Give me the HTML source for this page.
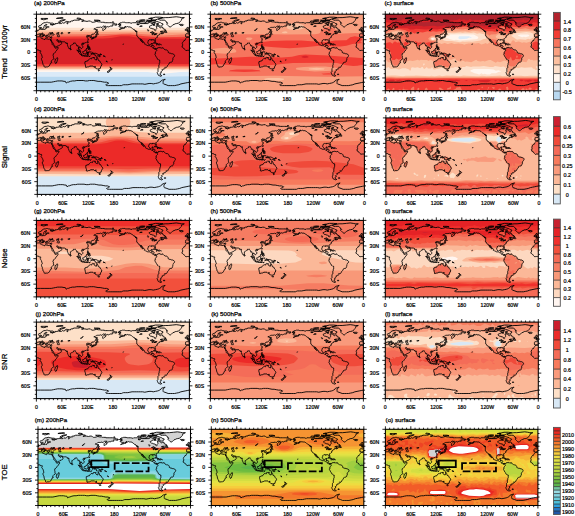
<!DOCTYPE html><html><head><meta charset="utf-8"><style>html,body{margin:0;padding:0;background:#fff;}body{width:575px;height:516px;overflow:hidden;position:relative;}</style></head><body><svg width="575" height="516" viewBox="0 0 575 516" style="position:absolute;left:0;top:0" font-family='"Liberation Sans", sans-serif'><defs><path id="cst" d="M192 24l2 1 1 1 4-1 0 1-1 0-3 1-1 1 1 2 3 0 0 1 2 0 2 0 1 0-1 1-1 2-1 0-2 1-3 1 2-1 3-1 2 0 2-1 2-1 0-1 2-1 2-1-2 1 0 1 2-1 2 0 2-1 2 1 2 0 2 0 2 1 2 1 2 2 1 1 2 1 1 0 0 1 2 1 0 1 2 1 1 2 1 1 0 1 0 1 0 2 0 1 0 2 0 1 2 1 0 1 1 1 0 1 2 1 1 0 1 1 0 1 1 2 1 0 1 2-1 0 2 2 1 1 1 1 1 1 1 0-1-1-1-1-1-2 0-1-1-1-1-1-1-2 1 1 2 1 1 2 1 2 2 1 0 1 2 1 0 1 1 1-1 1 2 1 1 1 1 0 2 1 2 1 2 0 1 0 1 0 2 1 1 1 1 0 2 1 1 1 1 1 0 1 1 0 1 1 1 1 1 0 2 1 0-1 0-1 2 1 0 1 1 1 0 2-2 2-1 1 0 1-1 2 1 0 0 1-1 1 0 1 0 1 1 1 1 2 1 2 1 1 1 2 0 1 2 1 2 2 2 0 0 3 0 3-1 2 0 2-1 2 0 2 0 2 0 2-1 1-1 1 0 2 0 2 0 2 0 1-2 2 1 1 0 2 1 2 1 2 1 0 2 1 3 1 1-1 1 0-2-1-1-1 0-1-1 0 0-2 1-1 2-1-2-2 2-1 1-1 1-1 0-1-1-1 1 0 2-1 0-1 1 0 2 0 1-1 1-2-1-1 1-1 1 1 2 0 1-1 1-2 1-2 1-1 1-1 1-2 0-1 2-1 1-1 2 0 1 0 1-1 1-2 0-1 1-1 0-2 0-2 1-1 0-1 1-1 1-1 1-2 0-1 0-1-1-1-2-1-2-1-2 0-2-1-2 0-2-1-2-1 0-2-1-2-1-1-2-1-1 0-2 0-1-1-2-1-1-1-1-1 0-1-2 0-2 1-1-1-1 1-1-2-1 0-1 1-1 0 0-1-1 1-1 0-2 1 0 1-1 1 0-1-1 0-2-1 0 1-2 0-1-1-1-1 0-1 1-2 0-1-1-1-2 0-2 0-1 0 1 0 0-2 0-2 1-1-1-1 0 1-2 0 0 1-1 1-1 0-1 1-1 0-1-1-1 0 0-1-1-1-1-1 0-2 0-1 1-1 0-1 0-1 2-1 1-1 2 0 1 1 2 0-1-1 2 0 2 0 1 0 1 0 1 1 0 1 1 1 0 1 1 1 1 0 0-1 0-2-1 0 0-2 0-2 1 0 1-1 1-1 1-1 1 0 0-2 0-1 1 0 0-1 1 0 0-1 1-1 1 0 1-1 1 0-1-1 1-1 1 0 1 0 1-1 1 0 1 0 1-1-2 1 0 1 1 0 1 0 2-1 1 0 1-1 0-1-2 1-2 0-1-1-1-1 2 0 0-1-2 0-1 0-2 1 1-1 1 0 1-1 2 0 3 0 2-1 2-1 1 0 0-1-1-1-3-1-2-1 0-2-1 0-1-2-1 0-1 1-2 1-2-1 0-1-2-1-2-1-2 0-2 0 0 2 1 2 0 1 0 1-2 2 0 1 0 1-1 1-2-1 0-1 0-1-2-1-4-1-2-1-2 0-2-2 0-1-1-1 2-1 2-1 1-1 2 0 1-1 1-1 1 0 2 0 1-1 0-1 1-2-2 0-3 0 0 1-2 2 0-1-2-1-2-1-2-1 1-1-2 0-1 2 0 1-2 1-4 0-2 0-4 0-2 0-3 0-2 0-2-1-3 0-4 0-1-1-3 0-2 0-2 0-2 0-1 1-3 0-2-1-2 0-4 0-2 0-2 0-2-1-3 0-2 0-1 0-2 1-2 0-2 1-1 1-1 0 2 0 0 1 2 0 0 1-2 0-2 0-1 0zM287 12l5-2 4-1 7-1 7 0 10-1 9-1 7 1 5 1 7 0-4 2-3 1 1 2-2 2-1 1-1 2-2 2-2 1-4 1-2 0-4 2-3 1-1 1-2 2-1 1-1 1-2 0-2-1-1-1-1-1-1-1-2-2-1-1 1-1 2-1-1-1-2 0 1-1-2-1-1-2-2-2-4 0-4 0-4 0-1-1zM295 28l-1 0-2 0-3-1-2-1-3 0-2-1 1 0 3-1 2-1-2-1-3 0-1-1-3-1-3 0-3 0-2-1-1-1 2-2 3 0 4 0 4 1 3 1 3 1 3 1 1 1 2 1 3 1 0 1-2 1 0 1-1 1zM270 14l1-2 1 0-4-2 4-1 8-2 10 0 8 1-2 0-5 2-5 1-2 1-3 1-3 1-6 0zM270 11l-6-1 1 0 5-1 3 1zM280 16l-5-1-7 0 0-1 4 0 6 0 2 0zM242 19l0-1 4-1 6 0 3 1 3 2 0 1-3 0-5 0-4 0-4-1zM235 18l1-2 4 0 4 0-2 2-3 1zM245 15l10-1 1 0-6-1-7 1zM258 18l4 0 2-1-3-1-3 1zM264 18l3 0 3-2-4 0-1 0zM259 14l4 1 4 0-1-1-5 0zM274 26l5 0-1-2-4 0-1 1zM301 42l1 0 0-2 2-1 0-1 0 2 2 0 0 1 1 1 0 1-1 0-2 0 0-1zM275 68l1-1 2 0 2 0 2 1 2 1 2 1-2 0-2 0 0-1-2-1-2 0-1 0zM286 72l1-2 3 0 2 1-2 1-2 0-1 0zM282 72l2 0-1 0zM293 72l1 0zM232 39l2 2 3 1-1-2-3-1zM206 32l2 0-2 1-1 0zM204 70l1 0-1 1zM299 141l3 0 0 1-1 0-2 0zM338 26l-2-2 2 0 6 0 2 1-1 1-3 1zM-6 40l3-1 4 0 1-2-2-1-2-2 0-1 0-1-2 0 1-1-2 0-1 1 0 2 1 1 2 0 0 1 0 1-2 0 1 1-1 0 2 1-1 0zM354 40l3-1 4 0 1-2-2-1-2-2 0-1 0-1-2 0 1-1-2 0-1 1 0 2 1 1 2 0 0 1 0 1-2 0 1 1-1 0 2 1-1 0zM354 38l0-1 0-2-1 0-3 1 0 1 0 1zM-6 54l2-1 2 0 1-1 1 0 0-1 0-1 1-1 1 0 1-1 0-1 1 0 1 0 2 0 0-1 1 0 1 0 1 0 0 1 1 1 1 0 1 1 1 0 1 1 1 0 0 1 0 1 1-1 0-1-1 0 1 0 1 0 0-1-1 0-1-1-1 0-1 0 0-2-2 0 0-1 1-1 1 0 0 1 1 1 1 0 1 1 1 0 1 1 1 1-1 1 1 0 1 1 0 1 1 0 0 1 0 1 1 0 0-1 1-1-1-1 0-1 0-1 1 1 0-1 1 0 1 0 1 1-1 0 1 1 0 1 0 1 1 0 1 0 1 1 1-1 1 0 1 1 1 0 1-1 1 0 0 1 0 1 0 1-1 1 0 1-1 1-1 0-1 0 1 1 0 1 1 1 1-2 0 2 1 1 0 1 2 2 0 1 1 1 1 2 1 2 1 1 1 1 0 2 1 1 1 0 1 0 2-1 2-1 1 0 1-1 2-1 1 0 1-1 1-1 1 0 1-1 0-1 1-1-1-1 0-1-1 0-1 0-1-1 0-1-1 1-1 1-1 0-1 0 0-1 0-1-1 0 0 1-1-1 0-1-1-1-1 0 0-1 0-1 2 0 1 1 1 1 1 1 1 0 2 0 1 0 0 1 2 0 1 1 2 0 1 0 2 0 1 0 1 0 1 1 0 1 1 0 1 0-1 1 1 1 1 0 1 0 0-1 1 0 0 1 0 1 0 1 0 1 0 1 1 2 0 1 1 1 0 1 1 1 0 1 1 1 1 1 0-1 1 0 0-1 1-1 0-1 0-1 0-1 0-2 1 0 1-1 1-1 1 0 1-1 1-1 1 0 0-2 1 0 1 0 1 0 1-1 1 1 0 1 1 1 1 1 0 1 1 1-1 1 1 0 1 0 1 0 1 0 0 1 0 1 1 2 0 2-1 2 1 1 1 1 0 1 1 1 0 1 1 1 1 1 1 0 0-1-1-2 0-1 0-1-1 0-1-1-1-1 0-1-1-1 1-2 0-1 1 0 1 0 0 1 1 0 0 1 1 0 1 1 0 1 1 0 1-1 1-1 1-1 0-2 0-1-1-1-1-1 0-1-1-1 0-1 1-1 1 0 0-1 1 0 1 0 0 1 0 1 0-1 1-1 1 0 2 0 1-1 1 0 1 0 1-1 1-1 1-1 0-1 1-1 1-1 0-1-1 0 1-1 0-1-1 0 0-1-1-1-1-1 1-1 1-1 1 0 1 0-1-1-1 0-1 0-1 1 0-1-1 0 0-1 2-1 1-1 1 1-1 1 1 0 1-1 1 0 1 0 0 1 0 1 1 0 1 0-1 1 0 1 0 1 2 0 1 0 0-1 1 0-1-2-1-1 0-1 1 0 1-1 0-1 1 0 0-1 1 0 1 0 1 0 2-1 1-1 1-1 0-1 2-1 0-1 0-1 1-2 0-1 0-1-1 0-2 0-1-1-2 0 1-1 2 0 1-1 2-1 1-1 2 0 2 0 2 0 3-1 1 1 2 0 1-1 2-2 3 0 0 1 2-1 1 0-2 2-3 2-1 1-1 1 0 2 0 2 1 1 1-1 1-1 1-1 2-1 0-1 1 0-1-2 1 0 1-2 2 0 2-1 2 1 2-1 2-1 2 0 3 0 0-1-1-1 0-1 2 0 2 0 2 0 2 1 2 0-1-2 2 0 1 0-2-1-2 0-2-1-2 0-2-1-4-1-4 0-2 0-2 0-5 0-3 0 0-1-5 0-3 0-2-1-4 0-5-1-3 1-4 1-3 0-2-1-1-1-1-1-4 0-4 1-5-1-4 0-3 1-1-1 4 0 2-2-5-1-3-1-4 2-3 0-4 0-4 0-3 1 0 1-4 0-2 1 1 1-3 0-2 1-1-2-1 2 0 3-2 1 0-1 0-2 1-3-3 0-2 1 0 1-1 1-3 1-3-1-2 2-3 0-2 0-2-1-4 1-2 0-2 0 0 2-2 0-2 0 0 1-2 1-2-1-1 1 0-2-2 0-1-1 2 0 2 1 3 0 2 0 0-2-1 0-2-1-3 0-2 0-3-1-2 0-2-1-2 0-3 1-3 0-2 1-2 1-1 2-1 0-1 2-1 0-2 1-2 0-1 1 0 1 0 1 1 1 0 1 1 0 1 0 2-1 0-1 1 1 1 1 0 1 1 1 1 1 2-1 0-1 1-1 0-1 1 0 1-1-1-1-1-1 1-1 2-1 1 0 1-2 2 0 1 1-1 0-1 1-1 1-1 1 1 1 0 1 2 0 1 0 1 0 2 0 1 0 1 0-1 0-1 0-2 0-2 1-1 0 1 1 0 1-2-1 0 1-1 1 0 1-1 0 0 1-1 0-1-1-2 1-2 0-2 0-1 0-1-1 0-1 0-1 1-1-1 1-1 0-1 0 0 1 1 1 0 1-1 0-1 0-1 1-1 0 0 1-1 0-2 1 0 1-2 0 0 1-1-1-1 0 0 1-2 0-1 1 1 0 1 0 1 1 0 1 1 0 0 1-1 1 0 1-2-1-2 0-1 0-1 0-1 1 0 1 0 1 0 1-1 1 1 0 0 1 0 1 1 0 1 0zM354 54l2-1 2 0 1-1 1 0 0-1 0-1 1-1 1 0 1-1 0-1 1 0 1 0 2 0 0-1 1 0 1 0 1 0 0 1 1 1 1 0 1 1 1 0 1 1 1 0 0 1 0 1 1-1 0-1-1 0 1 0 1 0 0-1-1 0-1-1-1 0-1 0 0-2-2 0 0-1 1-1 1 0 0 1 1 1 1 0 1 1 1 0 1 1 1 1-1 1 1 0 1 1 0 1 1 0 0 1 0 1 1 0 0-1 1-1-1-1 0-1 0-1 1 1 0-1 1 0 1 0 1 1-1 0 1 1 0 1 0 1 1 0 1 0 1 1 1-1 1 0 1 1 1 0 1-1 1 0 0 1 0 1 0 1-1 1 0 1-1 1-1 0-1 0 1 1 0 1 1 1 1-2 0 2 1 1 0 1 2 2 0 1 1 1 1 2 1 2 1 1 1 1 0 2 1 1 1 0 1 0 2-1 2-1 1 0 1-1 2-1 1 0 1-1 1-1 1 0 1-1 0-1 1-1-1-1 0-1-1 0-1 0-1-1 0-1-1 1-1 1-1 0-1 0 0-1 0-1-1 0 0 1-1-1 0-1-1-1-1 0 0-1 0-1 2 0 1 1 1 1 1 1 1 0 2 0 1 0 0 1 2 0 1 1 2 0 1 0 2 0 1 0 1 0 1 1 0 1 1 0 1 0-1 1 1 1 1 0 1 0 0-1 1 0 0 1 0 1 0 1 0 1 0 1 1 2 0 1 1 1 0 1 1 1 0 1 1 1 1 1 0-1 1 0 0-1 1-1 0-1 0-1 0-1 0-2 1 0 1-1 1-1 1 0 1-1 1-1 1 0 0-2 1 0 1 0 1 0 1-1 1 1 0 1 1 1 1 1 0 1 1 1-1 1 1 0 1 0 1 0 1 0 0 1 0 1 1 2 0 2-1 2 1 1 1 1 0 1 1 1 0 1 1 1 1 1 1 0 0-1-1-2 0-1 0-1-1 0-1-1-1-1 0-1-1-1 1-2 0-1 1 0 1 0 0 1 1 0 0 1 1 0 1 1 0 1 1 0 1-1 1-1 1-1 0-2 0-1-1-1-1-1 0-1-1-1 0-1 1-1 1 0 0-1 1 0 1 0 0 1 0 1 0-1 1-1 1 0 2 0 1-1 1 0 1 0 1-1 1-1 1-1 0-1 1-1 1-1 0-1-1 0 1-1 0-1-1 0 0-1-1-1-1-1 1-1 1-1 1 0 1 0-1-1-1 0-1 0-1 1 0-1-1 0 0-1 2-1 1-1 1 1-1 1 1 0 1-1 1 0 1 0 0 1 0 1 1 0 1 0-1 1 0 1 0 1 2 0 1 0 0-1 1 0-1-2-1-1 0-1 1 0 1-1 0-1 1 0 0-1 1 0 1 0 1 0 2-1 1-1 1-1 0-1 2-1 0-1 0-1 1-2 0-1 0-1-1 0-2 0-1-1-2 0 1-1 2 0 1-1 2-1 1-1 2 0 2 0 2 0 3-1 1 1 2 0 1-1 2-2 3 0 0 1 2-1 1 0-2 2-3 2-1 1-1 1 0 2 0 2 1 1 1-1 1-1 1-1 2-1 0-1 1 0-1-2 1 0 1-2 2 0 2-1 2 1 2-1 2-1 2 0 3 0 0-1-1-1 0-1 2 0 2 0 2 0 2 1 2 0-1-2 2 0 1 0-2-1-2 0-2-1-2 0-2-1-4-1-4 0-2 0-2 0-5 0-3 0 0-1-5 0-3 0-2-1-4 0-5-1-3 1-4 1-3 0-2-1-1-1-1-1-4 0-4 1-5-1-4 0-3 1-1-1 4 0 2-2-5-1-3-1-4 2-3 0-4 0-4 0-3 1 0 1-4 0-2 1 1 1-3 0-2 1-1-2-1 2 0 3-2 1 0-1 0-2 1-3-3 0-2 1 0 1-1 1-3 1-3-1-2 2-3 0-2 0-2-1-4 1-2 0-2 0 0 2-2 0-2 0 0 1-2 1-2-1-1 1 0-2-2 0-1-1 2 0 2 1 3 0 2 0 0-2-1 0-2-1-3 0-2 0-3-1-2 0-2-1-2 0-3 1-3 0-2 1-2 1-1 2-1 0-1 2-1 0-2 1-2 0-1 1 0 1 0 1 1 1 0 1 1 0 1 0 2-1 0-1 1 1 1 1 0 1 1 1 1 1 2-1 0-1 1-1 0-1 1 0 1-1-1-1-1-1 1-1 2-1 1 0 1-2 2 0 1 1-1 0-1 1-1 1-1 1 1 1 0 1 2 0 1 0 1 0 2 0 1 0 1 0-1 0-1 0-2 0-2 1-1 0 1 1 0 1-2-1 0 1-1 1 0 1-1 0 0 1-1 0-1-1-2 1-2 0-2 0-1 0-1-1 0-1 0-1 1-1-1 1-1 0-1 0 0 1 1 1 0 1-1 0-1 0-1 1-1 0 0 1-1 0-2 1 0 1-2 0 0 1-1-1-1 0 0 1-2 0-1 1 1 0 1 0 1 1 0 1 1 0 0 1-1 1 0 1-2-1-2 0-1 0-1 0-1 1 0 1 0 1 0 1-1 1 1 0 0 1 0 1 1 0 1 0zM-6 54l-1 2-1 1-2 2 0 1-1 2-2 0-1 2-2 2 0 2-1 1 1 1 0 2 0 2-2 1 1 1 0 2 1 0 2 2 1 0 1 2 1 1 1 1 2 2 2-1 2 0 2 0 1 0 2-1 1 0 2 0 1 0 1 2 1 0 1 0 1 0 1 0 0 2 0 1-1 1 0 1 1 1 1 2 1 1 0 1 1 2 0 1 1 2-1 2-1 1 0 2 0 1 1 2 1 2 0 2 1 2 0 2 1 2 1 1 1 2 0 2 1 0 1 1 2-1 2 0 2 0 1 0 1-1 2-1 1-2 1-2 1-2 0-1 3-1-1-2 0-2 1-1 1-1 1-1 2-1 1-1-1-3 0-2 0-2-1-1 0-1 1-2 0-1 2-1 2-2 1-2 2-2 1-2 2-2 1-2 0-2-1 0-2 1-3 1-1 0-1-2 0-1-1-1-1-1-1-1-1-1-2-2 0-1 0-1-1-1 0-2-1-2-1-1 0-1-1-2-1-1-1-1-1 1-2 0-3-1-2 0-2-1-1 1 0 1 0 1-2-1-1 0-1-1-1 0-2-1-1 0-1-1-1 0 1-1-1-1 0-1-2 0-2 0-1 0-2 0-2 1-2 0-1 1-2 0-1-1zM354 54l-1 2-1 1-2 2 0 1-1 2-2 0-1 2-2 2 0 2-1 1 1 1 0 2 0 2-2 1 1 1 0 2 1 0 2 2 1 0 1 2 1 1 1 1 2 2 2-1 2 0 2 0 1 0 2-1 1 0 2 0 1 0 1 2 1 0 1 0 1 0 1 0 0 2 0 1-1 1 0 1 1 1 1 2 1 1 0 1 1 2 0 1 1 2-1 2-1 1 0 2 0 1 1 2 1 2 0 2 1 2 0 2 1 2 1 1 1 2 0 2 1 0 1 1 2-1 2 0 2 0 1 0 1-1 2-1 1-2 1-2 1-2 0-1 3-1-1-2 0-2 1-1 1-1 1-1 2-1 1-1-1-3 0-2 0-2-1-1 0-1 1-2 0-1 2-1 2-2 1-2 2-2 1-2 2-2 1-2 0-2-1 0-2 1-3 1-1 0-1-2 0-1-1-1-1-1-1-1-1-1-2-2 0-1 0-1-1-1 0-2-1-2-1-1 0-1-1-2-1-1-1-1-1 1-2 0-3-1-2 0-2-1-1 1 0 1 0 1-2-1-1 0-1-1-1 0-2-1-1 0-1-1-1 0 1-1-1-1 0-1-2 0-2 0-1 0-2 0-2 1-2 0-1 1-2 0-1-1zM49 102l1 2 0 2-1 2 0 2-1 2-1 3-2 1-1-1 0-1-1-2 1-2 0-2 0-1 0-1 2 0 2-2zM80 84l0-2 0-2 1 2 1 1-1 1zM12 52l1 0 3 0-1 1-1 0-1-1zM8 51l0-2 2 0 0 1-1 1zM9 49l0-2 1 1zM24 55l2 0zM32 55l1 0 1-1 0 1-1 0zM11 12l2 0 3 1 2 0 4-1-1-1 6 0-1-1-6 0-4 0-5 0zM52 18l1 2 4-1-1-1 4-2 6-2 2-1-3 0-6 1-4 2zM47 10l8 0 8-1-3-1-10 1zM95 10l5 2 5-1-1-1-7-1zM136 14l4 2 6-1 4 0-5-1-5 0zM179 19l1 0 2 0-1-1-2 0zM140 49l0-2 1 0 1-1 0-2 1 1 1 1 1 0 1 1-2 0-1 1-1-1-1 1zM131 56l1-1 2-1 1 0 1 0 1-1 1 0 2-1 0-2 0-1 1 0 1 1 0 2-1 0 0 1 0 1-1 1-1 0-1 0-1 0 0 1-1 0-1 0 0-1-1 0-1 1-1 0zM130 57l0-1 1 0 1 1 0 1-1 1-1 0 0-1zM132 57l1-1 1 0 1 0-1 1-1 0zM142 44l2-1-1-1 2-1-2-2 0-1 0-2-1 0 0 1 0 1 0 2 0 2 0 1zM120 67l1-1 1-1 0 1-1 2zM109 71l1-1 1 0-1 1-1 1zM121 72l0-1 1 1 0 1 0 1 0 1 1 1 1 0 0 1-1 0-1-1-1 0 0-1-1 0 0-1zM122 83l0-1 2-1 0 1 2-2 0 1 1 2-1 1-1 0-1 0 0-1zM124 78l2 0 0 1-1 1-1-1zM122 78l1 0 0 2 0 1-1-1zM120 76l2 1-1 1-1 0zM117 82l3-3 0 1-2 2zM109 88l1 0 1 0 2-1 1-2 2 0 0-1 1-1 1 1 1 1-1 1 0 1 0 1 1 1-1 0 0 1-1 1 0 1-1 1 0 1-2 0-1-1-1 0-2 0 0-1-1-1 0-1zM95 84l1 1 2 0 0 1 2 1 0 1 1 0 1 1 1 1 1 0 0 2 1 0 1 1 0 1 0 2-1 0-1-1-2-1-1-2-1-1-1-1 0-2-1 0-1-2-1 0zM105 97l1-1 2 0 2 1 3 0 2 1-1 1-3-1-3 0-2-1zM115 98l2 0 2 0 3 0 1 0-2 1-3 0-2 0zM124 100l1-1 2-1-1 1zM119 96l1-2-1-1 0-1 1-2 0-1 2 0 1 0 1 0 1-1-1 2-1 0-1 0-2 0 0 1 2 0 1 0-1 1-1 0 1 1 1 1-1 1-1-1 0-1-1 0 0 1 0 2zM128 88l0 1 0 1-1-1zM128 93l3 0-1 1-2 0zM131 91l1-1 2 1 0 2 2 0 0-1 2 0 1 0 1 0 2 1 2 1 2 1 0 1 2 0 0 2 1 1 1 1-1 0-2 0-1-2-2 0-2 1-1 0-1-1-2 0 0-2 0-1-2-1-2 0-2 0 0-1 1-1-1 0zM148 96l2-1 2-1 0 2-2 0zM151 93l1 1 1 1-1-1zM157 98l3 1 2 1-2-1zM164 110l3 2-1 0-2-1zM177 108l1-1 0 1zM114 112l0 2 0 2 1 3 0 1 1 2 0 2-1 0 1 1 2 0 2-1 2 0 2-1 2-1 3 0 2 0 2 0 1 1 2 2 0-1 2-1 0-1 0 2 0 2 2 1 1 1 3 1 1-1 1 1 2-1 2 0 1-4 1-2 2-3-1-3-2-2-1-2-1-2-3-1-1-3 0-1-1-1-1-2-1-1 0 2 0 2-1 3-2-1-2-1-1-2 1-2-1 0-3 0-1-1-1 1-1 3-2 0-1-1-2 1-1 1-2 2-1 2-2 0-2 1zM145 131l3 0 0 2-1 1-2-2zM173 124l1 2 2 1 2 1 0 1-1 1-1 1-1 0 0-1-1-1 1-2zM173 130l1 2-1 1 0 1-2 0 0 2-2 1-3-1 1-1 1-1 2-1 2-1zM28 48l1-1 0-1 1-1 0-1 1 0 1-1 1 1 1 0-1 1-1 0 2 1 0-1 2 0 2 0 0 1 2 0 1 1 1 1-2 1-1 0-1 0-2 0-1-1-1 0-3 1-2 0zM35 44l1 1 1 0 1-2 1 0-1 0zM50 50l-1 1 0 1 1 1 2 0 2 0 0-1-1-1 1-1-1-1 0-1-1 0 0-1-1-1-1-1 1 0 2 0 0-2-1 0-2 1-2 0 0 2 0 1 0 1 2 1zM58 44l3-1 1 2-1 1-1 0-2 0zM104 38l2 0 1-1 1-1 2-2-1 0-1 2-2 1-1 1zM74 44l2 0 3-1 0 1-3 0zM268 43l3-1 3-1 1 2 1 1-4 0zM272 48l0-2 2-2 1 0-1 2 0 2zM276 44l2 0 2 2-2 1-2-1zM276 48l3 0 2-1-1 1-2 0zM280 47l4-1-3 1zM263 40l1-2-2-2-1 1 1 1zM243 29l3-1 3 0-3 0-2 0zM236 24l3 0 3 0-3 1zM0 160l10 0 10 0 10 0 5 0 5-1 5-1 5-1 5 0 5 0 5 1 3 0 2 4 3-2 2 0 5-2 5-1 5 0 5-1 5 0 5 0 5 0 5 1 5 0 5-1 5 0 5 0 5 1 5 1 5 0 5 1 5 1 5 0 5 2-2 2-3 1-2 1 2 2 2 0 3 0 5 0 5 0 5 0 5 0 5 0 5 0 2-1 3-1 5 0 5 0 5-1 5-1 5 0 5 0 5 0 5 0 5 0 5 1 5-1 5-1 5 0 5 1 5-1 5-1 3-1 2-1 3-2 1-2 2-1 3-1 4-1-1 1-2 2-2 1 0 2 0 2 0 2 1 1 6 2 5 2 5 0 5 0 5 0 5-1 5-1 5-2 5-1 5-1 5-1 5-1"/></defs><rect width="575" height="516" fill="#fff"/><svg x="36.45" y="14.20" width="153.00" height="76.50" viewBox="0 0 360 180" preserveAspectRatio="none"><rect x="-10" y="-10" width="380" height="200" fill="#b8d8f0"/><path fill="#dbeaf8" fill-rule="evenodd" d="M-8 -8l376 0 0 154-68 1-308 0z"/><path fill="#fff5ee" fill-rule="evenodd" d="M-8 -8l376 0 0 143-29 1-39 4-39-4-19 0-250 0z"/><path fill="#fde0cc" fill-rule="evenodd" d="M-8 32l376 0 0 100-376 0z"/><path fill="#fcc0a0" fill-rule="evenodd" d="M-8 38l376 0 0 91-376 0z"/><path fill="#f9a080" fill-rule="evenodd" d="M-8 43l224-2 84 2 68 0 0 84-376 0z"/><path fill="#f6755e" fill-rule="evenodd" d="M148 47l72-2 78 5 42-2 28 0 0 76-376 0 0-76z"/><path fill="#f23c34" fill-rule="evenodd" d="M200 48l20 0 36 4 34 2 78-1 0 68-376 0 0-68 162-1z"/><path fill="#d92228" fill-rule="evenodd" d="M198 52l20 0 26 4 18 1 106 1 0 59-376 0 0-59 166-1 18-1z"/><use href="#cst" fill="none" stroke="#000" stroke-width="2.1" stroke-linejoin="round"/></svg><rect x="36.45" y="14.20" width="153.00" height="76.50" fill="none" stroke="#000" stroke-width="1.05"/><path d="M36.45 14.20v-3.0M36.45 90.70v3.0M40.70 14.20v-1.6M40.70 90.70v1.6M44.95 14.20v-1.6M44.95 90.70v1.6M49.20 14.20v-1.6M49.20 90.70v1.6M53.45 14.20v-1.6M53.45 90.70v1.6M57.70 14.20v-1.6M57.70 90.70v1.6M61.95 14.20v-3.0M61.95 90.70v3.0M66.20 14.20v-1.6M66.20 90.70v1.6M70.45 14.20v-1.6M70.45 90.70v1.6M74.70 14.20v-1.6M74.70 90.70v1.6M78.95 14.20v-1.6M78.95 90.70v1.6M83.20 14.20v-1.6M83.20 90.70v1.6M87.45 14.20v-3.0M87.45 90.70v3.0M91.70 14.20v-1.6M91.70 90.70v1.6M95.95 14.20v-1.6M95.95 90.70v1.6M100.20 14.20v-1.6M100.20 90.70v1.6M104.45 14.20v-1.6M104.45 90.70v1.6M108.70 14.20v-1.6M108.70 90.70v1.6M112.95 14.20v-3.0M112.95 90.70v3.0M117.20 14.20v-1.6M117.20 90.70v1.6M121.45 14.20v-1.6M121.45 90.70v1.6M125.70 14.20v-1.6M125.70 90.70v1.6M129.95 14.20v-1.6M129.95 90.70v1.6M134.20 14.20v-1.6M134.20 90.70v1.6M138.45 14.20v-3.0M138.45 90.70v3.0M142.70 14.20v-1.6M142.70 90.70v1.6M146.95 14.20v-1.6M146.95 90.70v1.6M151.20 14.20v-1.6M151.20 90.70v1.6M155.45 14.20v-1.6M155.45 90.70v1.6M159.70 14.20v-1.6M159.70 90.70v1.6M163.95 14.20v-3.0M163.95 90.70v3.0M168.20 14.20v-1.6M168.20 90.70v1.6M172.45 14.20v-1.6M172.45 90.70v1.6M176.70 14.20v-1.6M176.70 90.70v1.6M180.95 14.20v-1.6M180.95 90.70v1.6M185.20 14.20v-1.6M185.20 90.70v1.6M189.45 14.20v-3.0M189.45 90.70v3.0M36.45 90.70h-3.0M189.45 90.70h3.0M36.45 86.45h-1.6M189.45 86.45h1.6M36.45 82.20h-1.6M189.45 82.20h1.6M36.45 77.95h-3.0M189.45 77.95h3.0M36.45 73.70h-1.6M189.45 73.70h1.6M36.45 69.45h-1.6M189.45 69.45h1.6M36.45 65.20h-3.0M189.45 65.20h3.0M36.45 60.95h-1.6M189.45 60.95h1.6M36.45 56.70h-1.6M189.45 56.70h1.6M36.45 52.45h-3.0M189.45 52.45h3.0M36.45 48.20h-1.6M189.45 48.20h1.6M36.45 43.95h-1.6M189.45 43.95h1.6M36.45 39.70h-3.0M189.45 39.70h3.0M36.45 35.45h-1.6M189.45 35.45h1.6M36.45 31.20h-1.6M189.45 31.20h1.6M36.45 26.95h-3.0M189.45 26.95h3.0M36.45 22.70h-1.6M189.45 22.70h1.6M36.45 18.45h-1.6M189.45 18.45h1.6M36.45 14.20h-3.0M189.45 14.20h3.0" stroke="#000" stroke-width="0.85" fill="none"/><g font-size="5.2" fill="#000" stroke="#000" stroke-width="0.22"><text x="30.25" y="28.85" text-anchor="end">60N</text><text x="30.25" y="41.60" text-anchor="end">30N</text><text x="30.25" y="54.35" text-anchor="end">0</text><text x="30.25" y="67.10" text-anchor="end">30S</text><text x="30.25" y="79.85" text-anchor="end">60S</text><text x="36.45" y="101.10" text-anchor="middle">0</text><text x="61.95" y="101.10" text-anchor="middle">60E</text><text x="87.45" y="101.10" text-anchor="middle">120E</text><text x="112.95" y="101.10" text-anchor="middle">180</text><text x="138.45" y="101.10" text-anchor="middle">120W</text><text x="163.95" y="101.10" text-anchor="middle">60W</text><text x="189.45" y="101.10" text-anchor="middle">0</text></g><text x="34.10" y="5.30" font-size="6.2" fill="#000" stroke="#000" stroke-width="0.25">(a) 200hPa</text><svg x="210.40" y="14.20" width="153.00" height="76.50" viewBox="0 0 360 180" preserveAspectRatio="none"><rect x="-10" y="-10" width="380" height="200" fill="#b8d8f0"/><path fill="#dbeaf8" fill-rule="evenodd" d="M-8 -8l376 0 0 196-376 0z"/><path fill="#fff5ee" fill-rule="evenodd" d="M-8 -8l376 0 0 196-376 0z"/><path fill="#fde0cc" fill-rule="evenodd" d="M-8 -8l376 0 0 196-376 0z"/><path fill="#fcc0a0" fill-rule="evenodd" d="M-8 -8l376 0 0 196-376 0z"/><path fill="#f9a080" fill-rule="evenodd" d="M-8 -8l376 0 0 196-376 0zM136 150l-9 2 0 2 9 2 14 0 14 0 9-2 0-2-11-2zM176 40l-7 2 0 2 5 1 6-1 2-2zM202 21l-16 2-5 3-2 2 1 4 2 2 5 2 17 1 14-3 3-4-2-4-7-3zM250 126l-19 2 2 2 17 1 17-1 2-2z"/><path fill="#f6755e" fill-rule="evenodd" d="M268 32l10-2 10 2 8 6 2 6 4 2 40-2 26 2 0 35-5 1-5 4 1 2 1 2 8 1 0 55-92 1-124-2-160 1 0-101 30 2 132 0 22 1 70-1 8-1 4-2 2-6zM18 80l-15 2-3 2-2 2 1 2 1 2 10 1 24 2 25-3 2-2 0-2-4-4-7-1-16-2zM86 55l-3 3 5 3 6 0 5-3-1-2-4-1zM220 124l-17 2-2 2 1 2 10 2 34 3 40-2 12-3 1-2-3-2-26-3-26 0z"/><path fill="#f23c34" fill-rule="evenodd" d="M329 54l11-2 11 2 4 2 2 4-4 4 0 2 6 2-25 2-14 4-14 2-14 0-24-3-46 5-36 2-36-2-40-4-5-2-2-4 39-5 38-1 34 0 54 4 26-4 24-1 2 0zM-8 69l0-15 3 2 2 4-4 4 0 2 6 2zM209 96l15-1 52 2 92 7 0 13-22 4-10 1-16-2-22-5-14-1-90 1-56 5-34 2-36-1-52-4-24 3 0-17 26 1 76-4 74 2 24-2zM62 130l36 0 17 2 3 2-38 2-37-2 4-2zM261 140l17-1 14 1-7 2-9 0-10 0z"/><path fill="#d92228" fill-rule="evenodd" d="M220 98l6 0 5 2-1 2-8 1-6-1-2-2z"/><use href="#cst" fill="none" stroke="#000" stroke-width="2.1" stroke-linejoin="round"/></svg><rect x="210.40" y="14.20" width="153.00" height="76.50" fill="none" stroke="#000" stroke-width="1.05"/><path d="M210.40 14.20v-3.0M210.40 90.70v3.0M214.65 14.20v-1.6M214.65 90.70v1.6M218.90 14.20v-1.6M218.90 90.70v1.6M223.15 14.20v-1.6M223.15 90.70v1.6M227.40 14.20v-1.6M227.40 90.70v1.6M231.65 14.20v-1.6M231.65 90.70v1.6M235.90 14.20v-3.0M235.90 90.70v3.0M240.15 14.20v-1.6M240.15 90.70v1.6M244.40 14.20v-1.6M244.40 90.70v1.6M248.65 14.20v-1.6M248.65 90.70v1.6M252.90 14.20v-1.6M252.90 90.70v1.6M257.15 14.20v-1.6M257.15 90.70v1.6M261.40 14.20v-3.0M261.40 90.70v3.0M265.65 14.20v-1.6M265.65 90.70v1.6M269.90 14.20v-1.6M269.90 90.70v1.6M274.15 14.20v-1.6M274.15 90.70v1.6M278.40 14.20v-1.6M278.40 90.70v1.6M282.65 14.20v-1.6M282.65 90.70v1.6M286.90 14.20v-3.0M286.90 90.70v3.0M291.15 14.20v-1.6M291.15 90.70v1.6M295.40 14.20v-1.6M295.40 90.70v1.6M299.65 14.20v-1.6M299.65 90.70v1.6M303.90 14.20v-1.6M303.90 90.70v1.6M308.15 14.20v-1.6M308.15 90.70v1.6M312.40 14.20v-3.0M312.40 90.70v3.0M316.65 14.20v-1.6M316.65 90.70v1.6M320.90 14.20v-1.6M320.90 90.70v1.6M325.15 14.20v-1.6M325.15 90.70v1.6M329.40 14.20v-1.6M329.40 90.70v1.6M333.65 14.20v-1.6M333.65 90.70v1.6M337.90 14.20v-3.0M337.90 90.70v3.0M342.15 14.20v-1.6M342.15 90.70v1.6M346.40 14.20v-1.6M346.40 90.70v1.6M350.65 14.20v-1.6M350.65 90.70v1.6M354.90 14.20v-1.6M354.90 90.70v1.6M359.15 14.20v-1.6M359.15 90.70v1.6M363.40 14.20v-3.0M363.40 90.70v3.0M210.40 90.70h-3.0M363.40 90.70h3.0M210.40 86.45h-1.6M363.40 86.45h1.6M210.40 82.20h-1.6M363.40 82.20h1.6M210.40 77.95h-3.0M363.40 77.95h3.0M210.40 73.70h-1.6M363.40 73.70h1.6M210.40 69.45h-1.6M363.40 69.45h1.6M210.40 65.20h-3.0M363.40 65.20h3.0M210.40 60.95h-1.6M363.40 60.95h1.6M210.40 56.70h-1.6M363.40 56.70h1.6M210.40 52.45h-3.0M363.40 52.45h3.0M210.40 48.20h-1.6M363.40 48.20h1.6M210.40 43.95h-1.6M363.40 43.95h1.6M210.40 39.70h-3.0M363.40 39.70h3.0M210.40 35.45h-1.6M363.40 35.45h1.6M210.40 31.20h-1.6M363.40 31.20h1.6M210.40 26.95h-3.0M363.40 26.95h3.0M210.40 22.70h-1.6M363.40 22.70h1.6M210.40 18.45h-1.6M363.40 18.45h1.6M210.40 14.20h-3.0M363.40 14.20h3.0" stroke="#000" stroke-width="0.85" fill="none"/><g font-size="5.2" fill="#000" stroke="#000" stroke-width="0.22"><text x="204.20" y="28.85" text-anchor="end">60N</text><text x="204.20" y="41.60" text-anchor="end">30N</text><text x="204.20" y="54.35" text-anchor="end">0</text><text x="204.20" y="67.10" text-anchor="end">30S</text><text x="204.20" y="79.85" text-anchor="end">60S</text><text x="210.40" y="101.10" text-anchor="middle">0</text><text x="235.90" y="101.10" text-anchor="middle">60E</text><text x="261.40" y="101.10" text-anchor="middle">120E</text><text x="286.90" y="101.10" text-anchor="middle">180</text><text x="312.40" y="101.10" text-anchor="middle">120W</text><text x="337.90" y="101.10" text-anchor="middle">60W</text><text x="363.40" y="101.10" text-anchor="middle">0</text></g><text x="210.60" y="5.30" font-size="6.2" fill="#000" stroke="#000" stroke-width="0.25">(b) 500hPa</text><svg x="385.30" y="14.20" width="153.00" height="76.50" viewBox="0 0 360 180" preserveAspectRatio="none"><rect x="-10" y="-10" width="380" height="200" fill="#b8d8f0"/><path fill="#dbeaf8" fill-rule="evenodd" d="M-8 -8l376 0 0 196-376 0z"/><path fill="#fff5ee" fill-rule="evenodd" d="M-8 -8l376 0 0 196-376 0zM174 52l-2 2 0 2 1 2 3 1 16-1 6-3 4 1 1-2-7-2z"/><path fill="#fde0cc" fill-rule="evenodd" d="M-8 -8l376 0 0 196-376 0zM112 56l-2 0-2 2 2 2 3 0 3-2zM188 47l-36 1-2 3-6 1-1 4 5 1 4 2 10 2 4-1 10 2 38-3 3-1 2-2-1-3-10-5zM318 48l-4 1-2 1 2 1 8 3 4-1 4 1 8-2 1-2-3-2-6 0zM208 129l-7 3-1 2 10 5 6 1 4 2 2 0 4-3 4 2 4-1 5 2 7 0 4-3 10 0 6-3 6-1 1-1-7-2-6 1-5-3-11-1z"/><path fill="#fcc0a0" fill-rule="evenodd" d="M-8 -8l376 0 0 132-8 1-4-3-2 2 3 4 0 2-3 2-4-4-2 1-2-3-2-1-16 1-8-1-8 2-4-1-6 5-5 1-6 10 5 3 4-1 4 1 8 0 8 0 8 1 12-1 6 0 20 0 2-1 0 44-376 0 0-44 8 0 6 1 8-1 10 0 18 2 6-1 20 0 4-1 32 2 4-1 8 1 12-2 6 2 10-2 10 1 4-1 18 2 8-2 6 1 30 1 8-1 10 1 26-1 6-1 6 2 8-1 2-1-1-4 1-10-4-5-4-2-6 1-14-2-4 2-8 0-14-2-10 1-16 0-4 1-12-2-2 2-6 0-2 1 0 3-4 3-6-6-6-1-4 2-6 0-4 4 0 2-2 2-2-1-12-7-18 4-2 0-4-6-2 3-2 1-6 0-2-4-6 5-2-1-2-4-2 0-4 3-6-2-6 1-6-1-3 1-1 6-2 1-2-3-8-3-8 0-8 3-8-2-10 1-3-1-3-4-4 2 0 3-1-3-3-2-4 3-4 0 0-6 1-1-1-1 0-64 1-1-1 0zM32 44l-1 2 5 0-2 0zM90 116l-1 2 1 3 3-3-1-2zM108 56l-1 2 3 3 6-1 2-2-1-2-3-1zM124 54l-2 4 9 2-1-3-4 0zM148 44l-8 6 0 4-1-6-1-1-7 3-1 4 6-1 4 1-2 1-3 5 3 2 6 1 12 0 20 3 6-2 4 1 12-1 6 1 20-3 6-3 6-1 2-2-6-9-10-2-6 1-8-3-6 1-14-1-6 1-6-1-14 2zM310 44l-7 2-5 4-3 0 15 10 6-1 14 1 6-2 4 1 9-5-1-8-6-3-10-1zM366 130l2-1 0 2zM169 132l3-1 1 1 0 2-3 3-3-1z"/><path fill="#f9a080" fill-rule="evenodd" d="M-8 -8l376 0 0 55-4 1-3 4 7 1 0 38-1 1 1 1 0 19-2 0-4-4-14 1-2-2-4 1-4-3-2 1-4 7-10-2-4 3-4 1-12 13-6 2-8 10-1-2 2-6-2-6 2-4-1-8-2-3-6-2-10 4-6-2-4 3-12-6-4 0-10 3-4-1-6 1-7-1-3-3-12 6-6-1-4-1-4 1-6-3-4 2-4 0-8-3-1-4-3 0-6 3-6 0 4 9 0 4-4 6-4 3-4-1-6-5-6-2-14 4-2-3-1-10-1-2-6-3-4 3-4-2-10 0-4-1-4 2-4-2-6 2-6 1-6-1-6 1-3 4-3 2-2-1-1-1-1-6-4 2-4 8-4 4-6 3-4 0-7-9-1-3-4 0-2 0-2-4-6 0-2 2-4-1 0-7 1-1-1-1 0-4 2-1-2-1 0-38 3-3-3-1 0-6 5-1-1-2-4-2 1-2-1 0zM24 40l-10 2-1 2 0 4-1 1-4-2-4 1-2 2 0 2 10 0 4-2 2 2-3 2 0 2 3 1 4-1 0-2 2 2 2-1-2-3 1-2-1 0 0 2-2 2-3-2 1-6 6 0 4 3 9-1-1-6-6-2zM146 40l-2 0-1 6-3-2-2 0-8 5-2 4-4-3-4 0-1 4-9-1-4 3-1 2 1 2 4 2 10-1 1 1-1 6 6-1 6 3 8-2 6 2 2 0 8-2 6 2 10-1 10 1 4 2 4-2 6-1 4 0 4-1 8 1 8-1 6 3 8-2 2-1 4 2 6-4-2-6-8-10-1-6-3-2-4-1-22-2-10 2-8-1-30 1zM310 40l-6 3-6-1-1 2-2 2-10 4-3 5-1-1 0-2-3-6-2 2-2 1-6-2-3 1-5 4 0 2 4 3 6 1-1 2-5 2 2 3 2 2 4-1 5-2-2-6 3-2 2 0-1 2 0 6 7 0 6 4 4 0 1-4 3-3 3 1 3 4 8-2 8 3 4-1 6 1 8-2 9-5 6-6-3-2 0-4 5-2 0-2-3-4-24-1zM-8 148l22-1 12 1 46-1 42 1 30-1 68 1 58-1 18 1 34-1 44 1 2 1 0 39-376 0z"/><path fill="#f6755e" fill-rule="evenodd" d="M-8 -8l376 0 0 43-2 1 2 0 0 4-3 2 0 2-3 2 0-4 4-6-2-1-2 0-2 3-2 1-8-1-2-2-6 0-12-3-10 2-6-1-8 1-4 4-7 1-1 4-6 3-4 0-6-3-4 1-2-1 2-2-2 0-1 2-7 1-4 2-12 1-2 2-2 0-2-2-4-1 0-3-2-2-10-6-4-1-16 1-8-1-4 1-6-1-4 1-18-1-8 3-6-3-8 1-3 4-7 5-6 2-4-1-4 1-4 3-8 1-6 5-1 2 3 4 6 1 8 1-2 3-8 5 1 6-3 3-16-11-6 2-2 2-2 6 1 2-1 1-5-5-4-8-5-4-6-1-2 1 1 4-1 1-9 5-1 2 4 2-4 6-8 8 0 4 1 4 0 4-6 4-5 9-2 1-6 1-6-6-4-9 0-8-3-6-1-6-4-2-4 2-8-1 0-26 4-3 6-2 8 1 2 2 4 2 6-1 12 1 1-1 0-4-1-1-5-1 11-2 2-2 2-6-3-2-9-3-18 1-9 4-3 4-3-4 5-3 3-3-1-2-4 0-2 5-8 0zM48 44l-1 2 2 6 3 1 2-1-1-8-3-1zM38 69l0 3 2 2 0-4zM356 56l12-2 0 31-20 0-3-5-3-2 2-6-1-4 3-4 4-2zM246 58l14 2 2 2 3 8 7 0 0 4 4 1 2 5 2 2 8-5 2 1 8 1 6 5 4 1 2 4 6 3 4 1 5 3 0 2-7 14-6 2-3 4-3 3-10 2-4-1-3-14-6-4-5-8 0-6 3-4-1-4-4 0-4-4-6-3-2 0-8-3-6-11zM280 68l2-1 2 4-2 1zM97 86l3-5 2 1 2 2-1 4 2 4-1 3-6-5zM123 82l1-1 3 1-1 1-2 1zM108 90l8-7 3 1 0 2 4 8-1 1-2 1-2-3-6 0-2-1zM131 92l7-2 12 6 0 2-2 1-4 1-1 2 2 6 3 2 4 8 0 2-4 4-2 0-6-1-8-4-4 0-4 3-8 0 0-10 6-4 2-3 6-1 2-4 2 0 4 6 2 0 2-6zM367 96l1-1 0 7-2-4zM110 98l2-1 2 1-2 1zM47 104l3-1 1 1 0 2-3 6-2 1-1-1 0-6zM-8 150l22-1 12 1 338 0 4 1 0 37-376 0z"/><path fill="#f23c34" fill-rule="evenodd" d="M-8 -8l376 0 0 39-2 1-8-3-1 1 2 4-1 1-2 0-1-1 0-4-1-1-14 1-6-3-8 2-4 0-6 2-18-2-2 1 5 6-3 2-10 3-6-1 1-6-2-4-7-1-5 1 8 6 1 4-6-1-14 2-6-1-14 0-17-8-7-1-10 2-16-4-6 1-16 1-8 5-1-4-1-1-14 1-3 2 1 2 0 2-8 3-4-1-8 1-8-1-6 2-6-2-12 3-12-2-3 1-3 4-10-5-6 0-6-3-16-3-8 0-1-1 1-3-4-1-4 3-4 1-10-5-4 0-1 1 1 4-2 0-2-3-2 0zM367 62l1-3 0 4zM61 62l1-1 2 1-2 0zM69 64l1-1 8 4 6-1 2 2-6 4-2 3-2 0-2-3-1-4-1-2-2 0zM354 64l2 0 6 5 2 3 1-2 3-2 0 13-2 1-4-1-4 2-8 0-1-1-4-6 2-4-1-4zM18 69l2-4 4-1 4 3 4-1 3 2 0 4 1 2 6 5 4 1 2 2-10 12-1 4 1 2 0 4-6 3-6-3-4 4-6-1-1-1-2-16-5-8-4-2-4 2-6-1-2 2 0-16 4 0 4 3 4-3 6-1 2 0 4 3zM43 68l5-3 6 3 0 2-8 5-2-2zM101 66l5 0 1 2-2 2 0 2 2 4-1 2-13-10 1-1 4 0zM257 68l3-2 2 2 0 4-5-2zM288 80l10 2 12 10 2 0 4 3 4 1 1 2-4 8-11-1-2 3-4 1-2-1-2-7-2 0-2 5-7-2-3-8-1-6 3-4 0-4zM310 97l-2 1 0 2 0 2 2 1 2-3-1-2zM114 88l1 2-3 0zM139 94l5 1 1 1-1 2-4-2zM-8 175l0-24 8 1 12-1 12 1 70-1 18 1 26-1 226 1 4 0 0 21-4 1-1 2 5 1 0 5-4-2-2 1-6-6-3 1 2 8 0 4-5 0-2-2-2 2-2-3-2 1 0 2-2-2-1 2-4 0 2-2-1-1-9-1-1-2 2-6-2-2-2 0-2 1-4 4-2 0-4-2 0 1-4 1-10 0-2 1 1 8-8 0-2-6 3-6-2-6-4 2 2 8-8 3-2 0-1-3-5-5-4 1 1 6-3 4 1 2-3-2-1 2-5-1-1 1-4 0 1-3 2-1 0-2-6-3-2 3-2-1-2-3-2-1-4 5-4 1-4 0-2 5-3 0 0-4 0-4-1-4-6 2-2 2-2 2 1 2-3 3-2-3-2 0 4-2-4-3-2 1 1 4-5 0-2 2 1 2-8 0 1-8-4-2-4 2-4-2-4-8-4 2-4 0-3 4-5 2-1 6-2 4-5 0 0-5-6 2-2-4-2-1-2 0-1 4-3 1-1 3-6 0-5-2-2 2-2-1-1 1-2 0-3-5-2 1 1 4-2 0-1-3-1 3-7 0-2-2-6-3-2 3 0 2-5 0-1-2-1 2-4 0 0-4-2-4 1-6-2-1-2 1-1 6-1 1-4-2-2 1 2 4-2 1-4-1 3-2 1-2 0-8-2-2-5 4-2 6 1 4-2 4-4 0 0-3 3-3 0-2-3-2-8-1-4-2-2 3-2 0 2 0 10 10-5 0-1-1-2 0-1 1-4 0 1-2-2-3-8 2-2 0-1 1 0 2-7 0-2-3 0 3-5 0 3-4 0-2-1-2-5-5-3 1-1 2 0 6-6 0-4 2-1 2-1 0 0-5 2-1-2-1 0-2 4-1 3-2zM18 174l-2 4 0 2 2 1 2-1 2-4-2-3zM32 177l-1 1 1 1 4 1 2-2zM42 170l0 2 0 1 1-1zM96 173l-3 3 1 6 2 0 4-4-2-5zM126 173l0 3 4 3 4 1 3-2-7-5zM155 170l-2 0 0 2-7 2-1 2 1 2 8-2zM228 170l-2 2 2 2 2-2zM242 172l-1 2 1 2 3-4zM252 171l-1 1 3 4 4-2-1-2zM330 174l1 2-2 2 3 3 2-1 2-2-3-2-1-2zM340 172l-4 4 1 2 5 0 3-2-1-2zM310 184l4 0 2 2-1 2-4 0zM3 188l1-4 2 4zM164 188l2-2 1 2zM171 188l1-3 2 0 2 1 0 2zM184 186l2-2 1 4-6 0 1-2zM218 186l2 0 0 2-3 0zM231 188l1-4 1 4zM235 186l3-1 2 1-1 2-4 0zM269 188l1-2 1 2zM284 186l2 0 0 2-3 0zM301 188l1-3 4 0 1 3zM316 186l2-1 1 3-2 0zM70 188l0-2 6 1 0 1zM363 188l1-2 1 2z"/><path fill="#d92228" fill-rule="evenodd" d="M-8 -8l376 0 0 26-2 2 2 1 0 2-8-3-12-1-3 3 1 2-2 3-6 0-1-3 1-2-2-1-16 5-4 3-5-1-7-7-4 1-1 2-5 3-6 1 2 1 4 5-8-1-2-2 0-4 4 1-4-5-3 1-1 2-2 1-4-1-6 2-3 2-1 4-4-1-4 2-4-1-10 1-10-1-16-5-8 1-4 2-6-2-2-2 0-2-3-6-7-1-1 1 4 4-1 1-14 4-8 0-4 2-4-2-8 2-8-1-4 2-4 3-4-1-8 2-14-1-12 1-24-2-6 2-8 0-6-3-14 0-8-2-2-2-8-2-2 1-1 2-3 2-8-4 6-6-1-2-13-2-4 3-2-3zM42 20l-2 0 0 3zM365 28l3-1 0 3-2 0zM-6 154l4 0 4 2-1 2-3 1-5-3zM93 154l25 2 6-1 18 1-2 2-6-1-6 3-4 0-6-4-8 2-4-1-14 3-2-3-2 0-4 1-4-1-6 2-4-3 14-1 6 1zM242 154l9 2-3 0-4 3-6 1-16-1-4-3-12 1-2-1zM317 154l5 0 4 2 14-2 6 2 6-2 12 1 4 2 0 3-6-2-8 1-6-3-12 4-4-2-2 1-4-3-6 2-4-2zM7 156l5-2 8 0 3 2-3 2-10 0zM25 156l9-2 6 2-12 2zM46 156l4-1 6-1 4 2-4 2-4 1-4-1zM145 156l5-2 12 1 6-1 9 2-3 2-12-1-4 4-4-2-4 0zM186 156l6-1 2 1-2 1zM256 156l4-1 3 1-3 2-2 0zM266 156l18-1 8 1 6-1 7 1-9 2-8-2-8 1-4 2-8-1z"/><path fill="#b3242e" fill-rule="evenodd" d="M-8 -8l47 0 1 2 3-2 138 0 1 1 1-1 51 0 2 1 1-1 70 0 1 1 1-1 31 0 0 1 0-1 28 0 0 15-1 1 1 1 0 6-5-1-3-3-8 2-8 1-6-2-2 2-4 1-5-1-1-2-2 0-2 2-4 0-6 1-12-3-4 1-4-3-2 1-2 3-2 1-20-1-4-3-4 2-6-2-6 3-4 0-6 1-10-1 0-2-6 2-8-1-6 2-3-1-1-2-4-1-2 3-4 1-4-1-2-2-9 2-1-4-6 3-6 1-14 1-6-2-8 1-4-1-6 2-14-2-6 1-10-1-4-3-16 5-6 0-2-3-4-1-6 3-6 1-5-1-1-2-6 0-1 2-3 1-8 1-32-4-1-2-3-1 0-2 2-1-2-1zM276 8l0 2 2 0-1-2zM16 22l10-4 2 0 2 3 3 1-2 4-5 0-4-1-10 3zM62 22l10-4 20 1 10-1 52 1 6 0 2 2 18 0 2 1 1 2-9 2-16 0-10 3-4-1-4-2-8 2-10 1-6-2-4 0-22 2-6-2-2 1-4-1-12 1-4-2-4 3-4-1-10 1-4-1 4-5 4 0 4-2zM196 22l2-3 8-1 10 1 2 2 4 1 8-1 2-2 2 0 3 3 0 4-1 2-2 1-6-2-12-1-6 2-6 0-7-4zM243 20l13-1 2 1 0 3 8-4 5 3 0 2-9 5-8-2-10 2-2-1 1-4-1-2zM275 20l3-2 6 2-8 3-2-1zM284 20l6 0 4 2 1 2-5 2zM308 20l2-1 8-1 15 2-13 4-4 3-4-1-4-4z"/><use href="#cst" fill="none" stroke="#000" stroke-width="2.1" stroke-linejoin="round"/></svg><rect x="385.30" y="14.20" width="153.00" height="76.50" fill="none" stroke="#000" stroke-width="1.05"/><path d="M385.30 14.20v-3.0M385.30 90.70v3.0M389.55 14.20v-1.6M389.55 90.70v1.6M393.80 14.20v-1.6M393.80 90.70v1.6M398.05 14.20v-1.6M398.05 90.70v1.6M402.30 14.20v-1.6M402.30 90.70v1.6M406.55 14.20v-1.6M406.55 90.70v1.6M410.80 14.20v-3.0M410.80 90.70v3.0M415.05 14.20v-1.6M415.05 90.70v1.6M419.30 14.20v-1.6M419.30 90.70v1.6M423.55 14.20v-1.6M423.55 90.70v1.6M427.80 14.20v-1.6M427.80 90.70v1.6M432.05 14.20v-1.6M432.05 90.70v1.6M436.30 14.20v-3.0M436.30 90.70v3.0M440.55 14.20v-1.6M440.55 90.70v1.6M444.80 14.20v-1.6M444.80 90.70v1.6M449.05 14.20v-1.6M449.05 90.70v1.6M453.30 14.20v-1.6M453.30 90.70v1.6M457.55 14.20v-1.6M457.55 90.70v1.6M461.80 14.20v-3.0M461.80 90.70v3.0M466.05 14.20v-1.6M466.05 90.70v1.6M470.30 14.20v-1.6M470.30 90.70v1.6M474.55 14.20v-1.6M474.55 90.70v1.6M478.80 14.20v-1.6M478.80 90.70v1.6M483.05 14.20v-1.6M483.05 90.70v1.6M487.30 14.20v-3.0M487.30 90.70v3.0M491.55 14.20v-1.6M491.55 90.70v1.6M495.80 14.20v-1.6M495.80 90.70v1.6M500.05 14.20v-1.6M500.05 90.70v1.6M504.30 14.20v-1.6M504.30 90.70v1.6M508.55 14.20v-1.6M508.55 90.70v1.6M512.80 14.20v-3.0M512.80 90.70v3.0M517.05 14.20v-1.6M517.05 90.70v1.6M521.30 14.20v-1.6M521.30 90.70v1.6M525.55 14.20v-1.6M525.55 90.70v1.6M529.80 14.20v-1.6M529.80 90.70v1.6M534.05 14.20v-1.6M534.05 90.70v1.6M538.30 14.20v-3.0M538.30 90.70v3.0M385.30 90.70h-3.0M538.30 90.70h3.0M385.30 86.45h-1.6M538.30 86.45h1.6M385.30 82.20h-1.6M538.30 82.20h1.6M385.30 77.95h-3.0M538.30 77.95h3.0M385.30 73.70h-1.6M538.30 73.70h1.6M385.30 69.45h-1.6M538.30 69.45h1.6M385.30 65.20h-3.0M538.30 65.20h3.0M385.30 60.95h-1.6M538.30 60.95h1.6M385.30 56.70h-1.6M538.30 56.70h1.6M385.30 52.45h-3.0M538.30 52.45h3.0M385.30 48.20h-1.6M538.30 48.20h1.6M385.30 43.95h-1.6M538.30 43.95h1.6M385.30 39.70h-3.0M538.30 39.70h3.0M385.30 35.45h-1.6M538.30 35.45h1.6M385.30 31.20h-1.6M538.30 31.20h1.6M385.30 26.95h-3.0M538.30 26.95h3.0M385.30 22.70h-1.6M538.30 22.70h1.6M385.30 18.45h-1.6M538.30 18.45h1.6M385.30 14.20h-3.0M538.30 14.20h3.0" stroke="#000" stroke-width="0.85" fill="none"/><g font-size="5.2" fill="#000" stroke="#000" stroke-width="0.22"><text x="379.10" y="28.85" text-anchor="end">60N</text><text x="379.10" y="41.60" text-anchor="end">30N</text><text x="379.10" y="54.35" text-anchor="end">0</text><text x="379.10" y="67.10" text-anchor="end">30S</text><text x="379.10" y="79.85" text-anchor="end">60S</text><text x="385.30" y="101.10" text-anchor="middle">0</text><text x="410.80" y="101.10" text-anchor="middle">60E</text><text x="436.30" y="101.10" text-anchor="middle">120E</text><text x="461.80" y="101.10" text-anchor="middle">180</text><text x="487.30" y="101.10" text-anchor="middle">120W</text><text x="512.80" y="101.10" text-anchor="middle">60W</text><text x="538.30" y="101.10" text-anchor="middle">0</text></g><text x="384.50" y="5.30" font-size="6.2" fill="#000" stroke="#000" stroke-width="0.25">(c) surface</text><text transform="translate(7.3 38.00) rotate(-90)" text-anchor="middle" font-size="7.5" fill="#000" stroke="#000" stroke-width="0.25">K/100yr</text><text transform="translate(7.3 68.60) rotate(-90)" text-anchor="middle" font-size="8.0" fill="#000" stroke="#000" stroke-width="0.25">Trend</text><rect x="553.50" y="12.40" width="6.80" height="8.79" fill="#b3242e"/><rect x="553.50" y="21.14" width="6.80" height="8.79" fill="#d92228"/><rect x="553.50" y="29.88" width="6.80" height="8.79" fill="#f23c34"/><rect x="553.50" y="38.62" width="6.80" height="8.79" fill="#f6755e"/><rect x="553.50" y="47.36" width="6.80" height="8.79" fill="#f9a080"/><rect x="553.50" y="56.10" width="6.80" height="8.79" fill="#fcc0a0"/><rect x="553.50" y="64.84" width="6.80" height="8.79" fill="#fde0cc"/><rect x="553.50" y="73.58" width="6.80" height="8.79" fill="#fff5ee"/><rect x="553.50" y="82.32" width="6.80" height="8.79" fill="#dbeaf8"/><rect x="553.50" y="91.06" width="6.80" height="8.79" fill="#b8d8f0"/><path d="M553.50 21.14h6.80M553.50 29.88h6.80M553.50 38.62h6.80M553.50 47.36h6.80M553.50 56.10h6.80M553.50 64.84h6.80M553.50 73.58h6.80M553.50 82.32h6.80M553.50 91.06h6.80" stroke="#222" stroke-width="0.7"/><rect x="553.50" y="12.40" width="6.80" height="87.40" fill="none" stroke="#555" stroke-width="0.9"/><g font-size="5.4" fill="#000" stroke="#000" stroke-width="0.22" text-anchor="middle"><text x="567.2" y="23.69">1.4</text><text x="567.2" y="32.43">0.8</text><text x="567.2" y="41.17">0.7</text><text x="567.2" y="49.91">0.6</text><text x="567.2" y="58.65">0.4</text><text x="567.2" y="67.39">0.3</text><text x="567.2" y="76.13">0.2</text><text x="567.2" y="84.87">0</text><text x="567.2" y="93.61">-0.5</text></g><svg x="37.30" y="117.90" width="153.00" height="76.50" viewBox="0 0 360 180" preserveAspectRatio="none"><rect x="-10" y="-10" width="380" height="200" fill="#d8e8f5"/><path fill="#fde0c8" fill-rule="evenodd" d="M-8 -8l376 0 0 145-376 0z"/><path fill="#fbb898" fill-rule="evenodd" d="M164 0l10-8 32 0 3 2 7 6 3 8-1 8-6 8 1 2 18 6 15 2 18 1 104 0 0 97-152 1-224-1 0-97 124 0 20-1 14-2 17-6 1-2-6-8-1-8z"/><path fill="#f99a7c" fill-rule="evenodd" d="M179 42l33 0 68 6 88 1 0 79-92 0-60 2-66-2-158 0 0-79 118-1z"/><path fill="#f77a5c" fill-rule="evenodd" d="M175 46l19-1 18 1 66 7 90 1 0 71-94 0-58 3-64-3-160 0 0-71 120-1z"/><path fill="#f46a58" fill-rule="evenodd" d="M180 48l34 0 32 6 20 2 102 1 0 65-98 0-56 3-58-3-164 0 0-65 132-1 18-1 22-5z"/><path fill="#f04a3a" fill-rule="evenodd" d="M187 50l25 1 26 6 18 2 112 0 0 60-102 0-52 2-54-2-168 0 0-60 140 0 18-2 20-5z"/><path fill="#ec2a28" fill-rule="evenodd" d="M183 54l9-1 10 0 24 6 24 3 118 0 0 52-376 0 0-52 148 0 24-3z"/><use href="#cst" fill="none" stroke="#000" stroke-width="2.1" stroke-linejoin="round"/></svg><rect x="37.30" y="117.90" width="153.00" height="76.50" fill="none" stroke="#000" stroke-width="1.05"/><path d="M37.30 117.90v-3.0M37.30 194.40v3.0M41.55 117.90v-1.6M41.55 194.40v1.6M45.80 117.90v-1.6M45.80 194.40v1.6M50.05 117.90v-1.6M50.05 194.40v1.6M54.30 117.90v-1.6M54.30 194.40v1.6M58.55 117.90v-1.6M58.55 194.40v1.6M62.80 117.90v-3.0M62.80 194.40v3.0M67.05 117.90v-1.6M67.05 194.40v1.6M71.30 117.90v-1.6M71.30 194.40v1.6M75.55 117.90v-1.6M75.55 194.40v1.6M79.80 117.90v-1.6M79.80 194.40v1.6M84.05 117.90v-1.6M84.05 194.40v1.6M88.30 117.90v-3.0M88.30 194.40v3.0M92.55 117.90v-1.6M92.55 194.40v1.6M96.80 117.90v-1.6M96.80 194.40v1.6M101.05 117.90v-1.6M101.05 194.40v1.6M105.30 117.90v-1.6M105.30 194.40v1.6M109.55 117.90v-1.6M109.55 194.40v1.6M113.80 117.90v-3.0M113.80 194.40v3.0M118.05 117.90v-1.6M118.05 194.40v1.6M122.30 117.90v-1.6M122.30 194.40v1.6M126.55 117.90v-1.6M126.55 194.40v1.6M130.80 117.90v-1.6M130.80 194.40v1.6M135.05 117.90v-1.6M135.05 194.40v1.6M139.30 117.90v-3.0M139.30 194.40v3.0M143.55 117.90v-1.6M143.55 194.40v1.6M147.80 117.90v-1.6M147.80 194.40v1.6M152.05 117.90v-1.6M152.05 194.40v1.6M156.30 117.90v-1.6M156.30 194.40v1.6M160.55 117.90v-1.6M160.55 194.40v1.6M164.80 117.90v-3.0M164.80 194.40v3.0M169.05 117.90v-1.6M169.05 194.40v1.6M173.30 117.90v-1.6M173.30 194.40v1.6M177.55 117.90v-1.6M177.55 194.40v1.6M181.80 117.90v-1.6M181.80 194.40v1.6M186.05 117.90v-1.6M186.05 194.40v1.6M190.30 117.90v-3.0M190.30 194.40v3.0M37.30 194.40h-3.0M190.30 194.40h3.0M37.30 190.15h-1.6M190.30 190.15h1.6M37.30 185.90h-1.6M190.30 185.90h1.6M37.30 181.65h-3.0M190.30 181.65h3.0M37.30 177.40h-1.6M190.30 177.40h1.6M37.30 173.15h-1.6M190.30 173.15h1.6M37.30 168.90h-3.0M190.30 168.90h3.0M37.30 164.65h-1.6M190.30 164.65h1.6M37.30 160.40h-1.6M190.30 160.40h1.6M37.30 156.15h-3.0M190.30 156.15h3.0M37.30 151.90h-1.6M190.30 151.90h1.6M37.30 147.65h-1.6M190.30 147.65h1.6M37.30 143.40h-3.0M190.30 143.40h3.0M37.30 139.15h-1.6M190.30 139.15h1.6M37.30 134.90h-1.6M190.30 134.90h1.6M37.30 130.65h-3.0M190.30 130.65h3.0M37.30 126.40h-1.6M190.30 126.40h1.6M37.30 122.15h-1.6M190.30 122.15h1.6M37.30 117.90h-3.0M190.30 117.90h3.0" stroke="#000" stroke-width="0.85" fill="none"/><g font-size="5.2" fill="#000" stroke="#000" stroke-width="0.22"><text x="31.10" y="132.55" text-anchor="end">60N</text><text x="31.10" y="145.30" text-anchor="end">30N</text><text x="31.10" y="158.05" text-anchor="end">0</text><text x="31.10" y="170.80" text-anchor="end">30S</text><text x="31.10" y="183.55" text-anchor="end">60S</text><text x="37.30" y="204.80" text-anchor="middle">0</text><text x="62.80" y="204.80" text-anchor="middle">60E</text><text x="88.30" y="204.80" text-anchor="middle">120E</text><text x="113.80" y="204.80" text-anchor="middle">180</text><text x="139.30" y="204.80" text-anchor="middle">120W</text><text x="164.80" y="204.80" text-anchor="middle">60W</text><text x="190.30" y="204.80" text-anchor="middle">0</text></g><text x="34.10" y="110.60" font-size="6.2" fill="#000" stroke="#000" stroke-width="0.25">(d) 200hPa</text><svg x="211.40" y="117.90" width="153.00" height="76.50" viewBox="0 0 360 180" preserveAspectRatio="none"><rect x="-10" y="-10" width="380" height="200" fill="#d8e8f5"/><path fill="#fde0c8" fill-rule="evenodd" d="M-8 -8l376 0 0 196-376 0z"/><path fill="#fbb898" fill-rule="evenodd" d="M-8 -8l376 0 0 196-376 0zM172 46l-1 2 3 1 4 1 4-2-1-2-1-1zM184 35l-1 3 3 2 6 0 5-2 0-2-5-2z"/><path fill="#f99a7c" fill-rule="evenodd" d="M-8 -8l376 0 0 196-376 0zM98 54l-4 2 1 2 7 1 3-1 1-2-3-2zM180 32l-5 2-2 2-1 4-9 6 0 2 2 2 9 2 10-1 8-6 12-4 3-3 0-2-2-2-7-3-10-1z"/><path fill="#f77a5c" fill-rule="evenodd" d="M-8 -8l376 0 0 18-376 0zM10 36l6-2 8 0 6 2 2 2 1 2-5 3-10 2-8-3-2-1 0-3zM-8 54l28-2 20 2 38 1 4 0 10 5 8 1 7-1 11-5 6-1 30 0 22 2 26-2 122 1 44-2 0 104-376 0z"/><path fill="#f46a58" fill-rule="evenodd" d="M168 60l38 0 76 4 86 0 0 81-376 0 0-81 108 0zM240 122l-4 2 5 2 9 1 9-1 5-2-3-2-5-1z"/><path fill="#f04a3a" fill-rule="evenodd" d="M173 64l27 0 23 2 12 4 3 2 0 2-4 4-6 2-20 3-20 0-20 0-20-3-6-2-4-4 0-2 3-2 5-2 8-2zM70 100l26-1 22 2 9 3 2 2-5 3-16 5 11 2 73 6 8 1 5 3-3 3-6 1-33 4-55 3-52 1-64-4 0-19 10 3 10 0 54-4-14-8 1-2 5-2zM215 102l29-1 30 1 60 7 24 8 10 1 0 17-20-1-36 0-20-2-4-2-1-8-3-3-6-3-70 1-18-2-13-3-4-2 0-2 9-3z"/><use href="#cst" fill="none" stroke="#000" stroke-width="2.1" stroke-linejoin="round"/></svg><rect x="211.40" y="117.90" width="153.00" height="76.50" fill="none" stroke="#000" stroke-width="1.05"/><path d="M211.40 117.90v-3.0M211.40 194.40v3.0M215.65 117.90v-1.6M215.65 194.40v1.6M219.90 117.90v-1.6M219.90 194.40v1.6M224.15 117.90v-1.6M224.15 194.40v1.6M228.40 117.90v-1.6M228.40 194.40v1.6M232.65 117.90v-1.6M232.65 194.40v1.6M236.90 117.90v-3.0M236.90 194.40v3.0M241.15 117.90v-1.6M241.15 194.40v1.6M245.40 117.90v-1.6M245.40 194.40v1.6M249.65 117.90v-1.6M249.65 194.40v1.6M253.90 117.90v-1.6M253.90 194.40v1.6M258.15 117.90v-1.6M258.15 194.40v1.6M262.40 117.90v-3.0M262.40 194.40v3.0M266.65 117.90v-1.6M266.65 194.40v1.6M270.90 117.90v-1.6M270.90 194.40v1.6M275.15 117.90v-1.6M275.15 194.40v1.6M279.40 117.90v-1.6M279.40 194.40v1.6M283.65 117.90v-1.6M283.65 194.40v1.6M287.90 117.90v-3.0M287.90 194.40v3.0M292.15 117.90v-1.6M292.15 194.40v1.6M296.40 117.90v-1.6M296.40 194.40v1.6M300.65 117.90v-1.6M300.65 194.40v1.6M304.90 117.90v-1.6M304.90 194.40v1.6M309.15 117.90v-1.6M309.15 194.40v1.6M313.40 117.90v-3.0M313.40 194.40v3.0M317.65 117.90v-1.6M317.65 194.40v1.6M321.90 117.90v-1.6M321.90 194.40v1.6M326.15 117.90v-1.6M326.15 194.40v1.6M330.40 117.90v-1.6M330.40 194.40v1.6M334.65 117.90v-1.6M334.65 194.40v1.6M338.90 117.90v-3.0M338.90 194.40v3.0M343.15 117.90v-1.6M343.15 194.40v1.6M347.40 117.90v-1.6M347.40 194.40v1.6M351.65 117.90v-1.6M351.65 194.40v1.6M355.90 117.90v-1.6M355.90 194.40v1.6M360.15 117.90v-1.6M360.15 194.40v1.6M364.40 117.90v-3.0M364.40 194.40v3.0M211.40 194.40h-3.0M364.40 194.40h3.0M211.40 190.15h-1.6M364.40 190.15h1.6M211.40 185.90h-1.6M364.40 185.90h1.6M211.40 181.65h-3.0M364.40 181.65h3.0M211.40 177.40h-1.6M364.40 177.40h1.6M211.40 173.15h-1.6M364.40 173.15h1.6M211.40 168.90h-3.0M364.40 168.90h3.0M211.40 164.65h-1.6M364.40 164.65h1.6M211.40 160.40h-1.6M364.40 160.40h1.6M211.40 156.15h-3.0M364.40 156.15h3.0M211.40 151.90h-1.6M364.40 151.90h1.6M211.40 147.65h-1.6M364.40 147.65h1.6M211.40 143.40h-3.0M364.40 143.40h3.0M211.40 139.15h-1.6M364.40 139.15h1.6M211.40 134.90h-1.6M364.40 134.90h1.6M211.40 130.65h-3.0M364.40 130.65h3.0M211.40 126.40h-1.6M364.40 126.40h1.6M211.40 122.15h-1.6M364.40 122.15h1.6M211.40 117.90h-3.0M364.40 117.90h3.0" stroke="#000" stroke-width="0.85" fill="none"/><g font-size="5.2" fill="#000" stroke="#000" stroke-width="0.22"><text x="205.20" y="132.55" text-anchor="end">60N</text><text x="205.20" y="145.30" text-anchor="end">30N</text><text x="205.20" y="158.05" text-anchor="end">0</text><text x="205.20" y="170.80" text-anchor="end">30S</text><text x="205.20" y="183.55" text-anchor="end">60S</text><text x="211.40" y="204.80" text-anchor="middle">0</text><text x="236.90" y="204.80" text-anchor="middle">60E</text><text x="262.40" y="204.80" text-anchor="middle">120E</text><text x="287.90" y="204.80" text-anchor="middle">180</text><text x="313.40" y="204.80" text-anchor="middle">120W</text><text x="338.90" y="204.80" text-anchor="middle">60W</text><text x="364.40" y="204.80" text-anchor="middle">0</text></g><text x="210.60" y="110.60" font-size="6.2" fill="#000" stroke="#000" stroke-width="0.25">(e) 500hPa</text><svg x="385.90" y="117.90" width="153.00" height="76.50" viewBox="0 0 360 180" preserveAspectRatio="none"><rect x="-10" y="-10" width="380" height="200" fill="#d8e8f5"/><path fill="#fde0c8" fill-rule="evenodd" d="M-8 -8l376 0 0 196-376 0zM110 58l0 2 3 0 1-2zM170 48l-12 1-5 3 4 2 7 1 22 1 12 0 12-2 3-2-5-3-10-2zM266 44l-4 2-3 6 2 2 5 4 6-4 0-2-3-6z"/><path fill="#fbb898" fill-rule="evenodd" d="M-8 -8l376 0 0 104-1 2 1 0 0 27-2 3 1 2-2 2 3 1 0 4-2 1 2 2 0 48-376 0 0-44 2-2-2-2 0-3 3-1-3-4 0-5 1-1-1-5 1-3-1-1zM22 40l-8 2-2 2 2 2 4 2 8 0 10-1 2-2-4-4zM66 129l-1 1 1 3 4 1 2 2 4 0 0-3-4 1-4-5zM88 48l2 1 6 1 5-2-5-2zM108 54l1 2-2 2 0 2 1 1 4 1 6-2 0-2-3-2 0-2-3-1zM122 56l-1 4 1 2 2 0 1-2-1-3zM144 134l-7 2 1 2 4-1 4 2 1-3zM204 45l-46 2-14 3-2 2 12 4 44 4 6-2 16-3 5-3-1-2-2-1zM238 41l0 3-2 2-1 4 4 4 19 0 4 2 4 4 6-5 8-2 4 1 1-4 3-2 3-4-3-1-8 0 0 5-2 1-3-3-9-5-12 2-4-1zM306 138l-1 2 1 1 3-1 1-2zM316 142l0 2 2 0zM318 135l-2 1 2 3 1-3zM24 142l-2 2 7 0 0-2-1-2-2 2zM90 135l-1 5 3 2 3-6-1-2zM112 142l2 1 1-1-1-1zM122 133l0 3 2 2 1-2 0-2-1-1zM156 129l-4 3-2 4 2 6 4-1 2 1 2 0 4-6 0-2-6-5zM176 142l-3 2 3 0zM214 134l-1 2 1 4 4-6-2-1zM224 135l-2 1 0 2 2 1 1-1zM238 141l-1 1 0 2 2 0zM262 142l0 2 3 0-1-2zM274 134l-2 2 2 2 2 0 1-2-1-1z"/><path fill="#f99a7c" fill-rule="evenodd" d="M-8 -8l376 0 0 45-1 1 1 2-10 2-2 2-1 2-1 6 14 3 0 32-4-2-6 2-8-1-3-2-5-6-1-4 1-2-1-4 1-4-2-2 0-2 2 0 2 2 3-2 7-8-7-2 2-4-3-2-3 4 3 4-4 1-6-3-1-4-5-2-2 2 1 2-1 1-10 5-4-3-4 2-8-5-6 1 0-1 2-4-2-1-4-3-8-1-46-1-3 2-1 4-2 1-26-4-20 1-6-1-12 3-6 0-4-1-6 3-10-1-10 2-6 3-12-1-4-3-6-2-16-1-12 3-6 5-4-3-2 1-3 3 17 1 6-2 18 4 3 1-1 4 2 2 4 1 8 0 1 1-1 2-7 6 0 6-5 5-2 4 2 7-1 2-1 1-5-5-2-6 1-4 2-2 2 0-6-5-4-4-2-1-7 4-3 9-5-3-3-8-6-5-4 0-2 1 0 2-2 3-7 3-2 2 3 2-1 4-10 10-1 2 2 4 0 6-5 4-4 10-9 6-4 0-3-4-3-8-3-4-1-4 1-8-1-2-4-4 1-4-1-2-2-1-6 2-6-2 0-28 3-5-3-1zM34 38l-24 1-8 4-6 0-3 3 3 4 4 2 10 0 8 4 4-1 10 2 4-3 12-3 6 1 1-2 5-2 0-2-2-2-2-1-4 1-4-4-4 1zM366 50l2-1 0 3zM132 54l4 0 2 2-2 3-2 0-4-3zM244 56l16 0 3 4 3 9 4-2 12-2 8 7 4-3 3 3-3 3-4-3-2 1-2-1-4 2-4-5-4 3 4 3 2 5 8-4 10 2 6 5 6 2 2 4 12 4 2 3 0 2-7 16-1 2-4 0-12 14-4 0-2 2-4 8 1 4 0 2 23 2 48-1 4 1 0 40-376 0 0-41 10 0 8-1 16 2 10-1 8 1 6-1 16 1 18-2 8 1 24 0 12 1 14-1 32 1 14-2 36 1 10 1 24-1 6 1 24-1 2-1-5-4-1-2 0-6 2-3 0-5 2-6-1-10-5-4-2-4-4-4 2-8 3-4 0-2-5-1-10-7-2 1-8-4-6-9-4 1-1-1-2-6zM273 56l5-1 5 1-5 7-7-3 0-2zM202 70l2-1 1 1-1 2zM119 72l3-1 2 1 0 4-2 1-3-1-1-2zM126 80l2 2-2 2-2 0-2-2 2-2zM110 86l6-5 3 1 1 2 0 2 4 8-4 2-4-2-2 2 2 2-2 2-4 0-2-2 4-4-2-1-2-3zM128 88l8 3 8 0 8 5-2 3-6 3 2 4 5 4 1 2 4 4-4 10-5 4 2 2-1 1-2 0-2-3-4-1-4-4-4-2-10 1-4 2-2 0-2-2-2-8 4-7 5-1 3-6 4 1 4-4 2 0 4 5 2-2 0-2-2-3-6-2-4-3-1-2zM218 94l16-4 6 4 8 0 4-1 9 3-7 7-4 1-28-1-6 1-10-4-10 1-4 2-2-1-2-3-4 1-3-2 3-2 4 2 6-3 4 1 4-2 6 1 4-3zM-8 100l0-4 2 2zM264 98l2-2 7 4-1 2-2 0-4-2zM46 102l4-1 2 3 0 2-3 8-5 2-3-2 0-2 2-6zM178 106l2 2-2 1-2-1zM-8 109l0-2 2 1zM174 130l0-5 4 2 1 1-1 2-2 1zM167 136l5-5 1 1 0 2-3 3-2 0z"/><path fill="#f77a5c" fill-rule="evenodd" d="M-8 -8l376 0 0 42-12 2-10-2-10 4-8-4-10 1-6 0-4-1-6 1-8 3-16-3-6 2-34-1-6 1-12-3-10 1-22-1-18 2-4-2-6 3-12-2-5 1-3 2-8-2-54 2-10-1-6-1-10 1-5-1-21 0-8-2-4 2-10-1-6 1-6-2zM-8 57l4-2 12 0 10 4 6-2 2 2 6 0 2 0 2-3 2-1 54 0 7 1 5 7 11 3-5 4-2 0 1 6 0 2-3 2-6-4-8-7-2 0-8 4-4 7-2-2-4-9-6-4-8 0 0 5-2 2-8 3-4 3 5 2-1 5-9 9 1 6 0 5-5 5-3 8-4 4-6 3-2-1-2-4-5-10-1-4 1-10-4-4 0-6-5-3-6 2-6-1zM38 68l-1 4 5 4 1-2zM133 56l1-1 2 1-2 1zM353 56l3-1 12 0 0 30-4-2-6 2-8-1-4-5-2-1-1-10 2-4 4-2zM254 66l2-2 4 0 2 1 2 6 2 0 4-1 1 0 1 5 5 1-1 4-10-7-2 1-6-1-3-3zM282 82l6-4 10 1 6 6 4 1 2 5 10 2 4 3-6 16-5 2-7 10-5 4-5 2-5 10-1 3-4-2 0-3 1-6 1-6 1-2 0-14 0-2-6-4-4-8 1-6 3-4zM100 84l3 0-1 3-2 1 2 1 2 3-2 1-2-3zM115 84l2 0 1 6-2 2-4 0-2-2zM137 94l1-1 6 0 3 3 0 2-5 1zM132 102l2 0 4 4 2 0 2-2 3 4 3 2 5 8-1 4-2 4-4 2-4 0-6-5-6-2-10 2-2 1-2 0-2-8 2-4 6-3 2-4 6 0zM47 104l3 0 0 2-2 7-2 1-2 0-1-2zM-6 150l16-1 32 2 42-2 22 1 8-1 52 2 22-2 26 1 10-1 8 1 14-1 16 1 34 0 50 1 22-2 0 39-376 0 0-36z"/><path fill="#f46a58" fill-rule="evenodd" d="M-8 -8l376 0 0 40-10-3-2 1 1 2-1 2-1-2 1-2-8-1-10 1-10-4-4 3-8 2-12-2-4 0-2 1 0 4-4 1-10-1-4-5-7 1-1 4-8 1-34-1-16-3-10 2-6-2-4-2-12 0-16 1-6 4-2 0 0-2-2-1-13 1-7 2-6 1-102-1-3 0-1-2-4-1-6 3-12-5-5 1 1 2-2 2-2-4-2 1zM-8 58l6-1 10 0 12 4 1-1 3 0 2 1 8 1-1 4 4 10 7 6 2 0-1 2-5 0-2 2 0 4-3 4 1 1 0 5-2-1-2 0 0 1 0 2 3 4-5 7-4 2-2 7-2 0-1-4-5-8-1-4 1-2 0-8-4-4-1-2 1-10-13 2-1-2-6-4 0-2 4-2-2-4-2-1 0-2 2-1-2-2zM4 73l-2 1 2 2 4-2zM10 74l0-2-2 2zM18 95l-1 1 0 2 3 3 2-2 0-3zM28 88l-2 0 0 2zM38 58l20-2 16 1 6 1 6-1 6 1 4 2 6 6 4 2-1 2 2 6-1 2-8-6-4-7-12 5-4 4 0 2-2-3 1-3-7-3-4-4-6 0-10-4-2 3 0 2 7 4-3 4-4 0-4-1-4-5 0-2-4-4zM353 58l3-1 12 2 0 5-3 0 3 4 0 3-2 1 2 1 0 2-2 1 2 1 0 3-4-1-4 1-2-2-2 2 2 2-7 0-1-2 0-8-2 1-2-3 0-2zM352 69l-1 1 1 1 0-1zM258 68l2-1 1 3-3 0zM-8 83l0-2 3 1zM291 82l7 0 5 6-1 2 2 1 2-3 0 2 4 4 4 0 1 2-1 2-3 0 5 3 2 3 0 3-8 1-5-2-2 2 2 4-3 1-3-1-1-6-2 2 1 4-5 2-1-6-5-4-5-10 5-9zM292 88l-1 4 1 1 2 0 1-3 0-2zM304 93l-1 1 1 1 0-1zM366 82l2-2 0 4zM114 88l2 0-2 2-1 0zM126 110l0-3 6 1-2 2zM135 108l3 1 4-1 6 7 1 5-1 1-3-1 0-4-1-2-8-4zM132 112l3 6-9 0 2-2zM117 116l3-2 3 2-1 2-4 2zM298 118l4-1 4 1-2 4-4 2-3-2-1-2zM-8 153l172-1 16 0 34 0 32 0 78 1 44-1 0 12-2 4-12 1-5 5 0 2-2 4 3 3 2 1-2 2 1 2-16 0-1-4-2 0 3-6 5 1 7-5 0-4-3-1-6 2-6 0-3 3-1 4 3 4 0 6-8 0 3-4-1-2-5-2-7 4 1 4-7 0 0-4 2-4-1-2-4-1-5 5-1 4-2 0-1 2-3 0 0-1 0 1-9 0-1-1-1 1-6 0 0-4 1-1 4-1 4 1 4-2 1-3-1-4 1-2 5-2-2-3-2 0-6 1-4 2-8 0-4-1-2 0-1 1 7 6-2 0-6-1-2-5-8-1-3 1-1 6-3 4 0 2 1 2 4-2 4 2-2 4-3 0-1-4-2 4-4 0-2-3-2 3-1 0-1-2-2 2-4 0 3-2 0-2-1-2 2-2 4 1 4-3 3-6 1-2-2-1-6 3-6-1-6-3-2 1-6-1-4 2 2 4 2 1 6-1 1 6 3 4-1 4-3 0 0-2-2-1-5-1-5-4-4 0-1 4 3 4-4 0 0-2 0 2-4 0 2-4-6-4-2-3-6 2-2-1 0-2-2-3-4 0-6-3-8-1-4 1 6 4 12 1 4 5-2 2-8-2-2 1-1 1 2 6-24 0-1-3-4-1-4 2 1 2-3 0 2-2-4-3-2-4-8 2-2-4-2 0-2 1 1 2 5 4-3 4-3 0 0-4-2-2-2 2 1 4-3 0-2-2-2 2-2-2-1 2-2 0-1-3-2 1 0 2-5 0 1-2 4-2-2-7-6 2-1-1-1-6 2-2-4 0-2 2-3-2-3-1-16 0-2 1 0 2 6 4-10 1-4 1 0-2-2-2 1-4-3-3-2 0-4 3 3 4-3 5-3-1 2-2-1-3-2 0-1 1 1 4-4 6 2 4-3 0 1-4-4-2-1 4 1 0 1 2-3 0 0-2 0 2-7 0-1-3-2 1 0 2-1 0 1-2-10-6-2 0-2 2 1 6-2 0 0-2-1 0-4 2-5 0-3-4-2 1-2 3-2 0 0-5 4 0 1-5 1-2-4 1-2-1 0-7 2-1-2 0zM28 169l-8 1-3 8 1 1 10 2 8-4 4-7-2-1-6 1zM106 168l-5 2 1 3 2 2 4-1 8 7 4-2 4-1-1-2 2-4 0-2-1-1-6 0-10 4zM160 168l-4 0-2 2-2 4 0 2 6-1 6 1 2-2-1-2 1-2zM194 170l2 3 5 3 2-2-1-2-2 0-1-2zM300 169l-5 1 3 4 4-2 0-2zM314 168l-3 2 2 4 4 2 3 4 2-1 1-3-4-4 1-2zM338 181l0 2 2 0 0-2zM4 170l-1 4 3 2 2 0-2-6zM164 179l-7 3 1 2 2-1 4 2 2 0 0-5zM283 172l2 0 0 2-3 0zM367 174l1-1 0 4-1-1zM258 176l4 1 2 2 4 5-1 4-3 0 0-2-2-2-1 2 0 2-4 0-1-4 4-2-4-3 0-2zM81 178l7-1 2 1-1 6 5 0-1 4-8 0 0-2-1-2-2-1-4 1 0-4zM360 182l2 0 1 2-2 4-3 0 0-1-1 1-3 0 0-2zM365 182l3-2 0 5-2-1zM52 188l0-5 1 1zM54 186l8-2 2 1 4-3 2 0 2 2-1 4-2 0-1-2-1 2-3 0 0-2 0 2-9 0zM94 184l2-2 3 6-2 0 0-2zM15 188l1-2 3 2-3 0zM147 188l1-2 1 2zM183 188l1-1 2-1 1 2zM193 188l1-2 2 0 0 2z"/><path fill="#f04a3a" fill-rule="evenodd" d="M-8 -8l376 0 0 28-4 2-10-1-6 2-3 3-3 1-4 0-4-4-4 0-9 3-5 3-6-2-6-5-4-1-1 1 0 2-5 3-6 0-4-3-4 0-2 2-4 0-7 2-2 2-1 2-2 1-14 0-10-3-8 2-14-3-12 2-4-1-3-2 0-2-5-5-4 5-6-1-8 3-8 1-4 1-4-1-16 1-10 2-6-1-12 2-22-2-8 2-10-1-6 1-6-2-22 1-6-1-4 0-2-2-8-2-6 5-8-3-1-1 3-4-8-3-8 2 0-2 2-1-2-1zM365 28l3-1 0 3-1 0zM-8 154l8 1 8-2 22 1 12 1 12-1 12 0 12 1 5-1 11 0 10 1 4-1 12 1 6-1 24 1 30-1 12 1 6-1 16 1 8-1 40 1 36-1 10 1 12-1 6 1 6-1 14 1 8-1 14 0 0 8-8-2-12 1-4-2-4-1-4 2-16 1-4 1-6-3-8 0-4 1-6-1-4 1-12 1-12-3-4 1-4-1-6 3-6 0-4-2-6 0-18 3-2 0-4-4-3 0-4 2-1 2-2 1-6-3-2-2-2 0-4 1-6 0-4 3-2-2-10 2-10-1-4-3-16 3-10-2-4 1-2 0-6 0-6-2-2 0-4 3-4 1-12-1-4-2-4 3-4-2-4 1-6-1-6 0-6 1-2 0-4-4-3 1-1 2-4 2-6-2-6 1-6-1-10 1-10-2-6 2z"/><path fill="#ec2a28" fill-rule="evenodd" d="M-8 -8l6 1 0-1 126 0 2 1 0-1 242 0 0 21-6 2-8-2-4 2-6 1-4-2 0 4-2 1-12 3-10 4-4 0-3-2-2-4-7-5-8 0-4-1-2 0-2 2 2 2 4 1 4 3 0 2-6 1-4-4-2 0-6 1-4-3-2 1 1 4-1 1-20 2-5-1-3-3-2 0-3 1-1 2-6 1-10-2-10 2-4-2-4 1-5-4 1-2 4-2 12 0 2 1 2 2 4 0 8-1 4-2 1-2-3-2-12-1-6 2-14 0-12-1-8 2-6 0-4 1-6-2-12 0-3 1 3 2 8 1 2 2 16 0 4 1-4 3-16 2-8 0-4-2-4 1-10 0-4 1-16-2-6 2-10 0-6-2-8 2-8 0-4-2-6 3-8-2-10 2-6-2 0-4 4 2 4-2 14-1 2-3 0-3-6 1-6 3-8-4-6 0-6-3-6 3-4 0-3 1-1 2 6 0 2 3 4 1-2 1-4 2-6-1-8 2 2-4 4-4-2-2-18-2-8 1zM74 16l2 2 1-2-1-1zM130 16l2 2 5 0 0-2-1-1zM256 14l-2 2 2 2 2-2zM339 24l3 0 1 0-1 1z"/><path fill="#cd2030" fill-rule="evenodd" d="M-1 -8l4 0 0 2-3 0zM5 -8l2 0-1 6-2 3-2-1 1-2 2-2zM42 -7l0-1 3 0-1 2zM55 -8l1 0 3 0-3 2zM72 -8l3 0 0 2-1 0zM90 -7l0-1 2 0 0 1zM97 -8l1 0 1 0-1 2zM101 -8l1 0 4 0-2 4zM130 -8l2 0 1 0-1 1zM145 -8l1 0 2 0-2 1zM167 -8l2 0-1 2zM171 -8l2 0-1 2zM196 -6l0-2 8 0-2 4zM207 -8l1 0 1 0-1 2zM225 -8l1 0 3 0-3 2zM238 -7l0-1 2 0 0 1zM256 -6l-2-2 3 0zM263 -8l1 0 2 0-2 2zM285 -8l1 0 1 0-1 2zM301 -2l4-6 4 0 0 2-3 6-2 2-2 0-1-2zM325 -8l1 0 3 0-3 1zM340 -6l0-2 2 0zM361 -8l1 0 3 0-1 1-2 1zM105 -2l1-1 2-1 2 2-2 2zM191 -2l2 0 0 2-2 0zM239 -2l3 1 2 1-4 1-3-1zM366 -2l2-1 0 2zM288 0l2-1 3 1-1 2zM366 4l2-1 0 2zM89 16l3-1 4 1 2 2-2 1-4 0-4-1zM310 17l20-2 5 1 0 2-3 1-16 1-7-2z"/><use href="#cst" fill="none" stroke="#000" stroke-width="2.1" stroke-linejoin="round"/></svg><rect x="385.90" y="117.90" width="153.00" height="76.50" fill="none" stroke="#000" stroke-width="1.05"/><path d="M385.90 117.90v-3.0M385.90 194.40v3.0M390.15 117.90v-1.6M390.15 194.40v1.6M394.40 117.90v-1.6M394.40 194.40v1.6M398.65 117.90v-1.6M398.65 194.40v1.6M402.90 117.90v-1.6M402.90 194.40v1.6M407.15 117.90v-1.6M407.15 194.40v1.6M411.40 117.90v-3.0M411.40 194.40v3.0M415.65 117.90v-1.6M415.65 194.40v1.6M419.90 117.90v-1.6M419.90 194.40v1.6M424.15 117.90v-1.6M424.15 194.40v1.6M428.40 117.90v-1.6M428.40 194.40v1.6M432.65 117.90v-1.6M432.65 194.40v1.6M436.90 117.90v-3.0M436.90 194.40v3.0M441.15 117.90v-1.6M441.15 194.40v1.6M445.40 117.90v-1.6M445.40 194.40v1.6M449.65 117.90v-1.6M449.65 194.40v1.6M453.90 117.90v-1.6M453.90 194.40v1.6M458.15 117.90v-1.6M458.15 194.40v1.6M462.40 117.90v-3.0M462.40 194.40v3.0M466.65 117.90v-1.6M466.65 194.40v1.6M470.90 117.90v-1.6M470.90 194.40v1.6M475.15 117.90v-1.6M475.15 194.40v1.6M479.40 117.90v-1.6M479.40 194.40v1.6M483.65 117.90v-1.6M483.65 194.40v1.6M487.90 117.90v-3.0M487.90 194.40v3.0M492.15 117.90v-1.6M492.15 194.40v1.6M496.40 117.90v-1.6M496.40 194.40v1.6M500.65 117.90v-1.6M500.65 194.40v1.6M504.90 117.90v-1.6M504.90 194.40v1.6M509.15 117.90v-1.6M509.15 194.40v1.6M513.40 117.90v-3.0M513.40 194.40v3.0M517.65 117.90v-1.6M517.65 194.40v1.6M521.90 117.90v-1.6M521.90 194.40v1.6M526.15 117.90v-1.6M526.15 194.40v1.6M530.40 117.90v-1.6M530.40 194.40v1.6M534.65 117.90v-1.6M534.65 194.40v1.6M538.90 117.90v-3.0M538.90 194.40v3.0M385.90 194.40h-3.0M538.90 194.40h3.0M385.90 190.15h-1.6M538.90 190.15h1.6M385.90 185.90h-1.6M538.90 185.90h1.6M385.90 181.65h-3.0M538.90 181.65h3.0M385.90 177.40h-1.6M538.90 177.40h1.6M385.90 173.15h-1.6M538.90 173.15h1.6M385.90 168.90h-3.0M538.90 168.90h3.0M385.90 164.65h-1.6M538.90 164.65h1.6M385.90 160.40h-1.6M538.90 160.40h1.6M385.90 156.15h-3.0M538.90 156.15h3.0M385.90 151.90h-1.6M538.90 151.90h1.6M385.90 147.65h-1.6M538.90 147.65h1.6M385.90 143.40h-3.0M538.90 143.40h3.0M385.90 139.15h-1.6M538.90 139.15h1.6M385.90 134.90h-1.6M538.90 134.90h1.6M385.90 130.65h-3.0M538.90 130.65h3.0M385.90 126.40h-1.6M538.90 126.40h1.6M385.90 122.15h-1.6M538.90 122.15h1.6M385.90 117.90h-3.0M538.90 117.90h3.0" stroke="#000" stroke-width="0.85" fill="none"/><g font-size="5.2" fill="#000" stroke="#000" stroke-width="0.22"><text x="379.70" y="132.55" text-anchor="end">60N</text><text x="379.70" y="145.30" text-anchor="end">30N</text><text x="379.70" y="158.05" text-anchor="end">0</text><text x="379.70" y="170.80" text-anchor="end">30S</text><text x="379.70" y="183.55" text-anchor="end">60S</text><text x="385.90" y="204.80" text-anchor="middle">0</text><text x="411.40" y="204.80" text-anchor="middle">60E</text><text x="436.90" y="204.80" text-anchor="middle">120E</text><text x="462.40" y="204.80" text-anchor="middle">180</text><text x="487.90" y="204.80" text-anchor="middle">120W</text><text x="513.40" y="204.80" text-anchor="middle">60W</text><text x="538.90" y="204.80" text-anchor="middle">0</text></g><text x="384.90" y="110.60" font-size="6.2" fill="#000" stroke="#000" stroke-width="0.25">(f) surface</text><text transform="translate(7.3 157.10) rotate(-90)" text-anchor="middle" font-size="8.0" fill="#000" stroke="#000" stroke-width="0.25">Signal</text><rect x="553.50" y="116.60" width="6.80" height="9.75" fill="#cd2030"/><rect x="553.50" y="126.30" width="6.80" height="9.75" fill="#ec2a28"/><rect x="553.50" y="136.00" width="6.80" height="9.75" fill="#f04a3a"/><rect x="553.50" y="145.70" width="6.80" height="9.75" fill="#f46a58"/><rect x="553.50" y="155.40" width="6.80" height="9.75" fill="#f77a5c"/><rect x="553.50" y="165.10" width="6.80" height="9.75" fill="#f99a7c"/><rect x="553.50" y="174.80" width="6.80" height="9.75" fill="#fbb898"/><rect x="553.50" y="184.50" width="6.80" height="9.75" fill="#fde0c8"/><rect x="553.50" y="194.20" width="6.80" height="9.75" fill="#d8e8f5"/><path d="M553.50 126.30h6.80M553.50 136.00h6.80M553.50 145.70h6.80M553.50 155.40h6.80M553.50 165.10h6.80M553.50 174.80h6.80M553.50 184.50h6.80M553.50 194.20h6.80" stroke="#222" stroke-width="0.7"/><rect x="553.50" y="116.60" width="6.80" height="87.30" fill="none" stroke="#555" stroke-width="0.9"/><g font-size="5.4" fill="#000" stroke="#000" stroke-width="0.22" text-anchor="middle"><text x="567.2" y="128.85">0.6</text><text x="567.2" y="138.55">0.4</text><text x="567.2" y="148.25">0.35</text><text x="567.2" y="157.95">0.3</text><text x="567.2" y="167.65">0.25</text><text x="567.2" y="177.35">0.2</text><text x="567.2" y="187.05">0.1</text><text x="567.2" y="196.75">0</text></g><svg x="36.40" y="220.40" width="153.00" height="76.50" viewBox="0 0 360 180" preserveAspectRatio="none"><rect x="-10" y="-10" width="380" height="200" fill="#fff5f0"/><path fill="#fdd8c0" fill-rule="evenodd" d="M-8 -8l376 0 0 196-376 0z"/><path fill="#fbb898" fill-rule="evenodd" d="M-8 -8l376 0 0 196-376 0zM48 74l-4 2 4 2 10 1 16 0 3-1 2-2-5-2-8-1zM116 84l-10 2-8 4 8 4 8 2 26 2 26-2 8-2 7-4-10-4-17-3-20 0z"/><path fill="#f89878" fill-rule="evenodd" d="M-8 -8l376 0 0 75-92 1-68 3-138-5-78 1zM211 102l17-2 20 1 16 1 23 6 13 2 26 1 42-1 0 78-376 0 0-77 76 0 56 3 54-5z"/><path fill="#f67c62" fill-rule="evenodd" d="M-8 -8l376 0 0 65-82 0-60 7-30 0-20-1-20-3-8-3-4-5-4-2-12-1-14 1-14 4-12 2-96 1zM209 110l25-3 14 0 13 3 17 6 14 2 76 0 0 70-376 0 0-70 120 3 48-1 30-3 5-1z"/><path fill="#f56a55" fill-rule="evenodd" d="M-8 -8l376 0 0 53-70 0-26 1-16 2-28 8-22 2-12 0-13-2-6-2-16-8-21-3-20 0-46 2-80 0zM-8 188l0-63 152 0 90-1 134 1 0 63z"/><path fill="#f2503c" fill-rule="evenodd" d="M-8 -8l376 0 0 41-98 0-64 2-70-2-144 0zM-8 188l0-51 376 0 0 51z"/><path fill="#f0302c" fill-rule="evenodd" d="M-8 -8l376 0 0 22-376 0z"/><use href="#cst" fill="none" stroke="#000" stroke-width="2.1" stroke-linejoin="round"/></svg><rect x="36.40" y="220.40" width="153.00" height="76.50" fill="none" stroke="#000" stroke-width="1.05"/><path d="M36.40 220.40v-3.0M36.40 296.90v3.0M40.65 220.40v-1.6M40.65 296.90v1.6M44.90 220.40v-1.6M44.90 296.90v1.6M49.15 220.40v-1.6M49.15 296.90v1.6M53.40 220.40v-1.6M53.40 296.90v1.6M57.65 220.40v-1.6M57.65 296.90v1.6M61.90 220.40v-3.0M61.90 296.90v3.0M66.15 220.40v-1.6M66.15 296.90v1.6M70.40 220.40v-1.6M70.40 296.90v1.6M74.65 220.40v-1.6M74.65 296.90v1.6M78.90 220.40v-1.6M78.90 296.90v1.6M83.15 220.40v-1.6M83.15 296.90v1.6M87.40 220.40v-3.0M87.40 296.90v3.0M91.65 220.40v-1.6M91.65 296.90v1.6M95.90 220.40v-1.6M95.90 296.90v1.6M100.15 220.40v-1.6M100.15 296.90v1.6M104.40 220.40v-1.6M104.40 296.90v1.6M108.65 220.40v-1.6M108.65 296.90v1.6M112.90 220.40v-3.0M112.90 296.90v3.0M117.15 220.40v-1.6M117.15 296.90v1.6M121.40 220.40v-1.6M121.40 296.90v1.6M125.65 220.40v-1.6M125.65 296.90v1.6M129.90 220.40v-1.6M129.90 296.90v1.6M134.15 220.40v-1.6M134.15 296.90v1.6M138.40 220.40v-3.0M138.40 296.90v3.0M142.65 220.40v-1.6M142.65 296.90v1.6M146.90 220.40v-1.6M146.90 296.90v1.6M151.15 220.40v-1.6M151.15 296.90v1.6M155.40 220.40v-1.6M155.40 296.90v1.6M159.65 220.40v-1.6M159.65 296.90v1.6M163.90 220.40v-3.0M163.90 296.90v3.0M168.15 220.40v-1.6M168.15 296.90v1.6M172.40 220.40v-1.6M172.40 296.90v1.6M176.65 220.40v-1.6M176.65 296.90v1.6M180.90 220.40v-1.6M180.90 296.90v1.6M185.15 220.40v-1.6M185.15 296.90v1.6M189.40 220.40v-3.0M189.40 296.90v3.0M36.40 296.90h-3.0M189.40 296.90h3.0M36.40 292.65h-1.6M189.40 292.65h1.6M36.40 288.40h-1.6M189.40 288.40h1.6M36.40 284.15h-3.0M189.40 284.15h3.0M36.40 279.90h-1.6M189.40 279.90h1.6M36.40 275.65h-1.6M189.40 275.65h1.6M36.40 271.40h-3.0M189.40 271.40h3.0M36.40 267.15h-1.6M189.40 267.15h1.6M36.40 262.90h-1.6M189.40 262.90h1.6M36.40 258.65h-3.0M189.40 258.65h3.0M36.40 254.40h-1.6M189.40 254.40h1.6M36.40 250.15h-1.6M189.40 250.15h1.6M36.40 245.90h-3.0M189.40 245.90h3.0M36.40 241.65h-1.6M189.40 241.65h1.6M36.40 237.40h-1.6M189.40 237.40h1.6M36.40 233.15h-3.0M189.40 233.15h3.0M36.40 228.90h-1.6M189.40 228.90h1.6M36.40 224.65h-1.6M189.40 224.65h1.6M36.40 220.40h-3.0M189.40 220.40h3.0" stroke="#000" stroke-width="0.85" fill="none"/><g font-size="5.2" fill="#000" stroke="#000" stroke-width="0.22"><text x="30.20" y="235.05" text-anchor="end">60N</text><text x="30.20" y="247.80" text-anchor="end">30N</text><text x="30.20" y="260.55" text-anchor="end">0</text><text x="30.20" y="273.30" text-anchor="end">30S</text><text x="30.20" y="286.05" text-anchor="end">60S</text><text x="36.40" y="307.30" text-anchor="middle">0</text><text x="61.90" y="307.30" text-anchor="middle">60E</text><text x="87.40" y="307.30" text-anchor="middle">120E</text><text x="112.90" y="307.30" text-anchor="middle">180</text><text x="138.40" y="307.30" text-anchor="middle">120W</text><text x="163.90" y="307.30" text-anchor="middle">60W</text><text x="189.40" y="307.30" text-anchor="middle">0</text></g><text x="34.10" y="213.30" font-size="6.2" fill="#000" stroke="#000" stroke-width="0.25">(g) 200hPa</text><svg x="210.40" y="220.40" width="153.00" height="76.50" viewBox="0 0 360 180" preserveAspectRatio="none"><rect x="-10" y="-10" width="380" height="200" fill="#fff5f0"/><path fill="#fdd8c0" fill-rule="evenodd" d="M-8 -8l376 0 0 196-376 0zM116 88l4 1 3-1-3 0z"/><path fill="#fbb898" fill-rule="evenodd" d="M-8 -8l376 0 0 78-62 0-28 1-13 3-3 6 16 6 48 11 16 2 26 1 0 88-376 0 0-88 114 3 56-1 38-3 13-5 2-2 0-2-13-6-1-2 3-2-6-6-6-2-8-1-44-1-148 0z"/><path fill="#f89878" fill-rule="evenodd" d="M-8 -8l376 0 0 68-376 0zM257 98l11-1 4 1 3 2-3 2-10 1-6-2-1-1zM-8 118l376 0 0 70-376 0z"/><path fill="#f67c62" fill-rule="evenodd" d="M-8 -8l376 0 0 56-64 2-56 4-32 1-34-1-72-6-118 0zM244 128l16 0 15 2-5 2-20 2-20-2-5-2zM230 148l36 0 60 5 42 1 0 8-46 0-72 2-84-2-174 0 0-8 172 0z"/><path fill="#f56a55" fill-rule="evenodd" d="M124 20l28-1 28 1 16 3 5 3 1 2-2 2-16 3-30 1-36-2-15-2-4-2 0-2 5-3zM266 20l16 0 24 4 26 1 10 2 8 3-3 4-7 3-10 2-12 1-14-2-18-4-32-2-11-2-1-2 0-2 6-3zM195 38l21-1 22 1 12 3 3 1 2 2-2 2-9 3-28 2-19-1-11-1-9-3-2-2 2-2 5-2z"/><use href="#cst" fill="none" stroke="#000" stroke-width="2.1" stroke-linejoin="round"/></svg><rect x="210.40" y="220.40" width="153.00" height="76.50" fill="none" stroke="#000" stroke-width="1.05"/><path d="M210.40 220.40v-3.0M210.40 296.90v3.0M214.65 220.40v-1.6M214.65 296.90v1.6M218.90 220.40v-1.6M218.90 296.90v1.6M223.15 220.40v-1.6M223.15 296.90v1.6M227.40 220.40v-1.6M227.40 296.90v1.6M231.65 220.40v-1.6M231.65 296.90v1.6M235.90 220.40v-3.0M235.90 296.90v3.0M240.15 220.40v-1.6M240.15 296.90v1.6M244.40 220.40v-1.6M244.40 296.90v1.6M248.65 220.40v-1.6M248.65 296.90v1.6M252.90 220.40v-1.6M252.90 296.90v1.6M257.15 220.40v-1.6M257.15 296.90v1.6M261.40 220.40v-3.0M261.40 296.90v3.0M265.65 220.40v-1.6M265.65 296.90v1.6M269.90 220.40v-1.6M269.90 296.90v1.6M274.15 220.40v-1.6M274.15 296.90v1.6M278.40 220.40v-1.6M278.40 296.90v1.6M282.65 220.40v-1.6M282.65 296.90v1.6M286.90 220.40v-3.0M286.90 296.90v3.0M291.15 220.40v-1.6M291.15 296.90v1.6M295.40 220.40v-1.6M295.40 296.90v1.6M299.65 220.40v-1.6M299.65 296.90v1.6M303.90 220.40v-1.6M303.90 296.90v1.6M308.15 220.40v-1.6M308.15 296.90v1.6M312.40 220.40v-3.0M312.40 296.90v3.0M316.65 220.40v-1.6M316.65 296.90v1.6M320.90 220.40v-1.6M320.90 296.90v1.6M325.15 220.40v-1.6M325.15 296.90v1.6M329.40 220.40v-1.6M329.40 296.90v1.6M333.65 220.40v-1.6M333.65 296.90v1.6M337.90 220.40v-3.0M337.90 296.90v3.0M342.15 220.40v-1.6M342.15 296.90v1.6M346.40 220.40v-1.6M346.40 296.90v1.6M350.65 220.40v-1.6M350.65 296.90v1.6M354.90 220.40v-1.6M354.90 296.90v1.6M359.15 220.40v-1.6M359.15 296.90v1.6M363.40 220.40v-3.0M363.40 296.90v3.0M210.40 296.90h-3.0M363.40 296.90h3.0M210.40 292.65h-1.6M363.40 292.65h1.6M210.40 288.40h-1.6M363.40 288.40h1.6M210.40 284.15h-3.0M363.40 284.15h3.0M210.40 279.90h-1.6M363.40 279.90h1.6M210.40 275.65h-1.6M363.40 275.65h1.6M210.40 271.40h-3.0M363.40 271.40h3.0M210.40 267.15h-1.6M363.40 267.15h1.6M210.40 262.90h-1.6M363.40 262.90h1.6M210.40 258.65h-3.0M363.40 258.65h3.0M210.40 254.40h-1.6M363.40 254.40h1.6M210.40 250.15h-1.6M363.40 250.15h1.6M210.40 245.90h-3.0M363.40 245.90h3.0M210.40 241.65h-1.6M363.40 241.65h1.6M210.40 237.40h-1.6M363.40 237.40h1.6M210.40 233.15h-3.0M363.40 233.15h3.0M210.40 228.90h-1.6M363.40 228.90h1.6M210.40 224.65h-1.6M363.40 224.65h1.6M210.40 220.40h-3.0M363.40 220.40h3.0" stroke="#000" stroke-width="0.85" fill="none"/><g font-size="5.2" fill="#000" stroke="#000" stroke-width="0.22"><text x="204.20" y="235.05" text-anchor="end">60N</text><text x="204.20" y="247.80" text-anchor="end">30N</text><text x="204.20" y="260.55" text-anchor="end">0</text><text x="204.20" y="273.30" text-anchor="end">30S</text><text x="204.20" y="286.05" text-anchor="end">60S</text><text x="210.40" y="307.30" text-anchor="middle">0</text><text x="235.90" y="307.30" text-anchor="middle">60E</text><text x="261.40" y="307.30" text-anchor="middle">120E</text><text x="286.90" y="307.30" text-anchor="middle">180</text><text x="312.40" y="307.30" text-anchor="middle">120W</text><text x="337.90" y="307.30" text-anchor="middle">60W</text><text x="363.40" y="307.30" text-anchor="middle">0</text></g><text x="210.40" y="213.30" font-size="6.2" fill="#000" stroke="#000" stroke-width="0.25">(h) 500hPa</text><svg x="385.30" y="220.40" width="153.00" height="76.50" viewBox="0 0 360 180" preserveAspectRatio="none"><rect x="-10" y="-10" width="380" height="200" fill="#fff5f0"/><path fill="#fdd8c0" fill-rule="evenodd" d="M-8 -8l376 0 0 196-376 0 0-99 2-1-2-3zM148 86l-6 2-4-1-2 0-2 1 0 2 4 3 2 1 2-1 4 2 4-3 4 2 4 1 6-2 4 0 3-3-5-3-8-2z"/><path fill="#fbb898" fill-rule="evenodd" d="M-8 -8l376 0 0 75-2 1 0 1-4 1-2 5-3-1-1-4-4-2-8 4-10-3-12 3-6-3-2 2-2 1-8-3-6 0-8 3-10-1-2 1-6 1-2-1-2-3-2-1-4 4-12-3-10 2-3-1-3 1-6-2-4 1-8-1-6 1-6 5-2-1-1-4-3-1-6 1-12-1-4 2-6-1-6 4-4 0-1-4-3-1-8 0-8 3-2-2-2 0-2 1-4 0-3 3-3 0-1-4-5-2-10 2-2 1-8-2-8 0-8 2-3-1-7 4-4-2-4 1-1-1 0-2-1-1-3 1 0 2-1 1-4-1-2-2-14 0-6-2-4 1-8 4-6-2-12 1-4-2-4-1-2-1zM366 70l2 0 0 4-3-2zM280 82l6-5 12 1 6 5 4 1 4 5 12 5 2 2-2 9 2 3 8 5 4 0 4-2 4 2 4-4 6 3 4-1 4 2 0-1 4-1 0 77-376 0 0-75 6-1 4-3 2 2 4 0 2-2 0-3 2-2 6-1 18 0 6 3 4-2 4 0 7 4 3 3 2 1 6-1 6 3 6-3 4 1 2-1 3-5 3-1 4 4 6 1 2-1 8 0 6-2 6-4 4-1 4-3 2 1 4 4 4-4 8 8 4 1 6-1 2 1 2 4 2 1 2 0 10-5 4 1 6-1 8 1 4-2 2 2 2-1 2-3 4 4 10-1 4-2 3 1 3 4 5 0 0-4 1-2 12 4 6-1 8 3 2 0 2-4 2-1 6 1 4 0 4 2 1-2-3-8-3-2-21 2-6-1-28 1-20-3-16 0-4-1-1-2 9-6 12-2 10 0 26-1 6 0 8-1 26 3 2-1zM-8 111l0-3 3 2-1 1z"/><path fill="#f89878" fill-rule="evenodd" d="M-8 -8l376 0 0 74-22 0-2-2 2-4-4-2-12 2-8-1-6 2-18-2-6 2-10-1-4 4-4-2-8 1-4 3-2 0-12-1-6-4-6-1-14 0-10-2-8 2-4-2-8 4-4-1-2-2-8 1-8-1-20 0-4-1-10 3-6-2-6 2-6 5-6 0-54 0-4-2-6 2-56 0zM283 82l5-3 10 1 6 5 4 1 2 4 10 4 4 2-3 12-2 4-1 1-4 2-2 5-10 10-4 1 0 5 6 0 8-3 20 3 6-2 4 3 6-2 4 2 14-2 2 1 0 52-376 0 0-52 2-2 2 0 10 2 6-2 6 0 6 2 8-1 6 1 4-2 4 0 12 3 6 0 4-3 4 1 22 0 6-1 8 2 8-2 20 2 7-2 0-4-13-7-4 2-10 2-2-3-1-8 3-6 5-2 3-3 5-1 3-3 2 0 4 5 2 0 2-4 4 6 4 2 4 6 1 6-6 8 2 2-1 3 16 0 6-1 8 3 10-2 12 0 4-1 6 1 12 0 8 1 2-1 14 0 6-1 8 0 2-1 4 2 10-1 6-2 2-2 2-8 1-12-1-2-3-2-4-8-3-2-2-1-20 2-32 0-18-1-9-2-2-2 11-3 16-2 30 0 24 2 7-3zM13 106l17-1 8 1-2 4-1 4-4 8-1 1-8 3-2 0-2-2-2-4-3-10zM46 106l2 0 1 6-3 3-2 0-1-3z"/><path fill="#f67c62" fill-rule="evenodd" d="M-8 -8l376 0 0 73-20-1 4-10-2-2-2-4-2-1-6 1-4-1-4 1-6-2-10 1-4-1-16 3-4 0-5 3-3 4-4 2-2 4-6-2-8 2-2 2-2 1-8-1-6-2-18-16-4 3-6-2-10 2-6-2-8 0-2 2-20-3-4 2-4-1-14 0-7 3-1 4-6 3-4 0-1-1 0-2-1 0-2 1-4-2-2 1-1 8-5 2-56 1-8-2-6 2-6 0-4-1-4 1-40 0 0-8 1-3-1 0zM14 54l-1 2 5 2 4-1 10 1 2-2-2-2-8-2-2 2-4-2-2 2zM138 47l-6 4-1 1 1 2 4-2 3-4zM286 82l10 0 10 5 4 5 4 2 2 4 3 4 1 4-2 5-6 3-2 5-8 9-6 2-3 10 3 1 72 0 0 47-376 0 0-47 290 0 2-1 1-6 2-2 2-8 1-16-4-4 2-4-4-1-4-3-2-4 1-2 6-4zM308 98l-4 2 0 1 2 1 4-2 0-2zM216 90l36-1 19 3-5 2-8 1-20 1-16-1-16-3zM131 104l1-2 2 1 4 4 2 0 2-2 4 4 2 1 5 8 0 4-3 5-4 2-4 0-6-5-6-3-12 4-3-1-1-8 2-4 6-3 2-3zM28 108l5 0 0 4-2 6-3 4-6 2-4-6 0-6zM146 133l0-2 2 1z"/><path fill="#f56a55" fill-rule="evenodd" d="M-8 -8l376 0 0 55-4 1-5 4 3 1 6 0 0 11-6-1-8 0-3-1 1-3 2-3 5-2-7-2-1-2 1-3 5-1 0-2-2-2 0-2-5 0-4-3-10 0-8 2-8-2-6 1-8-2-1 2 2 4-1 1-4 0-2-3-3 0 0 4-1 2-4 0-6 4-2 4-4 3-2 2-6-1-8 2-4 3-8-1-6-3-11-9 0-6-1-2-8-4-8-1-8 1-8-1-16 2-16-3-12 4-6-2-6 0-2 2 1 6-1 1-2 0-2-3-2 0-6 4-4 5-8-3 0 10-2 2-6 1-52 0-10-3-10 3-4-1-12 1-22-1-10 2 0-6 7-4-1-1-6 0 0-6 5-1 0-2-3-2 1-2-3 0zM4 48l-5 4 1 1 10 1 2 3 4 3 4 0 4-1 2 1 8 0 2-2-1-4-1-1-6-1-2-2-2 0-2 1-3-1-1-2-2 4-1 0-1-2-4-2zM32 45l-2 1 0 2 4 1 5-1-1-2-2-1zM50 45l-1 1 0 6 3 1 1-3zM281 90l3-1 8 1 3 2-2 2-3 1-8 0-2-1-1-2zM220 92l2 0 3 0-3 0zM229 92l9-2 20 2-20 2zM126 107l6-2 2 1 4 3 2 0 2-2 6 5 4 6 0 2-3 6-5 2-12-8-4 0-10 4-2-1-1-7 1-2zM296 120l4-3 3 1 2 2-5 6-8 0 0-7zM286 136l4-5 2 1 0 2-2 6-2 1-2-1zM-8 180l0-37 32 1 52-1 130 0 10-1 16 2 54-1 82 0 0 24-1 1 1 1-1 3 1 1 0 15-5 0-1-1-1 1-20 0-1-1-4-1-1 2-4 0-1-2-6 0-1 2-13 0-4-2-2 0-1 2-14 0-1-1-1 1-6 0-1-1-3 1-1-2-1 2-2 0-1-2-1 2-3 0-2-2-3 2-2 0-1-1-6 0-2-1-1 2-20 0-1-3-1 3-5 0-2-2-1 2-5 0-2-4-1 4-14 0-1-1-1 1-13 0 0-1-2 1-6 0-2-2-1 2-9 0 0-1-3 1-1-2-1 2-37 0 0-1 0 1-11 0-1-2-1 2-12 0-1-2-1 2-4 0-1-2-4 0-1 2-10 0-1-2-2 0-1 2-4 0-1-2-3 2-17 0 0-1-4-1-1 2-14 0-1-2-2 2-7 0-1-2-2 2-16 0 0-1-1 1-5 0 0-8 1 0zM-2 179l-3 1 1 3 3-1zM48 179l-1 1 2 2 3 0 0-2zM146 175l-1 3 1 2 3-4-1-1zM228 175l-8 1-1 2 1 1 6 1 3-2z"/><path fill="#f2503c" fill-rule="evenodd" d="M-8 -8l376 0 0 41-2 0-5-1-1 2 0 4-2 1-8-1 1-4-1-2-14-1-12 2-4-2-4 2-14-1-2 0 3 4-1 3-8 1 1 4-9 4-3 2-1 2-4 3-4-2-12-1-6 1-4-1-8 2-6-4-2-2 1-4-4-4-7-5-12-3-8 2-18-2-6 1-6-2-8 1-10 6-3-2-1-3-10 0-2 1 1 4-2 2-11 7-2 3-2 1-6-3-3 2-1 3-2-1-10 1-5-1-5 2-8 0-4 2-6-2-6 2-7-2-3-2-4-1-2-3-1-4-3-1-3 3 0 4-1 4-4 1-6-3 4-2 1-2-5-5-4 0-2 1-2 4-4 0-2 1-4-3-4-1-2 1-8 0-6 4-6 2 0-4 6 0 2-2-2-4 9-6 0-2-5-2-2 3 0 3-8 1 0-5 1 0-1-3zM60 44l-1 2 1 2 1-2zM278 32l-2 2 4 3 0-4zM278 45l-2 1 0 2 2 2 2-2 0-2zM359 42l7-5 2 0 0 10-4-1-8 5-3-1 1-2 4 0 2-2zM365 56l1 0 2-2 0 3zM-8 62l0-3 2 1zM118 118l2-1 1 3-3 1zM-8 159l0-15 4 1 64 0 8 1 8-1 70 1 24-1 34 1 14-1 16 1 24-1 30 1 32-1 22 1 6-1 20 0 0 12-8 3-24-2-14 2-4-2-10 1-4-1-24 0-6 2-6-2-4 0-32 0-4 2-2-2-8 0-10 4-2 0-4-4-2 0-22 0-4 1-4-1-18 1-10-2-48 1-16 1-8-1-6 1-8-1-8 1-12-1-8 0-4 2-4-1-4 1-12-2-9 0z"/><path fill="#f0302c" fill-rule="evenodd" d="M-8 -8l376 0 0 33-2 1-2-3-6-1-10 2-1 2-3 2-6 0-4-3-6 0-4-2-2 1-2 4-4 3-10-5-6-2-6 4-1 2 3 1 5 5-7 2-6 5-6-2-1-1 2-6-1-9-6 3-4-1-5 3 1 2 4 1 4 4 3 3-1 1-6-2-4 4-6 1-8-4-16 1-12-8-10-3-8 1-2 2-8-2-3-1-1-2 2-4-6 0-6 1-2-1-1 2-7 3-8 1-8 6 0-5-16 1-4 2 2 2 1 2-7 4-16-2-6 2-4-2-8 0-6 1-4 0-4 1-10-3-12 5-4-3-2-1-8 0-8 2-2-1-10 0-4-1-2 2-4 1-13-3 3-6-1-2-5-2 0-2 2-4-6-2-8 1zM20 29l-5 5 1 1 4 0 5-3 0-2zM364 28l2-2 2 1 0 4-3-1zM-4 32l2 1 0 2-2 0zM355 32l1-1 2 4-2 0zM367 38l1-1 0 6-2-1zM-8 150l8-1 6 1 10-1 28 0 12-1 12 2 8-2 68 1 26-1 32 2 16-1 16 0 48-1 8 2 12-2 14 1 4-1 10 2 20-2 6 1 6-1 6 1 0 6-160 0-8-1-24 1-26 0-6-1-152 1z"/><path fill="#e52226" fill-rule="evenodd" d="M-8 -8l2 1 1-1 8 0 1 1 1-1 58 0 1 1 1-1 5 1 0-1 35 0 1 1 1-1 12 0 1 1 1-1 6 0 1 1 1-1 51 0 2 1 1-1 33 0 0 1 1-1 6 0 1 1 1-1 99 0 0 1 1-1 43 0 0 24-2-3-2 0-8-1-4 2-10 0-4 1-10-2-14 3-10-3-8 3-4-2-10 1-4-1-12 0-6-2-6 3-2-1-2-2-6 2-16 0-4 2-4-2-4 0-6-3-6 2-10 0-12 4-4-1-4-3-10 1-8 0-10 3-12-5-4 2-6 0-6 1-24-2-6 2-6-2-4 2-4-1-4-1-6 1-20-3-6 3-12-1-12 3-8-3-10-1-4 1zM6 28l8-3 6 1-2 1-2 4-2 2-7-3zM23 26l13-1 60-1 64 0 17 2-3 2-8 1-4 2-4-2-6 1-10 0-4 2-4 3-2 1-6-2-26 0-6 2-10-3-10 1-6 1-14-1-18 2-6-2-1-2 0-2-6-2zM197 28l5-3 18 0 46 0 4 1-5 4 1 4-26 0-6 2-8-4-10-3-8 0-4 2-6-1zM288 26l2-1 4 1-4 1zM310 26l6-1 3 1-1 2-2 1-4-1zM366 28l2-1 0 3-1 0zM284 33l0-4 4 0 7 5-9 1z"/><path fill="#c8202e" fill-rule="evenodd" d="M9 -8l1 0 1 0-1 2zM209 -8l1 0 4 0-4 1zM35 28l3-1 5 1-5 2zM46 28l4 0 4 0-4 1zM86 28l4-1 6 0 7 1-11 1zM109 28l3-1 8 1-8 0zM151 28l3-1 0 1zM256 28l4-1 4 1-4 1z"/><use href="#cst" fill="none" stroke="#000" stroke-width="2.1" stroke-linejoin="round"/></svg><rect x="385.30" y="220.40" width="153.00" height="76.50" fill="none" stroke="#000" stroke-width="1.05"/><path d="M385.30 220.40v-3.0M385.30 296.90v3.0M389.55 220.40v-1.6M389.55 296.90v1.6M393.80 220.40v-1.6M393.80 296.90v1.6M398.05 220.40v-1.6M398.05 296.90v1.6M402.30 220.40v-1.6M402.30 296.90v1.6M406.55 220.40v-1.6M406.55 296.90v1.6M410.80 220.40v-3.0M410.80 296.90v3.0M415.05 220.40v-1.6M415.05 296.90v1.6M419.30 220.40v-1.6M419.30 296.90v1.6M423.55 220.40v-1.6M423.55 296.90v1.6M427.80 220.40v-1.6M427.80 296.90v1.6M432.05 220.40v-1.6M432.05 296.90v1.6M436.30 220.40v-3.0M436.30 296.90v3.0M440.55 220.40v-1.6M440.55 296.90v1.6M444.80 220.40v-1.6M444.80 296.90v1.6M449.05 220.40v-1.6M449.05 296.90v1.6M453.30 220.40v-1.6M453.30 296.90v1.6M457.55 220.40v-1.6M457.55 296.90v1.6M461.80 220.40v-3.0M461.80 296.90v3.0M466.05 220.40v-1.6M466.05 296.90v1.6M470.30 220.40v-1.6M470.30 296.90v1.6M474.55 220.40v-1.6M474.55 296.90v1.6M478.80 220.40v-1.6M478.80 296.90v1.6M483.05 220.40v-1.6M483.05 296.90v1.6M487.30 220.40v-3.0M487.30 296.90v3.0M491.55 220.40v-1.6M491.55 296.90v1.6M495.80 220.40v-1.6M495.80 296.90v1.6M500.05 220.40v-1.6M500.05 296.90v1.6M504.30 220.40v-1.6M504.30 296.90v1.6M508.55 220.40v-1.6M508.55 296.90v1.6M512.80 220.40v-3.0M512.80 296.90v3.0M517.05 220.40v-1.6M517.05 296.90v1.6M521.30 220.40v-1.6M521.30 296.90v1.6M525.55 220.40v-1.6M525.55 296.90v1.6M529.80 220.40v-1.6M529.80 296.90v1.6M534.05 220.40v-1.6M534.05 296.90v1.6M538.30 220.40v-3.0M538.30 296.90v3.0M385.30 296.90h-3.0M538.30 296.90h3.0M385.30 292.65h-1.6M538.30 292.65h1.6M385.30 288.40h-1.6M538.30 288.40h1.6M385.30 284.15h-3.0M538.30 284.15h3.0M385.30 279.90h-1.6M538.30 279.90h1.6M385.30 275.65h-1.6M538.30 275.65h1.6M385.30 271.40h-3.0M538.30 271.40h3.0M385.30 267.15h-1.6M538.30 267.15h1.6M385.30 262.90h-1.6M538.30 262.90h1.6M385.30 258.65h-3.0M538.30 258.65h3.0M385.30 254.40h-1.6M538.30 254.40h1.6M385.30 250.15h-1.6M538.30 250.15h1.6M385.30 245.90h-3.0M538.30 245.90h3.0M385.30 241.65h-1.6M538.30 241.65h1.6M385.30 237.40h-1.6M538.30 237.40h1.6M385.30 233.15h-3.0M538.30 233.15h3.0M385.30 228.90h-1.6M538.30 228.90h1.6M385.30 224.65h-1.6M538.30 224.65h1.6M385.30 220.40h-3.0M538.30 220.40h3.0" stroke="#000" stroke-width="0.85" fill="none"/><g font-size="5.2" fill="#000" stroke="#000" stroke-width="0.22"><text x="379.10" y="235.05" text-anchor="end">60N</text><text x="379.10" y="247.80" text-anchor="end">30N</text><text x="379.10" y="260.55" text-anchor="end">0</text><text x="379.10" y="273.30" text-anchor="end">30S</text><text x="379.10" y="286.05" text-anchor="end">60S</text><text x="385.30" y="307.30" text-anchor="middle">0</text><text x="410.80" y="307.30" text-anchor="middle">60E</text><text x="436.30" y="307.30" text-anchor="middle">120E</text><text x="461.80" y="307.30" text-anchor="middle">180</text><text x="487.30" y="307.30" text-anchor="middle">120W</text><text x="512.80" y="307.30" text-anchor="middle">60W</text><text x="538.30" y="307.30" text-anchor="middle">0</text></g><text x="384.90" y="213.30" font-size="6.2" fill="#000" stroke="#000" stroke-width="0.25">(i) surface</text><text transform="translate(7.3 258.40) rotate(-90)" text-anchor="middle" font-size="7.8" fill="#000" stroke="#000" stroke-width="0.25">Noise</text><rect x="553.50" y="219.10" width="6.80" height="8.77" fill="#c8202e"/><rect x="553.50" y="227.82" width="6.80" height="8.77" fill="#e52226"/><rect x="553.50" y="236.54" width="6.80" height="8.77" fill="#f0302c"/><rect x="553.50" y="245.26" width="6.80" height="8.77" fill="#f2503c"/><rect x="553.50" y="253.98" width="6.80" height="8.77" fill="#f56a55"/><rect x="553.50" y="262.70" width="6.80" height="8.77" fill="#f67c62"/><rect x="553.50" y="271.42" width="6.80" height="8.77" fill="#f89878"/><rect x="553.50" y="280.14" width="6.80" height="8.77" fill="#fbb898"/><rect x="553.50" y="288.86" width="6.80" height="8.77" fill="#fdd8c0"/><rect x="553.50" y="297.58" width="6.80" height="8.77" fill="#fff5f0"/><path d="M553.50 227.82h6.80M553.50 236.54h6.80M553.50 245.26h6.80M553.50 253.98h6.80M553.50 262.70h6.80M553.50 271.42h6.80M553.50 280.14h6.80M553.50 288.86h6.80M553.50 297.58h6.80" stroke="#222" stroke-width="0.7"/><rect x="553.50" y="219.10" width="6.80" height="87.20" fill="none" stroke="#555" stroke-width="0.9"/><g font-size="5.4" fill="#000" stroke="#000" stroke-width="0.22" text-anchor="middle"><text x="567.2" y="230.37">1.4</text><text x="567.2" y="239.09">1.2</text><text x="567.2" y="247.81">1</text><text x="567.2" y="256.53">0.8</text><text x="567.2" y="265.25">0.6</text><text x="567.2" y="273.97">0.5</text><text x="567.2" y="282.69">0.4</text><text x="567.2" y="291.41">0.3</text><text x="567.2" y="300.13">0.2</text></g><svg x="36.40" y="322.10" width="153.00" height="76.50" viewBox="0 0 360 180" preserveAspectRatio="none"><rect x="-10" y="-10" width="380" height="200" fill="#d8e8f5"/><path fill="#fde0c8" fill-rule="evenodd" d="M-8 -8l376 0 0 144-376 0z"/><path fill="#fbb898" fill-rule="evenodd" d="M-8 44l182 0 76-2 118 2 0 88-376 0z"/><path fill="#f99a7c" fill-rule="evenodd" d="M244 48l24 1 48 3 52 1 0 75-376 0 0-75 182-1z"/><path fill="#f77a5c" fill-rule="evenodd" d="M233 54l21-1 52 5 62 0 0 66-376 0 0-66 188 0 26-1z"/><path fill="#f46c58" fill-rule="evenodd" d="M186 63l70-3 50 3 62 0 0 57-376 0 0-57z"/><path fill="#f04a3a" fill-rule="evenodd" d="M-8 70l176 1 30 1 21 2 1 2-8 4-4 4 0 4 3 6 5 4 6 2 18 2 20-2 6-2 6-4 2-6 0-4-6-5-8-3 1-2 27-2 80-1 0 44-28 1-100-3-126 4-90-2-32 1z"/><path fill="#ec2a28" fill-rule="evenodd" d="M87 80l35 1 28 5 10 4 2 2 2 4-1 6-1 2-3 2-19 5-20 2-24 0-24-2-23-5-10-4-5-6 0-2 3-4 11-4 18-4zM340 84l14 0 14 5 0 12-5 3-11 2-12 0-10-2-5-6 0-6 1-2 4-3zM-8 106l0-22 4 1 13 5 3 4-1 4-8 6z"/><path fill="#cc1e2c" fill-rule="evenodd" d="M89 92l13-1 10 1 4 2 8 10-2 2-12 2-20-2-4-2-3-8 1-2z"/><use href="#cst" fill="none" stroke="#000" stroke-width="2.1" stroke-linejoin="round"/></svg><rect x="36.40" y="322.10" width="153.00" height="76.50" fill="none" stroke="#000" stroke-width="1.05"/><path d="M36.40 322.10v-3.0M36.40 398.60v3.0M40.65 322.10v-1.6M40.65 398.60v1.6M44.90 322.10v-1.6M44.90 398.60v1.6M49.15 322.10v-1.6M49.15 398.60v1.6M53.40 322.10v-1.6M53.40 398.60v1.6M57.65 322.10v-1.6M57.65 398.60v1.6M61.90 322.10v-3.0M61.90 398.60v3.0M66.15 322.10v-1.6M66.15 398.60v1.6M70.40 322.10v-1.6M70.40 398.60v1.6M74.65 322.10v-1.6M74.65 398.60v1.6M78.90 322.10v-1.6M78.90 398.60v1.6M83.15 322.10v-1.6M83.15 398.60v1.6M87.40 322.10v-3.0M87.40 398.60v3.0M91.65 322.10v-1.6M91.65 398.60v1.6M95.90 322.10v-1.6M95.90 398.60v1.6M100.15 322.10v-1.6M100.15 398.60v1.6M104.40 322.10v-1.6M104.40 398.60v1.6M108.65 322.10v-1.6M108.65 398.60v1.6M112.90 322.10v-3.0M112.90 398.60v3.0M117.15 322.10v-1.6M117.15 398.60v1.6M121.40 322.10v-1.6M121.40 398.60v1.6M125.65 322.10v-1.6M125.65 398.60v1.6M129.90 322.10v-1.6M129.90 398.60v1.6M134.15 322.10v-1.6M134.15 398.60v1.6M138.40 322.10v-3.0M138.40 398.60v3.0M142.65 322.10v-1.6M142.65 398.60v1.6M146.90 322.10v-1.6M146.90 398.60v1.6M151.15 322.10v-1.6M151.15 398.60v1.6M155.40 322.10v-1.6M155.40 398.60v1.6M159.65 322.10v-1.6M159.65 398.60v1.6M163.90 322.10v-3.0M163.90 398.60v3.0M168.15 322.10v-1.6M168.15 398.60v1.6M172.40 322.10v-1.6M172.40 398.60v1.6M176.65 322.10v-1.6M176.65 398.60v1.6M180.90 322.10v-1.6M180.90 398.60v1.6M185.15 322.10v-1.6M185.15 398.60v1.6M189.40 322.10v-3.0M189.40 398.60v3.0M36.40 398.60h-3.0M189.40 398.60h3.0M36.40 394.35h-1.6M189.40 394.35h1.6M36.40 390.10h-1.6M189.40 390.10h1.6M36.40 385.85h-3.0M189.40 385.85h3.0M36.40 381.60h-1.6M189.40 381.60h1.6M36.40 377.35h-1.6M189.40 377.35h1.6M36.40 373.10h-3.0M189.40 373.10h3.0M36.40 368.85h-1.6M189.40 368.85h1.6M36.40 364.60h-1.6M189.40 364.60h1.6M36.40 360.35h-3.0M189.40 360.35h3.0M36.40 356.10h-1.6M189.40 356.10h1.6M36.40 351.85h-1.6M189.40 351.85h1.6M36.40 347.60h-3.0M189.40 347.60h3.0M36.40 343.35h-1.6M189.40 343.35h1.6M36.40 339.10h-1.6M189.40 339.10h1.6M36.40 334.85h-3.0M189.40 334.85h3.0M36.40 330.60h-1.6M189.40 330.60h1.6M36.40 326.35h-1.6M189.40 326.35h1.6M36.40 322.10h-3.0M189.40 322.10h3.0" stroke="#000" stroke-width="0.85" fill="none"/><g font-size="5.2" fill="#000" stroke="#000" stroke-width="0.22"><text x="30.20" y="336.75" text-anchor="end">60N</text><text x="30.20" y="349.50" text-anchor="end">30N</text><text x="30.20" y="362.25" text-anchor="end">0</text><text x="30.20" y="375.00" text-anchor="end">30S</text><text x="30.20" y="387.75" text-anchor="end">60S</text><text x="36.40" y="409.00" text-anchor="middle">0</text><text x="61.90" y="409.00" text-anchor="middle">60E</text><text x="87.40" y="409.00" text-anchor="middle">120E</text><text x="112.90" y="409.00" text-anchor="middle">180</text><text x="138.40" y="409.00" text-anchor="middle">120W</text><text x="163.90" y="409.00" text-anchor="middle">60W</text><text x="189.40" y="409.00" text-anchor="middle">0</text></g><text x="35.50" y="315.50" font-size="6.2" fill="#000" stroke="#000" stroke-width="0.25">(j) 200hPa</text><svg x="210.40" y="322.10" width="153.00" height="76.50" viewBox="0 0 360 180" preserveAspectRatio="none"><rect x="-10" y="-10" width="380" height="200" fill="#d8e8f5"/><path fill="#fde0c8" fill-rule="evenodd" d="M-8 -8l376 0 0 196-376 0z"/><path fill="#fbb898" fill-rule="evenodd" d="M-8 -8l376 0 0 196-376 0zM176 44l4 2 4-2-4 0z"/><path fill="#f99a7c" fill-rule="evenodd" d="M-8 -8l376 0 0 196-376 0zM92 48l1 2 7 1 7-1 1-2-8-1zM176 38l-12 2-5 2-2 2 1 2 6 2 16 2 16-2 6-2 1-2-3-3-6-2z"/><path fill="#f77a5c" fill-rule="evenodd" d="M-8 142l0-87 68 0 40 2 40-2 42 1 186-1 0 87z"/><path fill="#f46c58" fill-rule="evenodd" d="M-8 124l0-59 168 0 36 1 44 3 54-4 74 0 0 59-62 0-6-8-34-6-8-3-11-7-7-1-6 1-12 8-10 3-40 5 24 8-30 4-26 2-30 0-26-1-46-5z"/><path fill="#f04a3a" fill-rule="evenodd" d="M90 72l50 0 42 2 10 2 5 2 8 6 1 2-7 8-3 2-14 4-20 2-62 2-82-4-26 3 0-28zM300 76l24-1 44 0 0 26-28 3-16 0-18-2-16-6-3-2-6-8 0-2 9-5z"/><path fill="#ec2a28" fill-rule="evenodd" d="M78 80l26-2 28 1 24 3 9 2 3 2-4 4-11 4-19 2-24 1-24-1-19-2-13-4-4-4 6-3z"/><use href="#cst" fill="none" stroke="#000" stroke-width="2.1" stroke-linejoin="round"/></svg><rect x="210.40" y="322.10" width="153.00" height="76.50" fill="none" stroke="#000" stroke-width="1.05"/><path d="M210.40 322.10v-3.0M210.40 398.60v3.0M214.65 322.10v-1.6M214.65 398.60v1.6M218.90 322.10v-1.6M218.90 398.60v1.6M223.15 322.10v-1.6M223.15 398.60v1.6M227.40 322.10v-1.6M227.40 398.60v1.6M231.65 322.10v-1.6M231.65 398.60v1.6M235.90 322.10v-3.0M235.90 398.60v3.0M240.15 322.10v-1.6M240.15 398.60v1.6M244.40 322.10v-1.6M244.40 398.60v1.6M248.65 322.10v-1.6M248.65 398.60v1.6M252.90 322.10v-1.6M252.90 398.60v1.6M257.15 322.10v-1.6M257.15 398.60v1.6M261.40 322.10v-3.0M261.40 398.60v3.0M265.65 322.10v-1.6M265.65 398.60v1.6M269.90 322.10v-1.6M269.90 398.60v1.6M274.15 322.10v-1.6M274.15 398.60v1.6M278.40 322.10v-1.6M278.40 398.60v1.6M282.65 322.10v-1.6M282.65 398.60v1.6M286.90 322.10v-3.0M286.90 398.60v3.0M291.15 322.10v-1.6M291.15 398.60v1.6M295.40 322.10v-1.6M295.40 398.60v1.6M299.65 322.10v-1.6M299.65 398.60v1.6M303.90 322.10v-1.6M303.90 398.60v1.6M308.15 322.10v-1.6M308.15 398.60v1.6M312.40 322.10v-3.0M312.40 398.60v3.0M316.65 322.10v-1.6M316.65 398.60v1.6M320.90 322.10v-1.6M320.90 398.60v1.6M325.15 322.10v-1.6M325.15 398.60v1.6M329.40 322.10v-1.6M329.40 398.60v1.6M333.65 322.10v-1.6M333.65 398.60v1.6M337.90 322.10v-3.0M337.90 398.60v3.0M342.15 322.10v-1.6M342.15 398.60v1.6M346.40 322.10v-1.6M346.40 398.60v1.6M350.65 322.10v-1.6M350.65 398.60v1.6M354.90 322.10v-1.6M354.90 398.60v1.6M359.15 322.10v-1.6M359.15 398.60v1.6M363.40 322.10v-3.0M363.40 398.60v3.0M210.40 398.60h-3.0M363.40 398.60h3.0M210.40 394.35h-1.6M363.40 394.35h1.6M210.40 390.10h-1.6M363.40 390.10h1.6M210.40 385.85h-3.0M363.40 385.85h3.0M210.40 381.60h-1.6M363.40 381.60h1.6M210.40 377.35h-1.6M363.40 377.35h1.6M210.40 373.10h-3.0M363.40 373.10h3.0M210.40 368.85h-1.6M363.40 368.85h1.6M210.40 364.60h-1.6M363.40 364.60h1.6M210.40 360.35h-3.0M363.40 360.35h3.0M210.40 356.10h-1.6M363.40 356.10h1.6M210.40 351.85h-1.6M363.40 351.85h1.6M210.40 347.60h-3.0M363.40 347.60h3.0M210.40 343.35h-1.6M363.40 343.35h1.6M210.40 339.10h-1.6M363.40 339.10h1.6M210.40 334.85h-3.0M363.40 334.85h3.0M210.40 330.60h-1.6M363.40 330.60h1.6M210.40 326.35h-1.6M363.40 326.35h1.6M210.40 322.10h-3.0M363.40 322.10h3.0" stroke="#000" stroke-width="0.85" fill="none"/><g font-size="5.2" fill="#000" stroke="#000" stroke-width="0.22"><text x="204.20" y="336.75" text-anchor="end">60N</text><text x="204.20" y="349.50" text-anchor="end">30N</text><text x="204.20" y="362.25" text-anchor="end">0</text><text x="204.20" y="375.00" text-anchor="end">30S</text><text x="204.20" y="387.75" text-anchor="end">60S</text><text x="210.40" y="409.00" text-anchor="middle">0</text><text x="235.90" y="409.00" text-anchor="middle">60E</text><text x="261.40" y="409.00" text-anchor="middle">120E</text><text x="286.90" y="409.00" text-anchor="middle">180</text><text x="312.40" y="409.00" text-anchor="middle">120W</text><text x="337.90" y="409.00" text-anchor="middle">60W</text><text x="363.40" y="409.00" text-anchor="middle">0</text></g><text x="211.20" y="315.50" font-size="6.2" fill="#000" stroke="#000" stroke-width="0.25">(k) 500hPa</text><svg x="385.30" y="322.10" width="153.00" height="76.50" viewBox="0 0 360 180" preserveAspectRatio="none"><rect x="-10" y="-10" width="380" height="200" fill="#d8e8f5"/><path fill="#fde0c8" fill-rule="evenodd" d="M-8 -8l376 0 0 196-376 0zM104 56l-1 2 5 3 4-1 5-2-1-2-4-2-6 1zM178 46l-25 4 1 2 4 1 18 2 28-3 2 0 2-2-4-2-12-1zM262 45l-3 3 0 6 5 3 6-1 2-4-2-6-4-2z"/><path fill="#fbb898" fill-rule="evenodd" d="M-8 -8l376 0 0 44-2 2 2 1 0 2-3 1 0 2 3 1 0 96-1 1 1 1 0 26-2 1-1 2 3 1 0 3-2 2 2 1 0 8-2 0 0 1-3 0 0-2-3-2-4 2 1 2-2 0 1-2-4-3-2 2-2-1-2 4-3 0-1-2-4 0-1 2-2 0-3-7-2 1-1 6-8 0-3-4 8-2 2-2-2-2-4-2-8 2-8-1-2-1-2-6-2-1-3 3 0 2 4 4 0 2-4 2 3 6-9 0-2-4 6-4-1-6-2-2-2-1-2 2-4 10-6 1-2-1-2-3-12-1-1-1-2-2 6-6-3-3-3 1-9 10 1 2 4 2 1 2-2 4-6 0 0-1-6-4-4 4-2-1-4-2 1-2 3-2-4-4-2 0-2 3 0 3-2 2 0 4-4 0 0-2-2-1 0-1-4-1-1 1 0 2-3 0 0 2-6 0 1-2 3-4-1-2-3-3-4 0-2-1-5 4 0 2 7 1 3 3-1 2-9 0-1-3-2 1-4-1-1 3-5 0-2-3-2 3-1 0-5-2-2-9-4 1-4-1-6-3-2-3-2-1-3 2-1 6-1 2 1 4 2 1 2-1 2-6 2 10-4 0 0-1-1 1-4 0-1-2-1 2-5 0 0-2-7 2-1-2 0 2-4 0 0-2 1-2 3 1 3-1 2-2-5-3-2-3-2 0-4 4-6 1-6-3 0-3-1 3-5 2-4-3-2 0-4 2-2-3-2 0-2 2 0 2 2 2 4-1 1 1-2 2-1 4-4 0-2-3-1 3-5 0 0-1-3 1-2-6 3-6 0-2-2 0-2 3-3 1-3 0-2-1-2 1-1 4 5 6-5 0-1-2-2 0-1 2-2 0-1-2-1 2-2 0-1-2 7-6-9-4-1-2 1-4-2-2-4 1-2 3 0 2 2 5 4 0 4 5 0 2-2 1 0 1-6 0 0-2-2 0-1 2-3 0 0-1 0 1-6 0 2-4 2 0 1-2-1-2-4 0-4-2-2 2-2 0-6-4-2-3-6-2-4 1-1 2-1 4-2 1-4-2-6 0-2-1 0-37 1-3-1 0 0-82 1 0-1 0 0-5 3-1-3-2 0-11 1-1-1-1zM56 31l-10 5-6-2-6 1 0 3-2 1-2 0-4-3-12 3-4-2-2 0-6 5-5 2 3 3 12 4 2 0 4-3 4 2 8-1 2 1 20 3 12-1 4 2 4-1 10 1 14-3 2 1 0 4 2 2 6 4 4 0 11-4 0-2-4-4 0-2 3-2 4 2 6-1 8 2 10 4 26 1 32-1 12-2 3-3-2-4-5-2-4 1-12-3-10 2-10-2-12 0-2 0-2-2-2 0-2 4-4 1-4-4-2 1-8 0-10-7-2 0-16 2-8-3-8 1-12-2-26 0zM231 166l-3 0 2 4 1-2zM236 44l-4 0 4 4zM252 44l-7-2 0 2 1 2 8 1 1 7 2 2 7 3 6-1 3-2 2-8 2-4-5-4-12 0-8 5zM280 167l-1 3 1 2 3-4-1-2zM308 44l-4 0-2 2 4 1 3-1zM314 42l-1 4 3 2 2-1 1-1-1-4zM322 170l-1 2 3 0-1-2zM334 45l-1 1 1 1 1-1zM344 172l0 2 2 1 1-1 0-2zM352 167l-1 3 1 3 2 0 1-5zM356 42l-1 4 3 2 2 0 3-4-1-2-2-2-2 0zM100 167l-4 5 4 3 4-3 1-4-3-1zM118 168l-2 0-2 4 6 1 1-1 1-2zM142 179l-2 3 0 1 2 0zM158 162l2 4 2 0 0-4-2-1zM170 168l-1 2 1 2 1-2zM-8 181l0-2 4 0 1 3-4 6-1-5 2-1zM12 180l3 2 1 6-6 0zM303 182l3-3 5 5-3 4-4 0-1-2zM3 186l3-5 1 1 0 6-4 0zM160 182l6-1 1 3-5 2-2 0zM314 184l4 0 0 4-3 0zM-3 188l1-3 2 1 1 2zM27 186l3 0 0 2-5 0zM97 188l1-4 6 2 2-2 4 0 2 2-1 2zM115 186l3 0 0 2-3 0zM217 186l3 0 1 2-6 0zM230 186l2 2-5 0 1-1zM267 188l1-3 2 3zM270 188l2-2 2 2zM281 188l3-3 2 0 0 3zM331 188l2-2 0 2zM275 188l3-1 1 1-1 0z"/><path fill="#f99a7c" fill-rule="evenodd" d="M-8 -8l376 0 0 28-4 2-8 2-8-3-4 0-4 3-6 0-6-3-8 0-4 2-4-1-10 3-7-3-9 1-4-3-2 0-4 3-2 1-4-2-6-1-4 3-2 0-6-3-8 4-6-3-8 1-6-4-12 3-6 1-4-1-4 2-6-1-4-2-4 2-8 1-16-4-6 3-8-2-14 0-8 3-4-2-6 0-2 0-2 2-2 0-2-6-2 0-2 0-3 4-21 2-4-1-10 2-10-3-6 2-8-1-4-2-4 2-6-1-4 3-4-1-6-3-8 1-8 2-4 2 1 2-1 1zM-8 58l24 0 4-1 32 1 34 0 10 1 10 4 4 1 16-4 6 2 4-2 8 1 6 1 8-3 10 2 4-1 10 1 10-1 10 2 16-2 14 1 8-3 2 1 4-1 4 0 13 2 3 2 2-2 4 1 6-3 4 3 8-1 38 1 38-3 2 0 0 62-1 0 1 0 0 6-6-3-4 3-4-1-2 1-4-4-2 0-4 2-2 2-14-3-4 1-2 0-2-4-1 0-1 2 2 6-2 2-2-2 2-4-4-2-2 1-6 6-6 2-2 1-4 8 1 4-3 1-4-1-1-2-1-8 1-4-1-2-10 0-4-3-4-1-8 3-6-3-6 2-2 0-4-2-8-1-4 1-6 0-6 2-6-2-4 2-10-3-5 1-3 3-2 0-6-3-1 4-4 4-2 4-3 2-3-2 0-2 3-3 3-1-3-7-6 3-4-1-6 0-6 9-2 0-10-7-6 0-8-2-6 1-4-1-8 1-8 2-4-2-3-4-3-1-2 1-2 3-2 0-2-3-2 0-2 2-2 4-10-5-2 0-4 5-2 0-16-6-2 6-4 0-2-2-2-1-8 2-6-3-8 5-2-3 0-4-2 0-3 2-3 4-4-1 0-2 2-1-2-1zM366 132l2-1 0 2zM151 148l1-1 2 1-2 1zM313 148l2 0 1 2-5 0z"/><path fill="#f77a5c" fill-rule="evenodd" d="M-8 -8l7 0 1 2 1-2 6 0 1 1 1-1 10 0 1 1 0-1 3 0 1 2 1-2 16 0 1 1 1-1 6 0 1 2 2-2 4 1 1-1 46 0 1 1 0-1 24 0 2 1 0-1 5 0 1 1 0-1 11 0 1 2 2 0 2-2 15 0 1 1 2 0 2-1 2 1 1-1 32 0 1 1 0-1 21 0 1 1 1-1 31 0 0 1 2-1 2 2 2-2 55 0 1 2 2-2 22 0 0 1 0-1 11 0 1 2 1-2 7 0 0 7-2 3 2 1 0 2-6 2-4-1-4 1-4-3-3 2-3 0-6 4-14-6-8 2-4 0-6 3-4-3-6 0-4-2-8 2-4-2-2 2-6-2-4 2-4 1-4 3-2-1-6-5-4 5-14-6-10 6-8 0-8-4-6 1-4 2-4-3-4 1-8 1-5-3-5-1-8 4-8 1-2-1-1-5-3-1-8 7-10-1-4 2-8-6-6 3-2 0-4-3-2 0-4 2-4-3-2 0-4 2-4 4-2-1-2-4-2 0-6 4-6-1-6 1-6-1-4 0-4-2-6 0-4-1-4 1-8 0-8 2-4-4-2 1-6 4-6 1-10-3 0-8 2-1-2-1zM307 2l-1 0 0 2zM366 8l2-1 0 2zM-8 60l34 1 14-1 8 1 2 1 8-2 6 1 22-1 8 1 12 4 10 1-1 4 3 1 4-2 24 2 6-2 8 1 6-1 12 3 20 0 6-3 4 3 6 1 12 0 4 1 6-2 10 0 8 2 0-6-4-6 2-2 9 2 3 7 2 1 4-2 4 2 2-3 6-1 6 3 2 2 2 1 2-1 4 3 6-3 10 2 8-1 6 1 2-1 4-1 6 1 6-8 8-4 14 0 0 53-4-4-8 3-4-3-6-1-10 3-4-1-4 2-6-1-4 3-4 0-12 12-6 0-6-2-1-8-3-4-6-2-8 0-4 1-4-1-6 2-14 0-1-2-3-1-6 2-6 0-4-2-5 1-5 3-6-4-4 1-4-3-4 0-8 4-14 1-6-3-6 3-6 0-4-2 0 2 1 4-1 5-4 5-4 1-14-7-14 3-3-7 0-4-1-1-2 1-10-2-6 1-6-2-4 0-8 2-4-1-2 1-8-2-8 2-2-1-4 5-4 1-3-2-1-4-2 1-8 9-8 4-7-8-1-4-4-3-18-1zM60 66l2 4 6 3 2-1 1-2-5-4z"/><path fill="#f46c58" fill-rule="evenodd" d="M-8 66l6 4 8 2 2-4 8-2 2 1 4-1 4 2 6 1 8 6 2 1 2-1 1 3 6 2 1 4 2 1 10-5 8 0 2-1 0-7 2-4 2 0 7 0-1 0-3 4 0 6 1 2 16-1 1-1-3-6-3-4 3-1 4 2 6 2 6 8 8 0 12-2 24-2 26 2 12 3 6 6 14 2 4-1 2 1 1 2-5 4 1 2-1 0-8 0-4 2-4-3-4 1-4 4-6-2-6 2-2-2-2 0-1 2-3 1-24 1-3 2 0 6-5 3-4 1-10-2-6 1-1-1 3-2 2-5 5-1-7-2-20 1-8 0-6-2-6 2-12-2-5-1-3-3-2 1-1 2-2 2-6 0 1 2-4 4-2-2 2-3 2-1-2-3-4-3-2 0 1 4-3 6-8 5-4 0-6 4-4-3-5-6-2-10-3-1-2 2-2 0-5-5 1-2 5-4-3-1-2 1-8 0zM43 68l1-1 10 1 2 1 1 1-5 4-6 1-2-2zM347 68l3 0 2 2 2-1 2-3 2 0 9 4 1 2 0 13-6 0-10 2-2-1-3-6-3-2-1-2zM267 72l3 0 2 3 4 0 2 5 2 2 2-2 6-2 10 1 16 9 4 0 2 4 8 4 2 4-8 4-3 4-3 2-10 2-8 0-6 2-2-2-1-4-6-4-7-9-4 0-2-1 4-1 7-7 0-2-1-2-2 1-2-1-4-5-5-3zM226 86l2-1 12 3 4 2-6 2-6 5-2 0-4-3-1-4zM254 88l3 2-5 4 6 4-2 1-4-1 0-4-7-4 3-2zM365 88l3 0 0 1-2 0zM-8 90l3 2-1 1-2 0zM349 90l2 0-1 3-1-1zM361 90l3-1 1 1-1 1-2 0zM364 94l4-2 0 10-4-2zM-8 96l2-1 1 1-1 1z"/><path fill="#f04a3a" fill-rule="evenodd" d="M32 82l6-3 4 3 4 0 1 2-9 10-1 4 1 2-4 1-4 2-4-1-6 0-4-1-1-5-4-6 1-4 6 1 1-1-3-2 1-2 1 0 4 4 1-2 3-2zM151 80l19-2 10 2 2 2 0 2-2 4-6 0-8 3-14 2-5 5-5 2-10-5-10 1-4-2-4 1-6-3-4 4-6-3-4 1-6-4-2 1-4 2-2-1 0-2 2-2 4 1 8-1 6-5 8 4 8-4 4 1 2 0 2-3 2 1 1 0-1 4 4 0 4-3zM294 84l6 0 4 3 3 1 1 2-1 4 2 2 1 2 2 1 1-1-1-2-1-2 1 0 4 0 7 4-1 2-2 1-12-1-6-2-6-5-6 2-4 3-4-2-1-2 0-4 3-1 6 0zM285 100l1-2 1 2-1 1z"/><path fill="#ec2a28" fill-rule="evenodd" d="M164 82l4-1 4 1-3 2-3 0zM112 88l4-1 0 3-2 2-2-1-1-1z"/><use href="#cst" fill="none" stroke="#000" stroke-width="2.1" stroke-linejoin="round"/></svg><rect x="385.30" y="322.10" width="153.00" height="76.50" fill="none" stroke="#000" stroke-width="1.05"/><path d="M385.30 322.10v-3.0M385.30 398.60v3.0M389.55 322.10v-1.6M389.55 398.60v1.6M393.80 322.10v-1.6M393.80 398.60v1.6M398.05 322.10v-1.6M398.05 398.60v1.6M402.30 322.10v-1.6M402.30 398.60v1.6M406.55 322.10v-1.6M406.55 398.60v1.6M410.80 322.10v-3.0M410.80 398.60v3.0M415.05 322.10v-1.6M415.05 398.60v1.6M419.30 322.10v-1.6M419.30 398.60v1.6M423.55 322.10v-1.6M423.55 398.60v1.6M427.80 322.10v-1.6M427.80 398.60v1.6M432.05 322.10v-1.6M432.05 398.60v1.6M436.30 322.10v-3.0M436.30 398.60v3.0M440.55 322.10v-1.6M440.55 398.60v1.6M444.80 322.10v-1.6M444.80 398.60v1.6M449.05 322.10v-1.6M449.05 398.60v1.6M453.30 322.10v-1.6M453.30 398.60v1.6M457.55 322.10v-1.6M457.55 398.60v1.6M461.80 322.10v-3.0M461.80 398.60v3.0M466.05 322.10v-1.6M466.05 398.60v1.6M470.30 322.10v-1.6M470.30 398.60v1.6M474.55 322.10v-1.6M474.55 398.60v1.6M478.80 322.10v-1.6M478.80 398.60v1.6M483.05 322.10v-1.6M483.05 398.60v1.6M487.30 322.10v-3.0M487.30 398.60v3.0M491.55 322.10v-1.6M491.55 398.60v1.6M495.80 322.10v-1.6M495.80 398.60v1.6M500.05 322.10v-1.6M500.05 398.60v1.6M504.30 322.10v-1.6M504.30 398.60v1.6M508.55 322.10v-1.6M508.55 398.60v1.6M512.80 322.10v-3.0M512.80 398.60v3.0M517.05 322.10v-1.6M517.05 398.60v1.6M521.30 322.10v-1.6M521.30 398.60v1.6M525.55 322.10v-1.6M525.55 398.60v1.6M529.80 322.10v-1.6M529.80 398.60v1.6M534.05 322.10v-1.6M534.05 398.60v1.6M538.30 322.10v-3.0M538.30 398.60v3.0M385.30 398.60h-3.0M538.30 398.60h3.0M385.30 394.35h-1.6M538.30 394.35h1.6M385.30 390.10h-1.6M538.30 390.10h1.6M385.30 385.85h-3.0M538.30 385.85h3.0M385.30 381.60h-1.6M538.30 381.60h1.6M385.30 377.35h-1.6M538.30 377.35h1.6M385.30 373.10h-3.0M538.30 373.10h3.0M385.30 368.85h-1.6M538.30 368.85h1.6M385.30 364.60h-1.6M538.30 364.60h1.6M385.30 360.35h-3.0M538.30 360.35h3.0M385.30 356.10h-1.6M538.30 356.10h1.6M385.30 351.85h-1.6M538.30 351.85h1.6M385.30 347.60h-3.0M538.30 347.60h3.0M385.30 343.35h-1.6M538.30 343.35h1.6M385.30 339.10h-1.6M538.30 339.10h1.6M385.30 334.85h-3.0M538.30 334.85h3.0M385.30 330.60h-1.6M538.30 330.60h1.6M385.30 326.35h-1.6M538.30 326.35h1.6M385.30 322.10h-3.0M538.30 322.10h3.0" stroke="#000" stroke-width="0.85" fill="none"/><g font-size="5.2" fill="#000" stroke="#000" stroke-width="0.22"><text x="379.10" y="336.75" text-anchor="end">60N</text><text x="379.10" y="349.50" text-anchor="end">30N</text><text x="379.10" y="362.25" text-anchor="end">0</text><text x="379.10" y="375.00" text-anchor="end">30S</text><text x="379.10" y="387.75" text-anchor="end">60S</text><text x="385.30" y="409.00" text-anchor="middle">0</text><text x="410.80" y="409.00" text-anchor="middle">60E</text><text x="436.30" y="409.00" text-anchor="middle">120E</text><text x="461.80" y="409.00" text-anchor="middle">180</text><text x="487.30" y="409.00" text-anchor="middle">120W</text><text x="512.80" y="409.00" text-anchor="middle">60W</text><text x="538.30" y="409.00" text-anchor="middle">0</text></g><text x="384.90" y="315.50" font-size="6.2" fill="#000" stroke="#000" stroke-width="0.25">(l) surface</text><text transform="translate(7.3 361.90) rotate(-90)" text-anchor="middle" font-size="7.8" fill="#000" stroke="#000" stroke-width="0.25">SNR</text><rect x="553.50" y="320.50" width="6.80" height="9.77" fill="#cc1e2c"/><rect x="553.50" y="330.22" width="6.80" height="9.77" fill="#ec2a28"/><rect x="553.50" y="339.94" width="6.80" height="9.77" fill="#f04a3a"/><rect x="553.50" y="349.67" width="6.80" height="9.77" fill="#f46c58"/><rect x="553.50" y="359.39" width="6.80" height="9.77" fill="#f77a5c"/><rect x="553.50" y="369.11" width="6.80" height="9.77" fill="#f99a7c"/><rect x="553.50" y="378.83" width="6.80" height="9.77" fill="#fbb898"/><rect x="553.50" y="388.56" width="6.80" height="9.77" fill="#fde0c8"/><rect x="553.50" y="398.28" width="6.80" height="9.77" fill="#d8e8f5"/><path d="M553.50 330.22h6.80M553.50 339.94h6.80M553.50 349.67h6.80M553.50 359.39h6.80M553.50 369.11h6.80M553.50 378.83h6.80M553.50 388.56h6.80M553.50 398.28h6.80" stroke="#222" stroke-width="0.7"/><rect x="553.50" y="320.50" width="6.80" height="87.50" fill="none" stroke="#555" stroke-width="0.9"/><g font-size="5.4" fill="#000" stroke="#000" stroke-width="0.22" text-anchor="middle"><text x="567.2" y="332.77">1.4</text><text x="567.2" y="342.49">1.2</text><text x="567.2" y="352.22">1</text><text x="567.2" y="361.94">0.8</text><text x="567.2" y="371.66">0.6</text><text x="567.2" y="381.38">0.4</text><text x="567.2" y="391.11">0.2</text><text x="567.2" y="400.83">0</text></g><svg x="38.00" y="429.30" width="152.50" height="76.20" viewBox="0 0 360 180" preserveAspectRatio="none"><rect x="-10" y="-10" width="380" height="200" fill="#2058a8"/><path fill="#2478c8" fill-rule="evenodd" d="M-8 -8l376 0 0 196-376 0z"/><path fill="#2ca0e0" fill-rule="evenodd" d="M-8 -8l376 0 0 196-376 0z"/><path fill="#4ec0dc" fill-rule="evenodd" d="M-8 -8l376 0 0 196-376 0z"/><path fill="#68ccdc" fill-rule="evenodd" d="M-8 -8l376 0 0 196-376 0z"/><path fill="#84d4e2" fill-rule="evenodd" d="M-8 -8l376 0 0 78-76 0-6 2-9 8-7 2-54 1-56-1-6-1-10-9-6-2-146 0zM184 98l90 0 8 3 3 3 5 7 3 3 75 0 0 74-376 0 0-74 170 0 2-1 8-11 4-3z"/><path fill="#98dce4" fill-rule="evenodd" d="M-8 -8l376 0 0 69-86 0-3 1-2 12-5 4-8 1-48 0-50 0-8-1-5-4-2-12-5-1-154 0zM184 102l90 0 6 3 2 3 1 6 4 2 81 0 0 72-376 0 0-72 174 0 6-2 1-6 3-4z"/><path fill="#74c6a0" fill-rule="evenodd" d="M-8 -8l376 0 0 67-86 0-6 3-1 10-1 2-4 2-54 1-56-1-4-2-1-2-1-10-4-2-4-1-154 0zM178 106l10-2 84 1 5 1 2 2 1 6 2 2 4 1 82 1 0 70-376 0 0-70 174 0 6-2 2-1 2-7z"/><path fill="#5cb44c" fill-rule="evenodd" d="M-8 -8l376 0 0 65-86 1-4 1-4 3-1 8-1 2-4 2-52 1-54-1-4-2-1-2-1-8-4-3-4-1-156-1zM181 108l9-1 80 0 4 1 2 1 1 5 2 2 7 2 82 1 0 69-376 0 0-69 176-1 8-2 2-2 1-4z"/><path fill="#6cbc40" fill-rule="evenodd" d="M-8 -8l376 0 0 64-86 0-6 2-6 4 0 7-4 2-50 2-52-2-4-2 0-7-6-4-6-2-156 0zM182 115l80-2 10 1 8 4 8 1 80 0 0 69-376 0 0-69 174 0 6 0z"/><path fill="#84c440" fill-rule="evenodd" d="M-8 -8l376 0 0 63-88 0-5 1-5 4-4 1-27 1 10 2 1 2-4 2-13 2-17 1-19-1-13-2-4-2 1-2 10-2-27-1-4-1-5-4-5-1-158 0zM164 120l24-4 78 0 8 1 14 3 80 0 0 68-376 0 0-68z"/><path fill="#a0ce40" fill-rule="evenodd" d="M-8 -8l376 0 0 62-86 0-18 3-48 1-50-1-20-3-154 0zM202 64l18-1 8 1 4 2-8 2-16 0-10-2zM185 118l83 0 20 3 80 0 0 67-376 0 0-67 174 0z"/><path fill="#b8d640" fill-rule="evenodd" d="M-8 -8l376 0 0 61-84 0-20 2-48 0-50 0-20-2-154 0zM164 121l22-2 80 0 22 2 80 0 0 67-376 0 0-67z"/><path fill="#c6d840" fill-rule="evenodd" d="M-8 -8l376 0 0 61-152 1-224-1zM182 120l86 0 20 2 80 0 0 66-376 0 0-66 172 0z"/><path fill="#d4de42" fill-rule="evenodd" d="M-8 -8l376 0 0 60-376 0zM171 122l13-1 80-1 24 2 80 0 0 37-376 0 0-37z"/><path fill="#e2e244" fill-rule="evenodd" d="M-8 -8l376 0 0 60-376 0zM175 122l11-1 80 0 22 2 80 0 0 33-376 0 0-33z"/><path fill="#eedc40" fill-rule="evenodd" d="M-8 -8l376 0 0 59-376 0zM180 122l88 0 20 1 80 0 0 31-376 0 0-31 172 0z"/><path fill="#f6cc3c" fill-rule="evenodd" d="M-8 -8l376 0 0 58-376 0zM-8 124l174 0 26-2 176 2 0 28-376 0z"/><path fill="#f6b236" fill-rule="evenodd" d="M-8 -8l376 0 0 57-376 0zM172 124l14-1 78 0 24 1 80 0 0 27-128 1-248-1 0-27z"/><path fill="#f69432" fill-rule="evenodd" d="M-8 -8l376 0 0 57-376 0zM164 125l104-1 20 1 80 0 0 24-128 2-86-2-162 0 0-24z"/><path fill="#f4782c" fill-rule="evenodd" d="M-8 -8l376 0 0 56-376 0zM-8 126l174-1 24-1 178 1 0 22-50 0-78 3-88-3-160 0z"/><path fill="#f25c28" fill-rule="evenodd" d="M-8 -8l376 0 0 55-376 0zM-8 126l172 0 30-1 174 1 0 19-54 1-74 3-84-4-164 0z"/><path fill="#ee4424" fill-rule="evenodd" d="M-8 -8l376 0 0 54-376 0zM-8 127l376 0 0 17-56 0-48 4-24 0-22 0-52-4-174 0z"/><path fill="#e92a22" fill-rule="evenodd" d="M-8 -8l376 0 0 53-376 0zM-8 143l0-16 172 0 24-1 180 1 0 16-68 0-38 4-22 0-72-4z"/><path fill="#e41e20" fill-rule="evenodd" d="M-8 -8l376 0 0 52-376 0zM-8 128l376 0 0 14-72 1-56 3-68-4-180 0z"/><clipPath id="m40"><path d="M-8 -8l376 0 0 51-376 0zM178 128l190 1 0 12-64 1-64 4-74-5-174 0 0-12 172 0z"/></clipPath><path fill="#fff" d="M-8 -8l376 0 0 51-376 0zM178 128l190 1 0 12-64 1-64 4-74-5-174 0 0-12 172 0z"/><use href="#cst" fill="#d3d3d3" clip-path="url(#m40)"/><use href="#cst" fill="none" stroke="#000" stroke-width="2.1" stroke-linejoin="round"/></svg><rect x="91.29" y="460.58" width="17.11" height="6.52" fill="none" stroke="#000" stroke-width="1.8"/><rect x="114.67" y="463.17" width="33.89" height="8.25" fill="none" stroke="#000" stroke-width="1.8" stroke-dasharray="7.7 2.4" stroke-dashoffset="3"/><rect x="38.00" y="429.30" width="152.50" height="76.20" fill="none" stroke="#000" stroke-width="1.05"/><path d="M38.00 429.30v-3.0M38.00 505.50v3.0M42.24 429.30v-1.6M42.24 505.50v1.6M46.47 429.30v-1.6M46.47 505.50v1.6M50.71 429.30v-1.6M50.71 505.50v1.6M54.94 429.30v-1.6M54.94 505.50v1.6M59.18 429.30v-1.6M59.18 505.50v1.6M63.42 429.30v-3.0M63.42 505.50v3.0M67.65 429.30v-1.6M67.65 505.50v1.6M71.89 429.30v-1.6M71.89 505.50v1.6M76.12 429.30v-1.6M76.12 505.50v1.6M80.36 429.30v-1.6M80.36 505.50v1.6M84.60 429.30v-1.6M84.60 505.50v1.6M88.83 429.30v-3.0M88.83 505.50v3.0M93.07 429.30v-1.6M93.07 505.50v1.6M97.31 429.30v-1.6M97.31 505.50v1.6M101.54 429.30v-1.6M101.54 505.50v1.6M105.78 429.30v-1.6M105.78 505.50v1.6M110.01 429.30v-1.6M110.01 505.50v1.6M114.25 429.30v-3.0M114.25 505.50v3.0M118.49 429.30v-1.6M118.49 505.50v1.6M122.72 429.30v-1.6M122.72 505.50v1.6M126.96 429.30v-1.6M126.96 505.50v1.6M131.19 429.30v-1.6M131.19 505.50v1.6M135.43 429.30v-1.6M135.43 505.50v1.6M139.67 429.30v-3.0M139.67 505.50v3.0M143.90 429.30v-1.6M143.90 505.50v1.6M148.14 429.30v-1.6M148.14 505.50v1.6M152.38 429.30v-1.6M152.38 505.50v1.6M156.61 429.30v-1.6M156.61 505.50v1.6M160.85 429.30v-1.6M160.85 505.50v1.6M165.08 429.30v-3.0M165.08 505.50v3.0M169.32 429.30v-1.6M169.32 505.50v1.6M173.56 429.30v-1.6M173.56 505.50v1.6M177.79 429.30v-1.6M177.79 505.50v1.6M182.03 429.30v-1.6M182.03 505.50v1.6M186.26 429.30v-1.6M186.26 505.50v1.6M190.50 429.30v-3.0M190.50 505.50v3.0M38.00 505.50h-3.0M190.50 505.50h3.0M38.00 501.27h-1.6M190.50 501.27h1.6M38.00 497.03h-1.6M190.50 497.03h1.6M38.00 492.80h-3.0M190.50 492.80h3.0M38.00 488.57h-1.6M190.50 488.57h1.6M38.00 484.33h-1.6M190.50 484.33h1.6M38.00 480.10h-3.0M190.50 480.10h3.0M38.00 475.87h-1.6M190.50 475.87h1.6M38.00 471.63h-1.6M190.50 471.63h1.6M38.00 467.40h-3.0M190.50 467.40h3.0M38.00 463.17h-1.6M190.50 463.17h1.6M38.00 458.93h-1.6M190.50 458.93h1.6M38.00 454.70h-3.0M190.50 454.70h3.0M38.00 450.47h-1.6M190.50 450.47h1.6M38.00 446.23h-1.6M190.50 446.23h1.6M38.00 442.00h-3.0M190.50 442.00h3.0M38.00 437.77h-1.6M190.50 437.77h1.6M38.00 433.53h-1.6M190.50 433.53h1.6M38.00 429.30h-3.0M190.50 429.30h3.0" stroke="#000" stroke-width="0.85" fill="none"/><g font-size="5.2" fill="#000" stroke="#000" stroke-width="0.22"><text x="31.80" y="443.90" text-anchor="end">60N</text><text x="31.80" y="456.60" text-anchor="end">30N</text><text x="31.80" y="469.30" text-anchor="end">0</text><text x="31.80" y="482.00" text-anchor="end">30S</text><text x="31.80" y="494.70" text-anchor="end">60S</text><text x="38.00" y="515.90" text-anchor="middle">0</text><text x="63.42" y="515.90" text-anchor="middle">60E</text><text x="88.83" y="515.90" text-anchor="middle">120E</text><text x="114.25" y="515.90" text-anchor="middle">180</text><text x="139.67" y="515.90" text-anchor="middle">120W</text><text x="165.08" y="515.90" text-anchor="middle">60W</text><text x="190.50" y="515.90" text-anchor="middle">0</text></g><text x="34.80" y="422.00" font-size="6.2" fill="#000" stroke="#000" stroke-width="0.25">(m) 200hPa</text><svg x="211.30" y="429.30" width="152.50" height="76.20" viewBox="0 0 360 180" preserveAspectRatio="none"><rect x="-10" y="-10" width="380" height="200" fill="#2058a8"/><path fill="#2478c8" fill-rule="evenodd" d="M-8 -8l376 0 0 196-376 0z"/><path fill="#2ca0e0" fill-rule="evenodd" d="M-8 -8l376 0 0 196-376 0z"/><path fill="#4ec0dc" fill-rule="evenodd" d="M-8 -8l376 0 0 196-376 0z"/><path fill="#68ccdc" fill-rule="evenodd" d="M-8 -8l376 0 0 196-376 0z"/><path fill="#84d4e2" fill-rule="evenodd" d="M-8 -8l376 0 0 196-376 0z"/><path fill="#98dce4" fill-rule="evenodd" d="M-8 -8l376 0 0 196-376 0z"/><path fill="#74c6a0" fill-rule="evenodd" d="M-8 -8l376 0 0 196-376 0z"/><path fill="#5cb44c" fill-rule="evenodd" d="M-8 -8l376 0 0 196-376 0z"/><path fill="#6cbc40" fill-rule="evenodd" d="M-8 -8l376 0 0 196-376 0zM92 86l-14 2-9 2 13 4 18 1 17-1 11-4-16-4z"/><path fill="#84c440" fill-rule="evenodd" d="M-8 -8l376 0 0 196-376 0zM76 80l-26 4-20 6 20 6 14 3 12 1 24 1 24-1 12-2 12-4 7-4-11-6-16-3-22-1z"/><path fill="#a0ce40" fill-rule="evenodd" d="M-8 -8l376 0 0 86-24 2-8 10 10 6 22 3 0 89-376 0 0-91 25 3 49 3 52 1 44-4 8-4 8-6-7-10-31-3-54-1-94 3z"/><path fill="#b8d640" fill-rule="evenodd" d="M-8 -8l376 0 0 81-34 1-10 3-6 3 4 4-1 6 4 10 1 1 12 3 30 1 0 83-376 0 0-84 108 4 38-1 34-3 23-4 1-6 4-4 0-2 0-2 4-4 5-2-11-3-14-2-42-3-52 0-98 1z"/><path fill="#c6d840" fill-rule="evenodd" d="M-8 -8l376 0 0 76-128 2-116-2-132 0zM291 86l9-2 7 2 6 8 1 6 6 5 6 3 12 2 30 0 0 78-376 0 0-78 130 2 62-3 52-4 30 0 7-1 7-4-2-4 1-2zM237 88l3 0 4 0-4 1zM229 92l7-2 8 0 8 2 2 2-6 2-12 1-8-3z"/><path fill="#d4de42" fill-rule="evenodd" d="M-8 -8l376 0 0 73-376 0zM293 102l5-2 4 1 12 11 8 3 14 1 32 1 0 71-376 0 0-71 146 0 94-3 42 0 9-2z"/><path fill="#e2e244" fill-rule="evenodd" d="M-8 -8l376 0 0 70-250 0-26 1-24-1-76 0zM182 121l44-5 24 0 72 6 46 1 0 65-376 0 0-66 172 0z"/><path fill="#eedc40" fill-rule="evenodd" d="M-8 -8l376 0 0 65-148 1-48 1-52-1-28 3-26-3-74 0zM231 118l17 0 18 1 13 3 9 3 8 1 72 2 0 60-376 0 0-61 188 0 13-1 9-4 8-2z"/><path fill="#f6cc3c" fill-rule="evenodd" d="M-8 -8l376 0 0 60-144 1-52 3-58-3-6 1-6 4-10 2-10-2-5-4-5-1-80 0zM225 120l29 0 11 2 2 2-11 3-16 1-16-1-10-3 1-2zM-8 134l376-1 0 55-376 0z"/><path fill="#f6b236" fill-rule="evenodd" d="M-8 -8l376 0 0 55-144 0-12 1-24 5-16 1-16-1-24-5-12-1-128 0zM88 54l6 0 5 2-3 2-8 0-3-2zM227 122l13-1 13 1-2 2-11 1-11-1zM-8 140l376 0 0 48-376 0z"/><path fill="#f69432" fill-rule="evenodd" d="M-8 -8l376 0 0 16-15 2-5 2-2 2 1 2 4 2 17 3 0 19-94 2-56-1-10 2-18 7-18 2-18-2-18-7-8-2-136-1 0-22 18 3 20 0 18-3 5-2 1-2-2-2-5-2-19-2-20 0-16 2zM-8 146l226-2 150 1 0 43-376 0z"/><path fill="#f4782c" fill-rule="evenodd" d="M81 20l19-1 20 1 13 4 10 6-27 6-20 1-22-1-22-6 2-2 9-4zM253 22l19-1 20 2 14 2 10 5-24 6-22 1-22-1-24-6 10-5zM163 30l17 0 10 5 6 5-2 4-3 2-11 4-14 0-13-4-5-4 0-3 4-4zM186 148l26-1 26 0 22 2 34 7 74 0 0 8-310 0-1-2 0-2 3-4 86 0zM-8 156l33 0 2 4 0 2-1 2-34 0z"/><path fill="#f25c28" fill-rule="evenodd" d="M84 26l10-1 10 1 8 2 2 2-6 2-12 1-12 0-8-3 2-2zM167 38l13 1 5 1 1 2-1 2-3 2-8 2-10-1-5-3-1-2 1-2zM196 150l16-1 16 0 16 1 6 2-1 2-3 1-18 2-22-1-15-2-1-2z"/><path fill="#ee4424" fill-rule="evenodd" d="M208 152l12-1 12 1-6 2-6 0-6 0z"/><use href="#cst" fill="none" stroke="#000" stroke-width="2.1" stroke-linejoin="round"/></svg><rect x="264.59" y="460.58" width="17.11" height="6.52" fill="none" stroke="#000" stroke-width="1.8"/><rect x="287.97" y="463.17" width="33.89" height="8.25" fill="none" stroke="#000" stroke-width="1.8" stroke-dasharray="7.7 2.4" stroke-dashoffset="3"/><rect x="211.30" y="429.30" width="152.50" height="76.20" fill="none" stroke="#000" stroke-width="1.05"/><path d="M211.30 429.30v-3.0M211.30 505.50v3.0M215.54 429.30v-1.6M215.54 505.50v1.6M219.77 429.30v-1.6M219.77 505.50v1.6M224.01 429.30v-1.6M224.01 505.50v1.6M228.24 429.30v-1.6M228.24 505.50v1.6M232.48 429.30v-1.6M232.48 505.50v1.6M236.72 429.30v-3.0M236.72 505.50v3.0M240.95 429.30v-1.6M240.95 505.50v1.6M245.19 429.30v-1.6M245.19 505.50v1.6M249.43 429.30v-1.6M249.43 505.50v1.6M253.66 429.30v-1.6M253.66 505.50v1.6M257.90 429.30v-1.6M257.90 505.50v1.6M262.13 429.30v-3.0M262.13 505.50v3.0M266.37 429.30v-1.6M266.37 505.50v1.6M270.61 429.30v-1.6M270.61 505.50v1.6M274.84 429.30v-1.6M274.84 505.50v1.6M279.08 429.30v-1.6M279.08 505.50v1.6M283.31 429.30v-1.6M283.31 505.50v1.6M287.55 429.30v-3.0M287.55 505.50v3.0M291.79 429.30v-1.6M291.79 505.50v1.6M296.02 429.30v-1.6M296.02 505.50v1.6M300.26 429.30v-1.6M300.26 505.50v1.6M304.49 429.30v-1.6M304.49 505.50v1.6M308.73 429.30v-1.6M308.73 505.50v1.6M312.97 429.30v-3.0M312.97 505.50v3.0M317.20 429.30v-1.6M317.20 505.50v1.6M321.44 429.30v-1.6M321.44 505.50v1.6M325.68 429.30v-1.6M325.68 505.50v1.6M329.91 429.30v-1.6M329.91 505.50v1.6M334.15 429.30v-1.6M334.15 505.50v1.6M338.38 429.30v-3.0M338.38 505.50v3.0M342.62 429.30v-1.6M342.62 505.50v1.6M346.86 429.30v-1.6M346.86 505.50v1.6M351.09 429.30v-1.6M351.09 505.50v1.6M355.33 429.30v-1.6M355.33 505.50v1.6M359.56 429.30v-1.6M359.56 505.50v1.6M363.80 429.30v-3.0M363.80 505.50v3.0M211.30 505.50h-3.0M363.80 505.50h3.0M211.30 501.27h-1.6M363.80 501.27h1.6M211.30 497.03h-1.6M363.80 497.03h1.6M211.30 492.80h-3.0M363.80 492.80h3.0M211.30 488.57h-1.6M363.80 488.57h1.6M211.30 484.33h-1.6M363.80 484.33h1.6M211.30 480.10h-3.0M363.80 480.10h3.0M211.30 475.87h-1.6M363.80 475.87h1.6M211.30 471.63h-1.6M363.80 471.63h1.6M211.30 467.40h-3.0M363.80 467.40h3.0M211.30 463.17h-1.6M363.80 463.17h1.6M211.30 458.93h-1.6M363.80 458.93h1.6M211.30 454.70h-3.0M363.80 454.70h3.0M211.30 450.47h-1.6M363.80 450.47h1.6M211.30 446.23h-1.6M363.80 446.23h1.6M211.30 442.00h-3.0M363.80 442.00h3.0M211.30 437.77h-1.6M363.80 437.77h1.6M211.30 433.53h-1.6M363.80 433.53h1.6M211.30 429.30h-3.0M363.80 429.30h3.0" stroke="#000" stroke-width="0.85" fill="none"/><g font-size="5.2" fill="#000" stroke="#000" stroke-width="0.22"><text x="205.10" y="443.90" text-anchor="end">60N</text><text x="205.10" y="456.60" text-anchor="end">30N</text><text x="205.10" y="469.30" text-anchor="end">0</text><text x="205.10" y="482.00" text-anchor="end">30S</text><text x="205.10" y="494.70" text-anchor="end">60S</text><text x="211.30" y="515.90" text-anchor="middle">0</text><text x="236.72" y="515.90" text-anchor="middle">60E</text><text x="262.13" y="515.90" text-anchor="middle">120E</text><text x="287.55" y="515.90" text-anchor="middle">180</text><text x="312.97" y="515.90" text-anchor="middle">120W</text><text x="338.38" y="515.90" text-anchor="middle">60W</text><text x="363.80" y="515.90" text-anchor="middle">0</text></g><text x="211.00" y="422.00" font-size="6.2" fill="#000" stroke="#000" stroke-width="0.25">(n) 500hPa</text><svg x="385.40" y="429.30" width="152.50" height="76.20" viewBox="0 0 360 180" preserveAspectRatio="none"><rect x="-10" y="-10" width="380" height="200" fill="#2058a8"/><path fill="#2478c8" fill-rule="evenodd" d="M-8 -8l376 0 0 196-376 0z"/><path fill="#2ca0e0" fill-rule="evenodd" d="M-8 -8l376 0 0 196-376 0z"/><path fill="#4ec0dc" fill-rule="evenodd" d="M-8 -8l376 0 0 196-376 0z"/><path fill="#68ccdc" fill-rule="evenodd" d="M-8 -8l376 0 0 196-376 0z"/><path fill="#84d4e2" fill-rule="evenodd" d="M-8 -8l376 0 0 196-376 0z"/><path fill="#98dce4" fill-rule="evenodd" d="M-8 -8l376 0 0 196-376 0z"/><path fill="#74c6a0" fill-rule="evenodd" d="M-8 -8l376 0 0 196-376 0z"/><path fill="#5cb44c" fill-rule="evenodd" d="M-8 -8l376 0 0 196-376 0z"/><path fill="#6cbc40" fill-rule="evenodd" d="M-8 -8l376 0 0 196-376 0z"/><path fill="#84c440" fill-rule="evenodd" d="M-8 -8l376 0 0 196-376 0z"/><path fill="#a0ce40" fill-rule="evenodd" d="M-8 -8l376 0 0 196-376 0z"/><path fill="#b8d640" fill-rule="evenodd" d="M-8 -8l376 0 0 88-2 2 2 1 0 105-376 0 0-104 2-2-2-4zM24 81l-2 3 2 4 3-2 1-2-2-2zM38 80l-2 2 2 1 1-1zM358 80l-2 0-2 2 4 1 1-1zM24 96l-1 2 1 1 5-1-1-2z"/><path fill="#c6d840" fill-rule="evenodd" d="M-8 -8l29 0 1 1 1-1 20 0 1 1 1-1 19 0 2 1 1-1 8 0 1 1 1-1 8 0 1 1 1-1 55 0 0 1 35-1 3 1 1-1 24 0 1 1 0-1 34 0 0 1 2-1 39 0 1 1 0-1 11 0 1 1 1-1 32 0 1 1 0-1 11 0 1 2 2-2 26 0 0 84-4 2-16-1-1 1 3 4 4 2 4 0 4-3 2 0 4 3 0 104-376 0 0-104 12-3 4 2 3 3 0 6 4 4-1 10 2 3 10 3 6-2 8-6-3-10 8-8 2-4-9-5-6 1-14-1-12 2-12-1-2-2zM100 90l2 4 2 1 0-3-2-2zM110 98l2 0 2 0-2 0zM116 85l-4 5 1 2 3 0 2-4zM138 92l-1 2 5 3 2 0 1-1zM146 80l-4 2 4 2 5-2zM286 82l-1 6 2 6-1 2-2 2 0 2 3 4 9 4 8-3 2 1 4 0 4 3 2 0 2-1 4-10-1-2-11-4-2-4-6-2-4-4-10-1z"/><path fill="#d4de42" fill-rule="evenodd" d="M-8 -2l0-5 2 2 2-1 1-2 5 0 1 2-5 3zM7 -8l5 0 1 6 3 4 10-2 8 2 6 0 3-2-3-3-6 1-1-2 0-4 3 0 2 2 1-2 4 0 1 3 6 1 5-4 8 4-1 4 2 1 2 0 2-5 0 2 8 5 1-3-3-2-3-6 4 0-1 2 2 2 2-1 2 4 10-5 0-2 3 0 3 8 2-4 2 0 2 2 1-2 0-4 12 0 1 3 2-3 4 0 0 1 1-1 6 0 1 1 6-1 2 7 2 1 4-4 4-2-1-2 2 0 0 2 4 2-1 2-2 2 0 2 8-2 4 1 1-1-4-4 2-4 2 0 1 2 2 0 2-2 2 2 2-2 3 0 1 6-3 2 0 4 3 2 1 0 1-2-1-2 1-4 4-3 2 1 0 4 6 3 10-2 2-5-2-4 4 0 2 4-2 2 0 2 6 3 4-1 4-2 1-4 5-4 4 0 0 1 1-1 4 0-1 4-4 1-2 2 0 6 4-4 8 0 4 1 3-2 1-2 2-1 6 4 2-3-6-6 19 0-1 2-2 0-2 6 1 2 3 0 6-3 8 4 4-7 3 0 0-4 3 0 2 4 2-2 2-1 0-1 3 0 1 2 3 2-1 3-2 2-7-1 1 2-2 2 6 1 6-2 4-3 2 0 2 2 4-1 4-5 8 5 2 0-3-9 4 0 1 2 1-2 4 0 0 4 1 1 4-3 10 9 14-8 0 7-1 0 1 1 0 72-22 1-1 2 5 6 8 1 6-2 4 2 0 103-376 0 0-103 12-2 4 2 1 1 1 6 3 4 0 10 1 3 3 3 1 4 6 2 8-4 4-6 4-2 1-6-2-2 0-4 8-8 1-4 0-2-4-1-6-3-34 0-12 0 0-74 6-2 4 2 2-2 0-4 2-1zM78 76l-1 2 1 1 0-1zM84 94l-6 4 8 1 2-1-2-3zM106 76l-1 2 1 1 2-1zM112 96l-5 2 3 2 4-1 1-1zM118 0l-2 0-1 2 1 3 5 1 1-2-1-2zM126 -4l-2 4 2 4 1-4zM132 90l-2 2 8 3 2 3 7 0 0-2-3-3-6-3zM142 78l-6 4 2 4 10 0 7-2 2-2 0-2-5-2zM288 79l-4 3 0 4-2 4 0 9 4 6 6 5 8 1 4 2 12-1 2-2 2-2 4-10-1-2-3-2-10-3-2-5-6-2-4-4zM322 1l-1 1 0 2 1 1 2-3zM48 103l-2 3-1 6 1 1 2-2 2-5 0-2zM100 87l-1 3 1 6-1 2 1 1 4-1 2-4-1-2zM116 83l-5 5-1 2 1 2 3 1 4 0 2 2 2 0 1-1-4-6-1-4zM124 82l2 1 2-1-2-1zM17 -8l3 0 0 2-2 1zM95 -8l2 0-1 3-1-1zM139 -8l2 0-1 2zM207 -8l4 0 0 4-3 1-2-1zM213 -8l1 0 2 0-2 2zM244 -8l2 0 1 0-1 1zM273 -8l1 0 6 0-2 3-4-1zM283 -8l4 0 0 2-1 2-2-1zM314 -5l-2-3 5 0zM345 -8l1 0 2 0-2 2zM352 -8l6 0 0 2-2 2-2-1zM361 -8l2 0-1 3-1-1zM310 -2l2-1 1 1-1 2-2 0z"/><path fill="#e2e244" fill-rule="evenodd" d="M8 -8l2 0 1 0-1 1zM106 -8l2 0 2 0-2 2zM201 -8l1 0 1 0-1 1zM261 -8l1 0 1 0-1 2zM353 -8l1 0 3 0-1 2zM368 1l-2-1 2-1zM343 2l1 0 2 4 18 0 4 3 0 66-22 0-2 1-1 2 7 7 8 1 6-2 4 1 0 103-376 0 0-103 6 0 6-2 4 3 1 6 4 4-1 10 1 2 2 4 1 4 6 6 2 0 6-4 6-9 5-3 1-6-2-2 0-4 8-8 2-6-12-5-46 0 0-68 6-1 8 1 5-1 1-2 1 2 3 1 10-1 6 2 8-2 16 1 4 1 8-2 10 2 6-2 10 1 16-1 10 2 14-1 4 1 26-1 14 1 10-2 10 2 8-3 10 2 22-1 16 1 6-1 32 2 14 0 4-2 24 1 9-1zM46 104l-3 8 1 2 2 0 2-1 3-7-1-3-2-1zM76 75l-1 3 3 3 2-5zM100 82l-2 4 0 6-2 2-6 0-3-2-3-1-16 4-4-1-3 2-1 4 2 2 8 0 8 2 6-2 4 1 4-1 6 1 16-2 4-3-1-2 5 1 3-3-5-7-1-3-3-2-3 2-4 6 3 4-4 1-5-7 0-4zM102 76l4 5 3-3-1-2zM140 76l-8 4-8 0-1 2 1 2 4 2-2 4 2 4 8 1 4 4 8 0 2-3-8-6 16-3 3-3 1-2-1-2-5-3zM276 76l-5 0 5 4zM288 78l-6 4 1 4-3 6 1 8 4 6 4 2 1 3 2 1 8 2 6 5 3-1 3-4 6-2 3-4 4-10-1-2-4-3-10-3-2-5-4-1-6-5zM108 4l2-1 0 2z"/><path fill="#eedc40" fill-rule="evenodd" d="M40 8l4 1 10-1 6 2 12-2 6 2 6-1 20 1 30-1 46 1 8-2 8 2 12-2 4 1 4 1 6-1 18-1 8 1 12-1 22 2 22 0 6-2 10 1 24-1 20 0 2 1 2 1 0 65-24 0-2 3 8 8 8 1 4-2 6 1 0 7-1 1 1 2 0 3-1 1 1 3 0 85-376 0 0-89 1-1-1-1 0-11 4 1 8-2 4 3 0 4 4 6-1 8 3 6 1 4 7 7 6-1 4-4 4-8 6-3 2 1-1 6 3 1 2-1 3-8 1-5 6 3 12 0 4 3 4 0 6-2 4 1 10 0 16-4 12 1 2-1 2-3 1 5-1 4 2 2 2-1 1-1-2-4 1-2 0-4 2 0 6 3 6-1 4-4-2-4-2 0 16-4 4-4 3 0-3-1-6-6-8-3-6 1-8-2-6 4-6 1-6-3-1 1 1 4-1 2-1 1-4-2-5 3-3 6-2 0-2-2-1-6-3-2-3 4-1 5-2 0-4-1-12 3-12-1-14 4-4 0-4 5-2-1-1-2 0-2 8-8 3-6-4-2-2-3-4 0-4-1-46 1 0-64 2-2 4-1 6 2 8-2 6 1 8-1 6 2zM76 74l-2 2 0 2 4 5 2 1 1-2 0-6-3-2zM100 75l-1 1 5 5 2 1 3-2 0-4-1-1zM276 75l-7 1 7 7 2 0 2-1 2 2 0 2-3 4 0 6 5 10 4 2 2 5 2 2 8 1 4 6 4-2 5-6 6-2 3-4 3-10-1-3-12-5-4-6-4-1-6-5-6 0-4-1-8 5zM122 88l0-3 3 3-1 2z"/><path fill="#f6cc3c" fill-rule="evenodd" d="M237 10l9 1 14-1 22 1 22 0 6-1 10 2 10-2 6 1 26-1 6 1 0 63-10-1-14 0-4 6-4 0-2 1 5 12 5 4 2 1 2 0 4-3 4 1 6-1 4 4 2-1 0 1-2 0-2 2 1 2 3 2 0 84-376 0 0-71 1-1-1-5 2-3-1-2 1-2-2-1 0-3 4-1 2 3 4 2 3-2-3 0 0-2 2-1 2-3-4-8 1-2 3 2 0 6 4 2 1 2-1 8 0 2 3 4 1 4 6 8 2 0 7-2 9-12 2 0 2 4 2 2 4-1 6-10 2 3 4 1 4-1 8 3 8 0 4-3 18 0 6-2 2 1 0 3 2 2 4 2 8-2 14 3 6-2 4 0 1-3-3-2 0-2 4-1 4 2 2-1 4-2 2-4 2 0 5 2-3 2 1 2 11 4 2-2-2-2-2 0-2-3-4-2-1-5-3-2 0-2 6-2 6 0 12-10-1-2-5-1-8 2-4-2-4 1-4-4-4 0-6-3-4 1-10-2-2 1-8 5-2 0-6-2-10 4-1-2-3-2-6-1-2 0-4 4-4-1-8 2 0-2-4-3-4-1-4 0-1 2 1 4-2 6-4-5-3 1-3 4-6-4-1-2 0-4-3 1-4-2-4 1-4-1-8 1-10-1-6 1-18-1-4 1 0-61 2-2 2 0 8 1 22-1 6 1 8-2 4 2 10-1 6 1 12-2 8 2 14-1 12 1 8-2 66 2 28-1 8 1 8-2zM254 102l-1 2 0 2 3 1 4 0 3-3-1-2-2-2zM258 80l-1 2 1 2 6-2 4 2 1-2-3-2-6-1zM270 74l-3 2 3 3 2 1 2 4 4 1 2 0 0 1-2 4 0 6 1 4 3 6 6 4 2 6 9 2 3 6 4 0 6-8 2-2 4 0 5-6 1-5 3-5 0-2-5-4 0-4-2 2-4 0-4-2-4-5-4-1-6-5-6 1-4-2-8 3 0-3-4-3zM316 78l0 2 4 2 7 8 3 2 2-2-5-4-1-4-4 0-4-5zM334 100l2 7 8-3-8-6zM354 98l-1 2 2 4 0 4 1 1 2-1 0-2-1-2 1-4zM72 65l-2 3-2 1-2-1-1 2 1 5 4-1-1-2 1-1 4 0 3-3-3-3zM84 68l-1 2 1 3 2 1 2-4-1-2zM196 100l-1 2 2 4-2 4 3 0 8-2 0-2-5-2-1-4-2-1zM214 105l-1 1-1 2 3 0 1-2zM236 77l-4 3 2 3 4-2 2-3 4 1 1-1-1-1-4 1zM242 102l-2 1 0 2 2 1 4-2 0-2zM343 84l1-2 1 2-1 1zM-8 92l0-3 2 1zM-8 97l0-3 2 2zM153 98l3-1 2 1 0 2-2 1-4-1z"/><path fill="#f6b236" fill-rule="evenodd" d="M228 12l12 0 6 1 14-1 16 1 28 0 6-1 12 2 8-3 6 3 4-1 6 1 6-2 16 0 0 53-2 3 0 2 2 1 0 3-6-2-5-4-9 1-2-1-8 5-4 0-2 1-4-2-2-2-6 1-2-2-8-3-2 0-6 6-4 0-6 4-6-5-6 0-4-3-10 3-4-1-4 4-6-4-2 0-2 3-2 0-4-4-4 0-8 3-4-1-6 2-4-1-6 1 0-3-2-1-4 1-4 6-8-2-2-1-4 1-3-2-3-3-2-1-4 3-10-1-4 2-4-2-18-3-7 3-3 3-12-2-4 2-6-1-8-3-6-5-12 0-8-3-8 1-2 3-2 1-4-2-6 5-8 2-3-1-1-3-2 0-6 5-8-4-6 2-6-1-6 2-8-3-4 5 0-59 2-1 16 1 10-1 14 1 6-1 4 1 10-1 14 0 6-1 6 1 8 1 6-1 14 1 6-2 22 0 8 1 12-1 16 2 12-1 6 1 4-1 14-1 8 2zM242 84l10 3 10-1 6 2 7 0 1 2 0 6-2 2-6-1-4 1-4-1-10 3-12-2-10 2-10-1-6-2-10 1-6-5-4 1-6 0-2-2 2-3 4 0 4-3 8 2 8 0 4-4 4 1 6-1 12 2zM326 102l4 0 1 2-1 2-4-2zM-8 112l6-2 8 4 4-2 9 12 3 1 8-3 8-10 6 6 14-6 12 2 6-1 4 2 4-1 4 2 3-4 5-1 2 1 4 4 6-3 10 7 6 0 4-3 4 0 8 2 2-1 2 2 4 1 2 0 4-4 4 1 2-2 0-2 8-3 14 3 4-2 6 0 4 3 4-2 6 2 4-3 2 0 8 5 2 0 2-3 6 1 4-3 10 1 4 2 8-3 6 5 3-1 3-4 2 0 16 0 2 1 2 6 7 1 3 5 2 1 5-2 7-8 10 1 6-4 10 0 6 5 6-5 10-1 2 3 4 0 0 2-2 1 2 1 0 69-113 0-1-1-1 1-230 0-1-1-1 1-29 0 0-68 1 0-1-2 2-2-2-1zM290 125l-2 3 2 1 2-1z"/><path fill="#f69432" fill-rule="evenodd" d="M134 14l10 2 12-2 16 2 10-1 8 2 4-2 6 1 6-1 10 1 14-2 22 1 8-1 12 1 20-1 6 1 14-1 10 1 8-2 6 3 16-2 14 1 2-2 0 2-1 1 1 1 0 45-18 3-6-5-8 0-4 0-4 2-12 2-8-2-12 2-8 0-4-2-4 1-6-2-6 4-8-2-2 1-2 2-6-2-2-4-2-1-16 8-10-6-8 3-10 1-2 4-2 0-6-2-8 0-6-2-18 1-4 1-16-3-8 0-4-1-2 1-2 4-2 1-14 1-8-3-6-7-8 1-6-3-10 1-6-1-4 3-6-2-6 1-6 3-4-3-4 4-8-1-2-1-8 4-2-1-4-3-6 2-8-2-4 2 2 2-2 3 0-54 14 0 4 1 10-1 14 1 4-1 6 1 10-1 14 1 6-2 6 1 14 0 14 1 6-1zM214 89l8-2 4 1 34 1 4 1 0 2-2 2-4 0-8 4-12-3-8 2-10 0-8-3-2-2zM201 92l5-1 4 1 0 2-6 1-2-1zM-5 120l3-3 4 0 4 2 10 3 4 4 2 0 8-3 6-5 2 2 8 3 3-1 1-2 6-1 4-2 6 1 2 2 2 0 4-3 2 3 4 2 4-2 8 1 4-2 6 1 6-3 2 1 6 7 16-5 8 6 10-2 4-3 2 0 6 1 12-5 4 1 8 3 2 0 4-4 2 2 8 4 12-4 8 3 6-2 4 2 8-3 4-3 6 3 6-2 6 3 8-2 6 3 8-2 2-2 2 0 1 5-2 6 1 2 2 0 3 0 5-3 4 1 8-6 8-3 4 1 6-2 4 2 2-2 2 0 4 2 6 1 12-4 6 5 4-2 0 68-3 0-1-1-1 1-14 0-1-1-1 1-14 0-1-1-1 1-21 0 0-1-1 1-54 0-1-2-2 2-2-1-2 1-34 0 0-1-1 1-95 0-2-1-1 1-5 0 0-1-2 1-47 0-1-1-1 1-17 0-2-2-2 2-8 0 0-1-1 1-6 0-1-2-2 2-11 0-1-1-1 1-15 0 0-63 2-1-2-1 0-2zM174 124l-2 2 4 4 3-2z"/><path fill="#f4782c" fill-rule="evenodd" d="M-8 57l0-42 6 2 8-1 4 2 10-1 6 1 14-1 8 0 6-1 14 2 8-2 20 1 6 0 8 1 10-2 18 0 6 2 12-2 16 2 10-1 8 2 4-2 22 1 14-2 4 1 20 0 6-1 8 1 12-1 16 2 16-3 10 2 8-1 6 1 16-1 6 1 6 0 4 1 0 11-1 1 1 2 0 25-6 1-2-1-2-4-2 0-1 7-3 1-4-1-6-4-8 0-4-2-4 3-2 0-6-3-8 1-4 0-2 0-4 3-6 1-6-4-10 1-4-3-3 9-3 2-4-1-2-1-2-5-6 1-8-3-6 1-3 4-3 1-4-3-10 0-10 2-10 1-14 3-26-2-6 1-8-4-4 1-6-1-10 2-2 5-2 2-14 1-6-2-2-1-4-12-8 3-8-4-4 1-8 1-4-2-4 3-8-1-10 3-4-2-6 1-3-3-3 0-10 4-12-3-8 3zM222 90l3 2-3 2-2-2zM228 92l6-2 2 2-4 2-3 0zM241 92l3 0 1 0-1 1zM251 92l2 0 0 2-4 0zM278 127l8-7 2 1 0 2-3 5 3 3 14-2 12-5 16 1 4 2 4-2 8 0 4 1 8-3 6 3 4-1 0 49-4 1-6-1 1 4-1 2 0 2 6-4 4 1 0 2-2 1 2 1 0 5-3 0-1-3-1 3-11 0-4-3-3 3-12 0-1-3-2 1-4-6-4 2 0 2 5 4-7 0 0-1 0 1-5 0-1-2-1 2-2 0-1-4-2 2 0 2-1 0 1-2-2-2-8-5-2 0-2 1-2 4-1 4-2 0-1-2-4 2-6 0 0-4-2-1-3 1 1 1 2 0 2 3-6 0 0-2-1 2-2 0-3-4 0 4-5 0-1-2-4-2-1-2 1-1 6-1 0-4-2-3-4 3-4 0-4 3-4 0-6-2-1 1 1 5 2 0 4-2 2 1 1 6-8 0-1-2-4-3-2 1 0 4-6 0 0-1 0 1-3 0 3-6-2-4 1-6-3-5-6 0-8 2 0 3 1 2-2 6 2 8-4 0-1-3-1 3-2 0-1-2-4 2-1-2 1-2-2-1-2 1-4-4-4-2-1-4-3-2-2 6-2 0-4-3-2 0-2 0-2-2-3 1 1 4 4-1 2 2 1 5 4 4-7 0 1-4-3-1-1 1 0 4-4 0-1-1-1 1-5 0-2-2-2 2-2-1-3 1-1-2-1 2-2 0-1-2-4 0-2 2-2-2 0 2-4 0 0-2 4-1 2-3 4 2 3-2 0-2-5-2-2-1-9 3 3 6-1 2-4 0-1-2-1 2-2 0-3-3-2 3-3 0 0-4 1-3 4 1 5-2-7-5-2 0-2 5-6-2-2 2 0 2-6-2-10 0-2-2 2-2 3-2-1-3-10 1 0 4-4 2-4 0-3-2-1-4 1-4-3-2-2 2 1 8-2 6-3 1-6-3 0-5-2-2-1 1-1 6 3 8-6 0-4-4-1-4-2-1-8 1-2 3-1-1 0-2 3-4-2-2-8 9-1-3-3-3-2 0-2 3-4-1-4 2-4-4-2-1-2 2-4-3 0-35 1 0-1-4 2-2-2-1 0-3 1 0-1 0 0-5 6 2 10-1 12 1 12-2 4 2 4-1 4 1 6-1 4 1 6-4 2 1 4 3 8-2 18 1 6-2 6 0 4 3 4 1 8-2 4 0 6-3 4 1 5 4 3 1 8-1 5-4 3 0 10 4 4 0 4 3 4-3 0-2 4-2 4 3 2 0 4-2 4 3 8-2 10 1 4-2 4 1 4-2 4 2 6 1 4-1 2-3 2 0 1 1 0 4 3 1 8-6 4 3 2-1 8-1 4 3zM314 173l-7-1-1 2 2 4 8 4 5 0 1-4-4-5zM330 172l-2 2 0 2 2 2 4 0 2 3 2 1 1-2-1-3-2-1 0-2-3-2zM350 176l-1 2 1 2 3-2-1-2zM356 168l-2 2 2 3 2-3zM10 167l-2 5 2 2 4-1 0-3zM12 162l-1 2 1 2 2-2 0-2zM72 164l-2 1-3 1 5 0zM94 174l2 3 1-1-1-3zM110 160l-1 2 0 4-1 1-2-5-2 6 2 2 2 0 2 2 2-2 5-2-1-4 1-4-3-1zM120 172l0 2 2 0 2-2zM132 169l-3 1 2 2 2 0 1-2zM142 174l1 4 3 2 3-4-5-3zM156 169l-4 5 4 2 3-2-1-4zM162 180l-4 2 0 2 2 2 2-1 2-3 0-2zM270 169l-1 7 1 1 1-1zM213 172l5-1 2 1-2 4-4-2zM-6 180l2-2 2 4 1 4 2 2-4 0 1-2zM63 188l1-5 1 3 0 2zM73 184l5 0 10 3 1-1 3-1 5 3-17 0 0-1 0 1-7 0zM215 188l1-5 2 0 0 5zM12 186l2-1 2 1 2-1 1 3-3 0 0-2-1 2-2 0zM32 186l2-1 2 1 1 2-6 0zM55 186l2 0 1 2-5 0zM67 188l1-2 1 2zM104 186l2 0 1 2-4 0zM185 186l3-1 0 3-4 0zM191 188l1-4 1 4zM295 186l3-1 2 3-6 0zM303 188l1-3 2 3zM179 188l1-2 2 2-2 0z"/><path fill="#f25c28" fill-rule="evenodd" d="M4 18l2 0 4 4 6-2 4 2 10-1 2 3 2 1 3-1 2-4 3-1 4 3 6 0 6 4 6 0 6-4 4 0 2-2 10 1 4 2 12-3 2 3 10-1 8 3 2-1-1-2-2-2 1-2 6 0 4 2 6 0 4 3 18-3 6 4 4 1 10-5 12 3 4-2 8 2 4-2 10 2 3-1 1-2 2 1 4 4 2 0 4-1 4-3 4 1 4-2 10 2 6-2 6 2 10-3 4 3 8 0 4 2 13-6 5-1 6 1 4 1 4 0 6 4 20 1 6 1 2-1-1-2 1-2 2 0 2 1 4-2 0 10-2 1 1 2 1 1 0 13-1 0 1 4-1 0 1 0 0 3-10-4-4 1-2 3-2 1-6-4-2 0-4 3-8-2-20 1-4-1-2-2-4 2-6-1-1-2-1-1-6 1-12-2-2 2-1 12-3 3-5-1-3-13-2-1-2 0-4 5-2 0-7-1-3-4-5 2-3 4-2 1-8 0-30 6-20 1-10-2-8 0-6-3-12 0-10 2-3 7-3 1-14 1-4-2-4-14-2-3-4 2-4-2-6 0-6 2-4-2-4-1-10 4-6-1-4 2-6-3-8 3-8-3-4 0-6 4-2 0-3-2-1-4-14 5-2-5-2-1 0-3 1-2-1-1 0-16 2-1-2-1 0-4 8 2zM314 20l-1 2-1 2 2 0 2-2zM-8 56l0-3 2 1zM-8 129l0-3 1 2zM54 131l6-4 4 5 6-2 4 0 8-1 4 2 6-1 4 2 6-2 4 3 14-4 4 2 4 0 4 2 2 0 8-1 4-3 2 0 4 3 6-4 18 5 4-3 8 0 10 5 4-5 2-1 4 2 6-1 4 2 2-2 2-1 4 0 6 3 4-2 6 0 10 2 4-2 6 3 7-1-1-2 4 0 10 3 14-2 4-1 4 0 4 2 6-5 2 1 6 5 6 0 4 2 4-3 2-4 2-1 2 1 2 4 2 0 4-1 4-3 2-1 5 5 3 1 1-3 3-2 0 9-1 1 1 1 0 4-1 1 1 1 0 18-4-3-2 4-4 3-12 0-6 2-18-2-12 1-6-4-1-4-3-4 0-4-4-5-6 1-4 2-8 0-2 2 2 8-2 1-2-1-3-6 0-4-1-1-2 1 1 2-7 9-6 3-1-4-3-1-3 1-3 2-8 1-30 0-12 2-2 0-4-3-4 0-4 4-4-3-2 0-4-5-4-1-2 1-1 4-5 2-1-2 0-4-7-5-8 3-12 0-26 0-4-3-2-5-4-2-2-4 0-4-4 9-6 1-4 3-3-3 2-6-1-1-4 3 0 4-2 2-6-4-8 3-3-5-3-1-8 3-8-1-6 1 2 1 2 3 0 8-2 2-6 2-1 2-1 1-4-1 2-2-6-2-8 0-4 2-4 6-6 1-2 0 0-18 2-1-2-2 0-4 1 0-1 0 0-3 2-1-2-1 0-2 4-4 10-3 4 2 4-1 4 4 2-5 2 0 6 1 2 2 2 1 8-5 4 3 6-3zM150 143l-4 1 1 2 3 1 1-1 0-2zM304 143l-2 3 2 4 4 0 4-2 0-2-2-2zM332 142l-1 2 1 4 11 2 1-2-2-4-4 0zM348 148l-2 2 3 0 1-1 4-1-2-1zM359 144l-3 0 2 2zM20 138l0 2-6 4 2 2 6-2zM24 145l0 1 3 0-1 0zM322 128l2 1 0 1-2 1-1-1zM-8 133l0-2 3 1zM38 158l2 2 1 2-3 2-2 0-1-4zM51 168l3-1 1 1-1 1zM-8 174l0-3 2 0 0 3zM366 188l2-3 0 3zM32 188l2-1 2 1zM74 188l2-2 2 1 1 1zM215 188l1-2 1 2-1 0zM335 188l3-2 2 2-2 0z"/><path fill="#ee4424" fill-rule="evenodd" d="M367 22l1-1 0 7-2 0zM5 24l1-1 1 3-1 1zM179 26l3-1 8 2 1 1-1 4 0 2 2 1 4-1 4-3 2 1-1 2 3 2 2-2 0-1-2-1 4-2-1-2 3 0 1 2 3 1 2 0 1-3 3-2 2 0 4 4 2 0 10-5 4 1 2 0 0 5 2 2 4 1 2 4 0 2-2 1-4-2-4 4-2-1 0-2 4-2-1-4-1-2-2-1-4 0-4 3-12-1-1 1 0 2 9 4 2 3-2 5 2 2-14 5-22 4-12 1-10 0-16-2-8-3-4 0-16 1-4 3-3 7-13 1-4-1-3-2-2-14 4-6 0-4 3-1 2-4 2-1-4-1-6 5-4 0-2-2-4-2-1 6-3 2 0 2-6-4-1-6 3-3 8 3 4-5 4 1 14-4 2 2 0 2-4 2 0 2 4 3 4 0 6 4 10-3 2-5 2 0 4 5 2 0 6-3 16 0 2-6 2-1 3 4 2 0 3-2 0-2zM110 42l-2 2 6 1 3-1-3-2zM8 28l0-1 6-1 8 2 4-1 2 2 2 4 2 0 4 3 4 0 2 2 2 1 2-3 1-4-3-3-4 2-2 0 0-3 14-2 2 2-1 4 2 4-3 1-4 0-1 3-9 3-6-5-2-4-2 0-4 3-4 0-6 4-2-1 4-4-1-4zM70 28l4 4-2 3-5-3zM131 28l3 0 1 2-1 1-2-1zM145 28l2 0 0 2-1 0zM151 30l7-2-4 5-2-1zM203 28l3 0-2 3 0-1zM313 28l7 0 2 1 2-2 2 0 2 3 10 4 4 3 1-3-2-6 3 0 3 2 1 2-2 4 2 4-6 1-1 5-3 3-28 1-4-2-4-6-4 0-4 0-6-1-6 2-8-2-6 0-7-1-3-4 0-2 2-3 4 3 6 2 6-2 4 1 2 3 2 1 2-1-2-4 1-2 3-1 2 1 2 5 4 2 2-2 1-1-2-2 3-3 8 2 1-3zM-8 35l0-6 4 0 2 3 0 2-2 1zM128 34l2-2 1 2-1 2zM358 37l10-4 0 12-6-4-4 0-4 2-4-3 1-2 3-2zM0 39l4-5 2 0 3 4 1 2-1 2-3 2-4-3-2-1-2 2-2-2 2-1zM56 36l6-1 2 4 4 2 4 0 3 1-1 2-6-2-4 3-4-1-3-2zM261 48l3-5 4-1 2 1 1 3 0 14-3 2-4 0-1-2zM366 130l2-1 0 4-1-1zM145 132l3-1 1 1-1 2-2 0zM176 135l12-1 3 4 1 1 8-1 4-3 6 2 4-2 7 3 7-2 10 3 5-1 3-3 1 1 0 2 5 3 10 2 1 9-1 3-2 0-4 0-8 3-14 2-18 1-8-1-10 2-14-4-6 0-6-2-5-4-2-6 3-4 0-2 2 2 2-1zM289 134l5-1 3 1-3 3-2 0-4-1zM140 136l2 0 0 2-2 0zM269 138l1-1 2 1-2 2zM311 140l1-4 1 4zM117 144l11-3 4 0 4 2 4 0 2 1 3 4-1 4-4 3-28 0-6-1-3-2 0-6 3-3 2 0zM280 144l1 0-1 2-1 0zM0 152l8-5 20 1 3 2 1 6-4 3-24-1-2 1-2 6-4 1-4 0 0-15zM360 152l6-4 2 0 0 12-6-2-1 4-3 3-16 1-32 0-4-2-3-8 3-4 4 0 12 0 14-1 4 1 12-1z"/><path fill="#e92a22" fill-rule="evenodd" d="M173 36l5-1 14 3 6-1 14 4 4-1 7 6 0 2-3 4-4 2-22 4-22 1-14-2-10-4-6-1-16 3-6 10-14 1-2-1-2-2-1-11 1-4 2-1 14 0 14-4 10 3 8-5 4 0 4-2 12-1zM304 38l10-4 22 1 3 3 1 6-2 3-4 1-24 1-4-3-2-6zM262 46l2-2 2 0 2 0 3 2-1 12 0 2-2 2-4-1-1-1zM195 140l13 0 6-2 6 2 12 0 8 2 6 0 2 0 4 4 2 0 4 2-4 2-2 4-4 2-26 4-14-1-10 0-14-3-6 0-7-4 1-5 8-5 6 0zM105 146l3-1 32-1 3 2 1 4-1 2-3 2-32 0-4-2-1-4zM4 150l4-1 20 0 3 3 0 2-1 2-2 2-22-1-3-1-1-2zM365 150l3 0 0 8-5-2 0-4zM-8 152l6 1 3 3-1 6-2 2-6 1zM306 154l6-1 44 0 4 2 1 1 0 4-3 4-6 1-42 0-4-3-1-6z"/><path fill="#e41e20" fill-rule="evenodd" d="M307 38l3-1 10-1 16 1 3 3 0 4-1 2-4 1-24 1-3-2-1-4 0-2zM164 40l12-2 16 2 6-1 18 4 4 3 1 2-1 2-6 3-20 4-12 1-8 0-16-2-9-4-2-2 1-2 8-5zM118 48l14-2 4 2 1 2-5 2-6 1-6 11-12 1-4-1-2-6 0-8 4-1zM263 46l3-1 4 1 0 12-2 3-4-1zM181 146l19-5 8 1 6-2 18 2 14 4 3 2 1 4-3 2-9 1-4 2-12 1-24 0-14-4-6 0-2-2 2-4zM107 146l33-1 2 1 1 4-1 2-4 1-30 0-3-1-1-2 0-2zM7 150l21 1 2 1 0 2-1 2-3 1-20 0-2-3 0-2zM364 152l2-2 2 1 0 6-3-1-1-2zM-8 154l6 0 2 2 0 4-2 3-6 1zM308 154l44 0 6 1 1 1 1 4-2 3-6 1-42 0-3-2-1-4 0-2z"/><clipPath id="m42"><path d="M308 38l12-1 14 0 2 1 2 2 0 4-1 2-3 1-24 0-2-1-2-4 0-2zM173 40l25 1 10 1 8 2 4 4-1 2-5 3-32 5-8 0-14-2-8-4-2-2 3-4 5-3zM263 46l3-1 3 1 0 12-1 3-2 0-2-2zM128 48l4 0 0 2-6 1-7 13-11 0-4-1-2-9 1-4 19-2 4 1zM199 142l9 0 6-1 18 2 10 3 6 4 0 2-10 2-6 3-10 1-24-1-18-5-1-2 5-4zM108 146l32 0 2 1 0 3-1 2-3 1-26 0-6-1-1-2 1-3zM5 152l3-2 12 0 8 1 1 3-1 2-2 0-18 0-2 0-2-2zM365 152l3-1 0 6-3-1-1-2zM-8 164l0-9 6 0 1 3-1 5zM306 156l4-2 42 0 6 2 1 4-1 2-6 1-42 0-2-1z"/></clipPath><path fill="#fff" d="M308 38l12-1 14 0 2 1 2 2 0 4-1 2-3 1-24 0-2-1-2-4 0-2zM173 40l25 1 10 1 8 2 4 4-1 2-5 3-32 5-8 0-14-2-8-4-2-2 3-4 5-3zM263 46l3-1 3 1 0 12-1 3-2 0-2-2zM128 48l4 0 0 2-6 1-7 13-11 0-4-1-2-9 1-4 19-2 4 1zM199 142l9 0 6-1 18 2 10 3 6 4 0 2-10 2-6 3-10 1-24-1-18-5-1-2 5-4zM108 146l32 0 2 1 0 3-1 2-3 1-26 0-6-1-1-2 1-3zM5 152l3-2 12 0 8 1 1 3-1 2-2 0-18 0-2 0-2-2zM365 152l3-1 0 6-3-1-1-2zM-8 164l0-9 6 0 1 3-1 5zM306 156l4-2 42 0 6 2 1 4-1 2-6 1-42 0-2-1z"/><use href="#cst" fill="#d3d3d3" clip-path="url(#m42)"/><use href="#cst" fill="none" stroke="#000" stroke-width="2.1" stroke-linejoin="round"/></svg><rect x="438.69" y="460.58" width="17.11" height="6.52" fill="none" stroke="#000" stroke-width="1.8"/><rect x="462.07" y="463.17" width="33.89" height="8.25" fill="none" stroke="#000" stroke-width="1.8" stroke-dasharray="7.7 2.4" stroke-dashoffset="3"/><rect x="385.40" y="429.30" width="152.50" height="76.20" fill="none" stroke="#000" stroke-width="1.05"/><path d="M385.40 429.30v-3.0M385.40 505.50v3.0M389.64 429.30v-1.6M389.64 505.50v1.6M393.87 429.30v-1.6M393.87 505.50v1.6M398.11 429.30v-1.6M398.11 505.50v1.6M402.34 429.30v-1.6M402.34 505.50v1.6M406.58 429.30v-1.6M406.58 505.50v1.6M410.82 429.30v-3.0M410.82 505.50v3.0M415.05 429.30v-1.6M415.05 505.50v1.6M419.29 429.30v-1.6M419.29 505.50v1.6M423.52 429.30v-1.6M423.52 505.50v1.6M427.76 429.30v-1.6M427.76 505.50v1.6M432.00 429.30v-1.6M432.00 505.50v1.6M436.23 429.30v-3.0M436.23 505.50v3.0M440.47 429.30v-1.6M440.47 505.50v1.6M444.71 429.30v-1.6M444.71 505.50v1.6M448.94 429.30v-1.6M448.94 505.50v1.6M453.18 429.30v-1.6M453.18 505.50v1.6M457.41 429.30v-1.6M457.41 505.50v1.6M461.65 429.30v-3.0M461.65 505.50v3.0M465.89 429.30v-1.6M465.89 505.50v1.6M470.12 429.30v-1.6M470.12 505.50v1.6M474.36 429.30v-1.6M474.36 505.50v1.6M478.59 429.30v-1.6M478.59 505.50v1.6M482.83 429.30v-1.6M482.83 505.50v1.6M487.07 429.30v-3.0M487.07 505.50v3.0M491.30 429.30v-1.6M491.30 505.50v1.6M495.54 429.30v-1.6M495.54 505.50v1.6M499.77 429.30v-1.6M499.77 505.50v1.6M504.01 429.30v-1.6M504.01 505.50v1.6M508.25 429.30v-1.6M508.25 505.50v1.6M512.48 429.30v-3.0M512.48 505.50v3.0M516.72 429.30v-1.6M516.72 505.50v1.6M520.96 429.30v-1.6M520.96 505.50v1.6M525.19 429.30v-1.6M525.19 505.50v1.6M529.43 429.30v-1.6M529.43 505.50v1.6M533.66 429.30v-1.6M533.66 505.50v1.6M537.90 429.30v-3.0M537.90 505.50v3.0M385.40 505.50h-3.0M537.90 505.50h3.0M385.40 501.27h-1.6M537.90 501.27h1.6M385.40 497.03h-1.6M537.90 497.03h1.6M385.40 492.80h-3.0M537.90 492.80h3.0M385.40 488.57h-1.6M537.90 488.57h1.6M385.40 484.33h-1.6M537.90 484.33h1.6M385.40 480.10h-3.0M537.90 480.10h3.0M385.40 475.87h-1.6M537.90 475.87h1.6M385.40 471.63h-1.6M537.90 471.63h1.6M385.40 467.40h-3.0M537.90 467.40h3.0M385.40 463.17h-1.6M537.90 463.17h1.6M385.40 458.93h-1.6M537.90 458.93h1.6M385.40 454.70h-3.0M537.90 454.70h3.0M385.40 450.47h-1.6M537.90 450.47h1.6M385.40 446.23h-1.6M537.90 446.23h1.6M385.40 442.00h-3.0M537.90 442.00h3.0M385.40 437.77h-1.6M537.90 437.77h1.6M385.40 433.53h-1.6M537.90 433.53h1.6M385.40 429.30h-3.0M537.90 429.30h3.0" stroke="#000" stroke-width="0.85" fill="none"/><g font-size="5.2" fill="#000" stroke="#000" stroke-width="0.22"><text x="379.20" y="443.90" text-anchor="end">60N</text><text x="379.20" y="456.60" text-anchor="end">30N</text><text x="379.20" y="469.30" text-anchor="end">0</text><text x="379.20" y="482.00" text-anchor="end">30S</text><text x="379.20" y="494.70" text-anchor="end">60S</text><text x="385.40" y="515.90" text-anchor="middle">0</text><text x="410.82" y="515.90" text-anchor="middle">60E</text><text x="436.23" y="515.90" text-anchor="middle">120E</text><text x="461.65" y="515.90" text-anchor="middle">180</text><text x="487.07" y="515.90" text-anchor="middle">120W</text><text x="512.48" y="515.90" text-anchor="middle">60W</text><text x="537.90" y="515.90" text-anchor="middle">0</text></g><text x="385.60" y="422.00" font-size="6.2" fill="#000" stroke="#000" stroke-width="0.25">(o) surface</text><text transform="translate(7.3 472.20) rotate(-90)" text-anchor="middle" font-size="7.8" fill="#000" stroke="#000" stroke-width="0.25">TOE</text><rect x="553.50" y="427.40" width="6.80" height="3.53" fill="#e41e20"/><rect x="553.50" y="430.88" width="6.80" height="3.53" fill="#e92a22"/><rect x="553.50" y="434.37" width="6.80" height="3.53" fill="#ee4424"/><rect x="553.50" y="437.85" width="6.80" height="3.53" fill="#f25c28"/><rect x="553.50" y="441.34" width="6.80" height="3.53" fill="#f4782c"/><rect x="553.50" y="444.82" width="6.80" height="3.53" fill="#f69432"/><rect x="553.50" y="448.30" width="6.80" height="3.53" fill="#f6b236"/><rect x="553.50" y="451.79" width="6.80" height="3.53" fill="#f6cc3c"/><rect x="553.50" y="455.27" width="6.80" height="3.53" fill="#eedc40"/><rect x="553.50" y="458.76" width="6.80" height="3.53" fill="#e2e244"/><rect x="553.50" y="462.24" width="6.80" height="3.53" fill="#d4de42"/><rect x="553.50" y="465.72" width="6.80" height="3.53" fill="#c6d840"/><rect x="553.50" y="469.21" width="6.80" height="3.53" fill="#b8d640"/><rect x="553.50" y="472.69" width="6.80" height="3.53" fill="#a0ce40"/><rect x="553.50" y="476.18" width="6.80" height="3.53" fill="#84c440"/><rect x="553.50" y="479.66" width="6.80" height="3.53" fill="#6cbc40"/><rect x="553.50" y="483.14" width="6.80" height="3.53" fill="#5cb44c"/><rect x="553.50" y="486.63" width="6.80" height="3.53" fill="#74c6a0"/><rect x="553.50" y="490.11" width="6.80" height="3.53" fill="#98dce4"/><rect x="553.50" y="493.60" width="6.80" height="3.53" fill="#84d4e2"/><rect x="553.50" y="497.08" width="6.80" height="3.53" fill="#68ccdc"/><rect x="553.50" y="500.56" width="6.80" height="3.53" fill="#4ec0dc"/><rect x="553.50" y="504.05" width="6.80" height="3.53" fill="#2ca0e0"/><rect x="553.50" y="507.53" width="6.80" height="3.53" fill="#2478c8"/><rect x="553.50" y="511.02" width="6.80" height="3.53" fill="#2058a8"/><path d="M553.50 430.88h6.80M553.50 434.37h6.80M553.50 437.85h6.80M553.50 441.34h6.80M553.50 444.82h6.80M553.50 448.30h6.80M553.50 451.79h6.80M553.50 455.27h6.80M553.50 458.76h6.80M553.50 462.24h6.80M553.50 465.72h6.80M553.50 469.21h6.80M553.50 472.69h6.80M553.50 476.18h6.80M553.50 479.66h6.80M553.50 483.14h6.80M553.50 486.63h6.80M553.50 490.11h6.80M553.50 493.60h6.80M553.50 497.08h6.80M553.50 500.56h6.80M553.50 504.05h6.80M553.50 507.53h6.80M553.50 511.02h6.80" stroke="#222" stroke-width="0.7"/><rect x="553.50" y="427.40" width="6.80" height="87.10" fill="none" stroke="#555" stroke-width="0.9"/><g font-size="5.4" fill="#000" stroke="#000" stroke-width="0.22" text-anchor="middle"><text x="568.0" y="436.92">2010</text><text x="568.0" y="443.89">2000</text><text x="568.0" y="450.85">1990</text><text x="568.0" y="457.82">1980</text><text x="568.0" y="464.79">1970</text><text x="568.0" y="471.76">1960</text><text x="568.0" y="478.73">1950</text><text x="568.0" y="485.69">1940</text><text x="568.0" y="492.66">1930</text><text x="568.0" y="499.63">1920</text><text x="568.0" y="506.60">1910</text><text x="568.0" y="513.57">1900</text></g></svg></body></html>
